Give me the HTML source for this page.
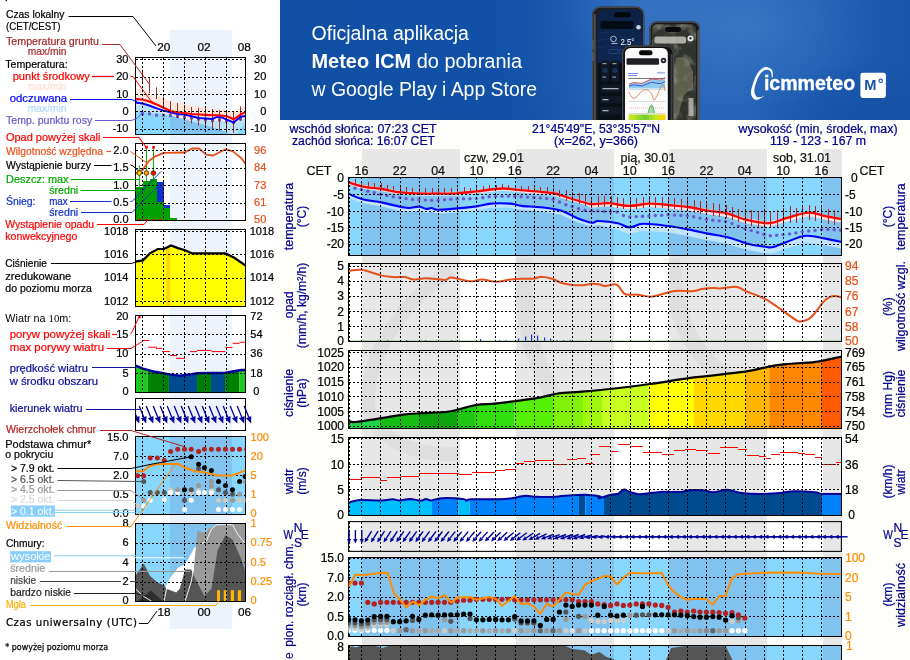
<!DOCTYPE html>
<html lang="pl"><head><meta charset="utf-8"><title>Meteogram ICM</title>
<style>
html,body{margin:0;padding:0;background:#fff;}
body{width:910px;height:660px;overflow:hidden;font-family:"Liberation Sans",sans-serif;}
svg{display:block;will-change:transform;font-family:"Liberation Sans",sans-serif;}
.g{stroke:#000;stroke-width:1;stroke-dasharray:2 2;fill:none;shape-rendering:crispEdges}
.f{stroke:#000;stroke-width:1;fill:none;shape-rendering:crispEdges}
.c{shape-rendering:crispEdges}
</style></head><body>
<svg width="910" height="660" viewBox="0 0 910 660">
<g id="left">
<rect x="0" y="0" width="280" height="660" fill="#fff" />
<rect x="170" y="30" width="61.69999999999999" height="598.5" fill="#edf3fd" class="c"/>
<line x1="6.3" y1="0" x2="6.3" y2="1.2" stroke="#000" stroke-width="1.2" />
<text x="163.7" y="51.4" font-size="11.8" fill="#000" text-anchor="middle" stroke="#000" stroke-width="0.22">20</text>
<text x="204" y="51.4" font-size="11.8" fill="#000" text-anchor="middle" stroke="#000" stroke-width="0.22">02</text>
<text x="244.3" y="51.4" font-size="11.8" fill="#000" text-anchor="middle" stroke="#000" stroke-width="0.22">08</text>
<clipPath id="lc1"><rect x="135.5" y="57.5" width="110.0" height="77.0"/></clipPath>
<g clip-path="url(#lc1)">
<polygon points="135.3,102.4 142.5,103.5 149.8,105.7 156.6,108.4 163.6,110.6 170.6,112.3 177.5,114.0 184.5,114.5 191.6,116.3 198.6,118.0 205.6,118.5 212.6,118.9 217.0,116.9 222.3,117.6 226.7,119.6 233.7,122.5 240.5,116.7 245.7,115.9 246.0,135.0 135.0,135.0" fill="#b9e3fb" />
<polygon points="135.3,87.9 149.8,93.2 169.6,101.1 189.3,105.0 209.1,108.4 232.9,111.0 244.7,106.4 246.0,106.0 245.7,117.5 240.5,120.0 233.7,124.8 226.7,121.8 219.7,120.8 212.6,120.8 205.6,120.4 198.6,120.0 191.6,119.5 184.5,118.5 177.5,117.8 170.6,116.5 163.6,113.2 156.6,109.9 149.8,107.3 142.5,105.0 135.3,104.6" fill="#ffe8dc" />
<polygon points="135.3,111.6 169.6,115.0 189.3,120.9 209.1,126.2 225.0,131.4 231.0,134.5 236.0,134.5 244.7,123.5 246.0,123.0 246.0,135.0 135.0,135.0" fill="#88d7ff" />
<clipPath id="lc1n"><rect x="170" y="57.5" width="61.69999999999999" height="77.0"/></clipPath>
<polygon points="135.3,111.6 169.6,115.0 189.3,120.9 209.1,126.2 225.0,131.4 231.0,134.5 236.0,134.5 244.7,123.5 246.0,123.0 246.0,135.0 135.0,135.0" fill="#80c3ee" clip-path="url(#lc1n)"/>
<rect x="141.0" y="112.1" width="3" height="3" fill="#6a5acd" />
<rect x="148.0" y="112.3" width="3" height="3" fill="#6a5acd" />
<rect x="155.0" y="113.7" width="3" height="3" fill="#6a5acd" />
<rect x="162.0" y="113.7" width="3" height="3" fill="#6a5acd" />
<rect x="169.0" y="114.1" width="3" height="3" fill="#6a5acd" />
<rect x="176.0" y="115.0" width="3" height="3" fill="#6a5acd" />
<rect x="183.0" y="116.0" width="3" height="3" fill="#6a5acd" />
<rect x="190.0" y="116.5" width="3" height="3" fill="#6a5acd" />
<rect x="197.0" y="117.5" width="3" height="3" fill="#6a5acd" />
<rect x="204.0" y="118.5" width="3" height="3" fill="#6a5acd" />
<rect x="211.0" y="119.0" width="3" height="3" fill="#6a5acd" />
<rect x="218.0" y="118.5" width="3" height="3" fill="#6a5acd" />
<rect x="225.0" y="119.5" width="3" height="3" fill="#6a5acd" />
<rect x="232.0" y="121.0" width="3" height="3" fill="#6a5acd" />
<rect x="239.0" y="117.5" width="3" height="3" fill="#6a5acd" />
<line x1="142.5" y1="69.6" x2="142.5" y2="82.7" stroke="#a52a2a" stroke-width="1" />
<line x1="149.5" y1="77.5" x2="149.5" y2="93.3" stroke="#a52a2a" stroke-width="1" />
<line x1="156.5" y1="87.3" x2="156.5" y2="99.1" stroke="#a52a2a" stroke-width="1" />
<line x1="163.5" y1="96.5" x2="163.5" y2="106.4" stroke="#a52a2a" stroke-width="1" />
<line x1="170.5" y1="101.1" x2="170.5" y2="115" stroke="#a52a2a" stroke-width="1" />
<line x1="177.5" y1="103" x2="177.5" y2="118.2" stroke="#a52a2a" stroke-width="1" />
<line x1="184.5" y1="105" x2="184.5" y2="120.9" stroke="#a52a2a" stroke-width="1" />
<line x1="191.5" y1="107" x2="191.5" y2="123.5" stroke="#a52a2a" stroke-width="1" />
<line x1="198.5" y1="107.7" x2="198.5" y2="125.5" stroke="#a52a2a" stroke-width="1" />
<line x1="205.5" y1="108.4" x2="205.5" y2="127.5" stroke="#a52a2a" stroke-width="1" />
<line x1="212.5" y1="109" x2="212.5" y2="129.5" stroke="#a52a2a" stroke-width="1" />
<line x1="219.5" y1="110.3" x2="219.5" y2="130.8" stroke="#a52a2a" stroke-width="1" />
<line x1="226.5" y1="111" x2="226.5" y2="132.7" stroke="#a52a2a" stroke-width="1" />
<line x1="233.5" y1="111.6" x2="233.5" y2="132.7" stroke="#a52a2a" stroke-width="1" />
<line x1="240.5" y1="106.4" x2="240.5" y2="120.9" stroke="#a52a2a" stroke-width="1" />
<polyline points="135.3,102.4 142.5,103.5 149.8,105.7 156.6,108.4 163.6,110.6 170.6,112.3 177.5,114.0 184.5,114.5 191.6,116.3 198.6,118.0 205.6,118.5 212.6,118.9 217.0,116.9 222.3,117.6 226.7,119.6 233.7,122.5 240.5,116.7 245.7,115.9" fill="none" stroke="#0000ff" stroke-width="2" stroke-linejoin="round"/>
<polyline points="135.3,99.1 142.5,99.5 149.8,101.8 156.6,104.4 163.6,107.7 170.6,111.0 177.5,112.3 184.5,113.0 191.6,114.0 198.6,114.5 205.6,114.9 212.6,115.3 219.7,115.3 226.7,116.3 233.7,119.3 240.5,114.5 245.7,112.0" fill="none" stroke="#ff0000" stroke-width="2.1" stroke-linejoin="round"/>
</g>
<line x1="142.5" y1="57.5" x2="142.5" y2="134.5" stroke="#000" stroke-width="1" class="g"/>
<line x1="163.5" y1="57.5" x2="163.5" y2="134.5" stroke="#000" stroke-width="1" class="g"/>
<line x1="184.5" y1="57.5" x2="184.5" y2="134.5" stroke="#000" stroke-width="1" class="g"/>
<line x1="205.5" y1="57.5" x2="205.5" y2="134.5" stroke="#000" stroke-width="1" class="g"/>
<line x1="226.5" y1="57.5" x2="226.5" y2="134.5" stroke="#000" stroke-width="1" class="g"/>
<line x1="135.5" y1="59.9" x2="245.5" y2="59.9" stroke="#000" stroke-width="1" class="g"/>
<line x1="135.5" y1="77.3" x2="245.5" y2="77.3" stroke="#000" stroke-width="1" class="g"/>
<line x1="135.5" y1="94.6" x2="245.5" y2="94.6" stroke="#000" stroke-width="1" class="g"/>
<line x1="135.5" y1="111.9" x2="245.5" y2="111.9" stroke="#000" stroke-width="1" class="g"/>
<line x1="135.5" y1="129.2" x2="245.5" y2="129.2" stroke="#000" stroke-width="1" class="g"/>
<rect x="135.5" y="57.5" width="110.0" height="77.0" class="f"/>
<text x="128.5" y="63.0" font-size="11" fill="#000" text-anchor="end" stroke="#000" stroke-width="0.22">30</text>
<text x="266.3" y="63.0" font-size="11" fill="#000" text-anchor="end" stroke="#000" stroke-width="0.22">30</text>
<text x="128.5" y="80.39999999999999" font-size="11" fill="#000" text-anchor="end" stroke="#000" stroke-width="0.22">20</text>
<text x="266.3" y="80.39999999999999" font-size="11" fill="#000" text-anchor="end" stroke="#000" stroke-width="0.22">20</text>
<text x="128.5" y="97.69999999999999" font-size="11" fill="#000" text-anchor="end" stroke="#000" stroke-width="0.22">10</text>
<text x="266.3" y="97.69999999999999" font-size="11" fill="#000" text-anchor="end" stroke="#000" stroke-width="0.22">10</text>
<text x="128.5" y="115.0" font-size="11" fill="#000" text-anchor="end" stroke="#000" stroke-width="0.22">0</text>
<text x="266.3" y="115.0" font-size="11" fill="#000" text-anchor="end" stroke="#000" stroke-width="0.22">0</text>
<text x="128.5" y="132.29999999999998" font-size="11" fill="#000" text-anchor="end" stroke="#000" stroke-width="0.22">-10</text>
<text x="266.3" y="132.29999999999998" font-size="11" fill="#000" text-anchor="end" stroke="#000" stroke-width="0.22">-10</text>
<clipPath id="lc2"><rect x="135.5" y="143.5" width="110.0" height="77.0"/></clipPath>
<g clip-path="url(#lc2)">
<rect x="136" y="187.1" width="6.900000000000006" height="33.900000000000006" fill="#00a000" class="c"/>
<rect x="142.9" y="181" width="7.0" height="40" fill="#00a000" class="c"/>
<rect x="149.9" y="179.2" width="7.099999999999994" height="41.80000000000001" fill="#00a000" class="c"/>
<rect x="157" y="202" width="7" height="19" fill="#00a000" class="c"/>
<rect x="164" y="208.2" width="6" height="12.800000000000011" fill="#00a000" class="c"/>
<rect x="170" y="218.4" width="7" height="2.5999999999999943" fill="#00a000" class="c"/>
<rect x="157" y="181.9" width="7" height="20.1" fill="#1030d0" class="c"/>
<rect x="164" y="205.3" width="6" height="2.9" fill="#1030d0" class="c"/>
<line x1="139.3" y1="165.2" x2="139.3" y2="187" stroke="#00a000" stroke-width="1" />
<line x1="146.4" y1="147" x2="146.4" y2="181" stroke="#00a000" stroke-width="1" />
<line x1="153.4" y1="147" x2="153.4" y2="180" stroke="#00a000" stroke-width="1" />
<rect x="145.20000000000002" y="146" width="2.6" height="2.6" fill="#ff0000" />
<rect x="152.20000000000002" y="146" width="2.6" height="2.6" fill="#ff0000" />
<polyline points="135.5,173.6 142.9,169.6 149.0,160.8 155.2,156.4 164.0,152.9 185.0,152.5 192.0,148.5 199.0,148.5 206.2,154.6 213.2,155.5 225.5,149.3 232.5,151.1 241.3,158.1 245.7,164.3" fill="none" stroke="#e8501a" stroke-width="1.8" stroke-linejoin="round"/>
<circle cx="139.3" cy="173" r="2.3" fill="#ffe000" stroke="#5a2a00" stroke-width="0.9"/>
<circle cx="146.4" cy="173" r="2.3" fill="#ffa500" stroke="#5a2a00" stroke-width="0.9"/>
<circle cx="153.4" cy="173" r="2.3" fill="#ff0000" stroke="#5a2a00" stroke-width="0.9"/>
<rect x="138" y="219" width="3" height="1" fill="#ff0000" />
<rect x="145" y="219" width="3" height="1" fill="#ff0000" />
<rect x="152" y="219" width="3" height="1" fill="#ff0000" />
<rect x="159" y="219" width="3" height="1" fill="#ff0000" />
</g>
<line x1="142.5" y1="143.5" x2="142.5" y2="220.5" stroke="#000" stroke-width="1" class="g"/>
<line x1="163.5" y1="143.5" x2="163.5" y2="220.5" stroke="#000" stroke-width="1" class="g"/>
<line x1="184.5" y1="143.5" x2="184.5" y2="220.5" stroke="#000" stroke-width="1" class="g"/>
<line x1="205.5" y1="143.5" x2="205.5" y2="220.5" stroke="#000" stroke-width="1" class="g"/>
<line x1="226.5" y1="143.5" x2="226.5" y2="220.5" stroke="#000" stroke-width="1" class="g"/>
<line x1="135.5" y1="150.7" x2="245.5" y2="150.7" stroke="#000" stroke-width="1" class="g"/>
<line x1="135.5" y1="168.2" x2="245.5" y2="168.2" stroke="#000" stroke-width="1" class="g"/>
<line x1="135.5" y1="185.6" x2="245.5" y2="185.6" stroke="#000" stroke-width="1" class="g"/>
<line x1="135.5" y1="203" x2="245.5" y2="203" stroke="#000" stroke-width="1" class="g"/>
<line x1="135.5" y1="220.2" x2="245.5" y2="220.2" stroke="#000" stroke-width="1" class="g"/>
<rect x="135.5" y="143.5" width="110.0" height="77.0" class="f"/>
<text x="128.5" y="153.79999999999998" font-size="11" fill="#000" text-anchor="end" stroke="#000" stroke-width="0.22">2.0</text>
<text x="266.3" y="153.79999999999998" font-size="11" fill="#e8501a" text-anchor="end" stroke="#e8501a" stroke-width="0.22">96</text>
<text x="128.5" y="171.29999999999998" font-size="11" fill="#000" text-anchor="end" stroke="#000" stroke-width="0.22">1.5</text>
<text x="266.3" y="171.29999999999998" font-size="11" fill="#e8501a" text-anchor="end" stroke="#e8501a" stroke-width="0.22">84</text>
<text x="128.5" y="188.7" font-size="11" fill="#000" text-anchor="end" stroke="#000" stroke-width="0.22">1.0</text>
<text x="266.3" y="188.7" font-size="11" fill="#e8501a" text-anchor="end" stroke="#e8501a" stroke-width="0.22">73</text>
<text x="128.5" y="206.1" font-size="11" fill="#000" text-anchor="end" stroke="#000" stroke-width="0.22">0.5</text>
<text x="266.3" y="206.1" font-size="11" fill="#e8501a" text-anchor="end" stroke="#e8501a" stroke-width="0.22">61</text>
<text x="128.5" y="223.29999999999998" font-size="11" fill="#000" text-anchor="end" stroke="#000" stroke-width="0.22">0.0</text>
<text x="266.3" y="223.29999999999998" font-size="11" fill="#e8501a" text-anchor="end" stroke="#e8501a" stroke-width="0.22">50</text>
<clipPath id="lc3"><rect x="135.5" y="229.5" width="110.0" height="77.0"/></clipPath>
<g clip-path="url(#lc3)">
<polygon points="135.5,261.7 142.9,260.4 149.9,253.4 157.8,249.0 164.0,249.0 171.0,245.5 178.0,248.1 185.0,250.2 192.1,253.4 225.5,253.4 234.3,257.8 245.7,265.7 246.0,307.0 135.0,307.0" fill="#ffff00" />
<clipPath id="lc3b"><rect x="166" y="229" width="4.3" height="80"/></clipPath>
<polygon points="135.5,261.7 142.9,260.4 149.9,253.4 157.8,249.0 164.0,249.0 171.0,245.5 178.0,248.1 185.0,250.2 192.1,253.4 225.5,253.4 234.3,257.8 245.7,265.7 246.0,307.0 135.0,307.0" fill="#ffd700" clip-path="url(#lc3b)"/>
<polyline points="135.5,261.7 142.9,260.4 149.9,253.4 157.8,249.0 164.0,249.0 171.0,245.5 178.0,248.1 185.0,250.2 192.1,253.4 225.5,253.4 234.3,257.8 245.7,265.7" fill="none" stroke="#000" stroke-width="2.2" />
</g>
<line x1="142.5" y1="229.5" x2="142.5" y2="306.5" stroke="#000" stroke-width="1" class="g"/>
<line x1="163.5" y1="229.5" x2="163.5" y2="306.5" stroke="#000" stroke-width="1" class="g"/>
<line x1="184.5" y1="229.5" x2="184.5" y2="306.5" stroke="#000" stroke-width="1" class="g"/>
<line x1="205.5" y1="229.5" x2="205.5" y2="306.5" stroke="#000" stroke-width="1" class="g"/>
<line x1="226.5" y1="229.5" x2="226.5" y2="306.5" stroke="#000" stroke-width="1" class="g"/>
<line x1="135.5" y1="231.4" x2="245.5" y2="231.4" stroke="#000" stroke-width="1" class="g"/>
<line x1="135.5" y1="254.7" x2="245.5" y2="254.7" stroke="#000" stroke-width="1" class="g"/>
<line x1="135.5" y1="278" x2="245.5" y2="278" stroke="#000" stroke-width="1" class="g"/>
<line x1="135.5" y1="301.6" x2="245.5" y2="301.6" stroke="#000" stroke-width="1" class="g"/>
<rect x="135.5" y="229.5" width="110.0" height="77.0" class="f"/>
<text x="128.5" y="234.5" font-size="11" fill="#000" text-anchor="end" stroke="#000" stroke-width="0.22">1018</text>
<text x="274.2" y="234.5" font-size="11" fill="#000" text-anchor="end" stroke="#000" stroke-width="0.22">1018</text>
<text x="128.5" y="257.8" font-size="11" fill="#000" text-anchor="end" stroke="#000" stroke-width="0.22">1016</text>
<text x="274.2" y="257.8" font-size="11" fill="#000" text-anchor="end" stroke="#000" stroke-width="0.22">1016</text>
<text x="128.5" y="281.1" font-size="11" fill="#000" text-anchor="end" stroke="#000" stroke-width="0.22">1014</text>
<text x="274.2" y="281.1" font-size="11" fill="#000" text-anchor="end" stroke="#000" stroke-width="0.22">1014</text>
<text x="128.5" y="304.70000000000005" font-size="11" fill="#000" text-anchor="end" stroke="#000" stroke-width="0.22">1012</text>
<text x="274.2" y="304.70000000000005" font-size="11" fill="#000" text-anchor="end" stroke="#000" stroke-width="0.22">1012</text>
<clipPath id="lc4"><rect x="135.5" y="315.5" width="110.0" height="77.0"/></clipPath>
<g clip-path="url(#lc4)">
<clipPath id="lc4_0"><rect x="135.5" y="315" width="12.300000000000011" height="80"/></clipPath>
<polygon points="135.5,365.7 142.9,368.6 155.2,371.8 169.2,374.4 179.8,375.7 190.3,374.4 197.4,373.2 225.5,372.7 232.5,371.5 241.3,370.0 245.7,370.0 246.0,393.0 135.0,393.0" fill="#1fc81f" clip-path="url(#lc4_0)"/>
<clipPath id="lc4_1"><rect x="147.8" y="315" width="21.099999999999994" height="80"/></clipPath>
<polygon points="135.5,365.7 142.9,368.6 155.2,371.8 169.2,374.4 179.8,375.7 190.3,374.4 197.4,373.2 225.5,372.7 232.5,371.5 241.3,370.0 245.7,370.0 246.0,393.0 135.0,393.0" fill="#008000" clip-path="url(#lc4_1)"/>
<clipPath id="lc4_2"><rect x="168.9" y="315" width="28.099999999999994" height="80"/></clipPath>
<polygon points="135.5,365.7 142.9,368.6 155.2,371.8 169.2,374.4 179.8,375.7 190.3,374.4 197.4,373.2 225.5,372.7 232.5,371.5 241.3,370.0 245.7,370.0 246.0,393.0 135.0,393.0" fill="#004a8f" clip-path="url(#lc4_2)"/>
<clipPath id="lc4_3"><rect x="197" y="315" width="14" height="80"/></clipPath>
<polygon points="135.5,365.7 142.9,368.6 155.2,371.8 169.2,374.4 179.8,375.7 190.3,374.4 197.4,373.2 225.5,372.7 232.5,371.5 241.3,370.0 245.7,370.0 246.0,393.0 135.0,393.0" fill="#008000" clip-path="url(#lc4_3)"/>
<clipPath id="lc4_4"><rect x="211" y="315" width="14.099999999999994" height="80"/></clipPath>
<polygon points="135.5,365.7 142.9,368.6 155.2,371.8 169.2,374.4 179.8,375.7 190.3,374.4 197.4,373.2 225.5,372.7 232.5,371.5 241.3,370.0 245.7,370.0 246.0,393.0 135.0,393.0" fill="#004a8f" clip-path="url(#lc4_4)"/>
<clipPath id="lc4_5"><rect x="225.1" y="315" width="14.099999999999994" height="80"/></clipPath>
<polygon points="135.5,365.7 142.9,368.6 155.2,371.8 169.2,374.4 179.8,375.7 190.3,374.4 197.4,373.2 225.5,372.7 232.5,371.5 241.3,370.0 245.7,370.0 246.0,393.0 135.0,393.0" fill="#008000" clip-path="url(#lc4_5)"/>
<clipPath id="lc4_6"><rect x="239.2" y="315" width="6.800000000000011" height="80"/></clipPath>
<polygon points="135.5,365.7 142.9,368.6 155.2,371.8 169.2,374.4 179.8,375.7 190.3,374.4 197.4,373.2 225.5,372.7 232.5,371.5 241.3,370.0 245.7,370.0 246.0,393.0 135.0,393.0" fill="#1fc81f" clip-path="url(#lc4_6)"/>
<polyline points="135.5,365.7 142.9,368.6 155.2,371.8 169.2,374.4 179.8,375.7 190.3,374.4 197.4,373.2 225.5,372.7 232.5,371.5 241.3,370.0 245.7,370.0" fill="none" stroke="#0000a0" stroke-width="2.4" />
<line x1="142.9" y1="340.5" x2="149" y2="340.5" stroke="#ff0000" stroke-width="1" />
<line x1="148" y1="347.2" x2="157" y2="347.2" stroke="#ff0000" stroke-width="1" />
<line x1="156" y1="348.4" x2="162" y2="348.4" stroke="#ff0000" stroke-width="1" />
<line x1="162" y1="351.6" x2="170" y2="351.6" stroke="#ff0000" stroke-width="1" />
<line x1="170" y1="355.6" x2="177" y2="355.6" stroke="#ff0000" stroke-width="1" />
<line x1="176" y1="358.3" x2="185" y2="358.3" stroke="#ff0000" stroke-width="1" />
<line x1="190" y1="351.6" x2="197" y2="351.6" stroke="#ff0000" stroke-width="1" />
<line x1="197" y1="350.4" x2="211.4" y2="350.4" stroke="#ff0000" stroke-width="1" />
<line x1="211.4" y1="351.6" x2="225.5" y2="351.6" stroke="#ff0000" stroke-width="1" />
<line x1="225.5" y1="347.5" x2="232.5" y2="347.5" stroke="#ff0000" stroke-width="1" />
<line x1="232.5" y1="343.3" x2="239.6" y2="343.3" stroke="#ff0000" stroke-width="1" />
<line x1="239.6" y1="342.3" x2="245.7" y2="342.3" stroke="#ff0000" stroke-width="1" />
<rect x="138.2" y="315.8" width="2.4" height="2.4" fill="#ff0000" />
</g>
<line x1="142.5" y1="315.5" x2="142.5" y2="392.5" stroke="#000" stroke-width="1" class="g"/>
<line x1="163.5" y1="315.5" x2="163.5" y2="392.5" stroke="#000" stroke-width="1" class="g"/>
<line x1="184.5" y1="315.5" x2="184.5" y2="392.5" stroke="#000" stroke-width="1" class="g"/>
<line x1="205.5" y1="315.5" x2="205.5" y2="392.5" stroke="#000" stroke-width="1" class="g"/>
<line x1="226.5" y1="315.5" x2="226.5" y2="392.5" stroke="#000" stroke-width="1" class="g"/>
<line x1="135.5" y1="334" x2="245.5" y2="334" stroke="#000" stroke-width="1" class="g"/>
<line x1="135.5" y1="354.2" x2="245.5" y2="354.2" stroke="#000" stroke-width="1" class="g"/>
<line x1="135.5" y1="373.6" x2="245.5" y2="373.6" stroke="#000" stroke-width="1" class="g"/>
<rect x="135.5" y="315.5" width="110.0" height="77.0" class="f"/>
<text x="128.5" y="319.6" font-size="11" fill="#000" text-anchor="end" stroke="#000" stroke-width="0.22">20</text>
<text x="256.4" y="319.6" font-size="11" fill="#000" text-anchor="middle" stroke="#000" stroke-width="0.22">72</text>
<text x="128.5" y="337.6" font-size="11" fill="#000" text-anchor="end" stroke="#000" stroke-width="0.22">15</text>
<text x="256.4" y="337.6" font-size="11" fill="#000" text-anchor="middle" stroke="#000" stroke-width="0.22">54</text>
<text x="128.5" y="357.3" font-size="11" fill="#000" text-anchor="end" stroke="#000" stroke-width="0.22">10</text>
<text x="256.4" y="357.3" font-size="11" fill="#000" text-anchor="middle" stroke="#000" stroke-width="0.22">36</text>
<text x="128.5" y="376.70000000000005" font-size="11" fill="#000" text-anchor="end" stroke="#000" stroke-width="0.22">5</text>
<text x="256.4" y="376.70000000000005" font-size="11" fill="#000" text-anchor="middle" stroke="#000" stroke-width="0.22">18</text>
<text x="128.5" y="395.1" font-size="11" fill="#000" text-anchor="end" stroke="#000" stroke-width="0.22">0</text>
<text x="256.4" y="395.1" font-size="11" fill="#000" text-anchor="middle" stroke="#000" stroke-width="0.22">0</text>
<line x1="142.5" y1="398.5" x2="142.5" y2="430.5" stroke="#000" stroke-width="1" class="g"/>
<line x1="163.5" y1="398.5" x2="163.5" y2="430.5" stroke="#000" stroke-width="1" class="g"/>
<line x1="184.5" y1="398.5" x2="184.5" y2="430.5" stroke="#000" stroke-width="1" class="g"/>
<line x1="205.5" y1="398.5" x2="205.5" y2="430.5" stroke="#000" stroke-width="1" class="g"/>
<line x1="226.5" y1="398.5" x2="226.5" y2="430.5" stroke="#000" stroke-width="1" class="g"/>
<rect x="135.5" y="398.5" width="110.0" height="32.0" class="f"/>
<clipPath id="lc5"><rect x="135.5" y="398.5" width="116.0" height="32.0"/></clipPath><g clip-path="url(#lc5)">
<line x1="132.2" y1="406.1" x2="136.7" y2="417.1" stroke="#00009c" stroke-width="1.3" />
<polygon points="139.3,423.4 133.9,418.2 139.5,416.0" fill="#00009c" />
<line x1="139.2" y1="406.1" x2="143.7" y2="417.1" stroke="#00009c" stroke-width="1.3" />
<polygon points="146.3,423.4 140.9,418.2 146.5,416.0" fill="#00009c" />
<line x1="146.2" y1="406.1" x2="150.7" y2="417.1" stroke="#00009c" stroke-width="1.3" />
<polygon points="153.3,423.4 147.9,418.2 153.5,416.0" fill="#00009c" />
<line x1="153.2" y1="406.1" x2="157.7" y2="417.1" stroke="#00009c" stroke-width="1.3" />
<polygon points="160.3,423.4 154.9,418.2 160.5,416.0" fill="#00009c" />
<line x1="160.2" y1="406.1" x2="164.7" y2="417.1" stroke="#00009c" stroke-width="1.3" />
<polygon points="167.3,423.4 161.9,418.2 167.5,416.0" fill="#00009c" />
<line x1="167.2" y1="406.1" x2="171.7" y2="417.1" stroke="#00009c" stroke-width="1.3" />
<polygon points="174.3,423.4 168.9,418.2 174.5,416.0" fill="#00009c" />
<line x1="174.2" y1="406.1" x2="178.7" y2="417.1" stroke="#00009c" stroke-width="1.3" />
<polygon points="181.3,423.4 175.9,418.2 181.5,416.0" fill="#00009c" />
<line x1="181.2" y1="406.1" x2="185.7" y2="417.1" stroke="#00009c" stroke-width="1.3" />
<polygon points="188.3,423.4 182.9,418.2 188.5,416.0" fill="#00009c" />
<line x1="188.2" y1="406.1" x2="192.7" y2="417.1" stroke="#00009c" stroke-width="1.3" />
<polygon points="195.3,423.4 189.9,418.2 195.5,416.0" fill="#00009c" />
<line x1="195.2" y1="406.1" x2="199.7" y2="417.1" stroke="#00009c" stroke-width="1.3" />
<polygon points="202.3,423.4 196.9,418.2 202.5,416.0" fill="#00009c" />
<line x1="202.2" y1="406.1" x2="206.7" y2="417.1" stroke="#00009c" stroke-width="1.3" />
<polygon points="209.3,423.4 203.9,418.2 209.5,416.0" fill="#00009c" />
<line x1="209.2" y1="406.1" x2="213.7" y2="417.1" stroke="#00009c" stroke-width="1.3" />
<polygon points="216.3,423.4 210.9,418.2 216.5,416.0" fill="#00009c" />
<line x1="216.2" y1="406.1" x2="220.7" y2="417.1" stroke="#00009c" stroke-width="1.3" />
<polygon points="223.3,423.4 217.9,418.2 223.5,416.0" fill="#00009c" />
<line x1="223.2" y1="406.1" x2="227.7" y2="417.1" stroke="#00009c" stroke-width="1.3" />
<polygon points="230.3,423.4 224.9,418.2 230.5,416.0" fill="#00009c" />
<line x1="230.2" y1="406.1" x2="234.7" y2="417.1" stroke="#00009c" stroke-width="1.3" />
<polygon points="237.3,423.4 231.9,418.2 237.5,416.0" fill="#00009c" />
<line x1="237.2" y1="406.1" x2="241.7" y2="417.1" stroke="#00009c" stroke-width="1.3" />
<polygon points="244.3,423.4 238.9,418.2 244.5,416.0" fill="#00009c" />
<line x1="244.2" y1="406.1" x2="248.7" y2="417.1" stroke="#00009c" stroke-width="1.3" />
<polygon points="251.3,423.4 245.9,418.2 251.5,416.0" fill="#00009c" />
</g>
<rect x="135.5" y="436.5" width="110.0" height="77.5" fill="#88d7ff" class="c"/>
<rect x="170" y="436.5" width="61.69999999999999" height="77.5" fill="#80c3ee" class="c"/>
<clipPath id="lc6"><rect x="135.5" y="436.5" width="110.0" height="77.5"/></clipPath>
<line x1="142.5" y1="436.5" x2="142.5" y2="514" stroke="#000" stroke-width="1" class="g"/>
<line x1="163.5" y1="436.5" x2="163.5" y2="514" stroke="#000" stroke-width="1" class="g"/>
<line x1="184.5" y1="436.5" x2="184.5" y2="514" stroke="#000" stroke-width="1" class="g"/>
<line x1="205.5" y1="436.5" x2="205.5" y2="514" stroke="#000" stroke-width="1" class="g"/>
<line x1="226.5" y1="436.5" x2="226.5" y2="514" stroke="#000" stroke-width="1" class="g"/>
<line x1="135.5" y1="456.4" x2="245.5" y2="456.4" stroke="#000" stroke-width="1" class="g"/>
<line x1="135.5" y1="475.4" x2="245.5" y2="475.4" stroke="#000" stroke-width="1" class="g"/>
<line x1="135.5" y1="495" x2="245.5" y2="495" stroke="#000" stroke-width="1" class="g"/>
<rect x="135.5" y="436.5" width="110.0" height="77.5" class="f"/>
<g clip-path="url(#lc6)">
<polyline points="135.5,471.3 142.9,471.3 149.9,466.0 157.8,464.3 178.0,463.8 185.0,467.8 195.6,471.3 204.4,472.2 216.7,475.4 232.5,475.4 245.7,470.4" fill="none" stroke="#ff8c00" stroke-width="2" stroke-linejoin="round"/>
<circle cx="137.6" cy="506" r="2.5" fill="#cfcac4"/>
<circle cx="170.6" cy="489.8" r="2.5" fill="#cfcac4"/>
<circle cx="198.6" cy="490.7" r="2.5" fill="#cfcac4"/>
<circle cx="191.2" cy="492.4" r="2.5" fill="#cfcac4"/>
<circle cx="211.4" cy="490.7" r="2.5" fill="#cfcac4"/>
<circle cx="218.5" cy="500.3" r="2.5" fill="#cfcac4"/>
<circle cx="225.5" cy="500.3" r="2.5" fill="#cfcac4"/>
<circle cx="239.6" cy="500.3" r="2.5" fill="#cfcac4"/>
<circle cx="245.5" cy="500.3" r="2.5" fill="#cfcac4"/>
<circle cx="143.7" cy="506" r="2.5" fill="#ffffff"/>
<circle cx="150.2" cy="500.3" r="2.5" fill="#ffffff"/>
<circle cx="164.3" cy="499.5" r="2.5" fill="#ffffff"/>
<circle cx="170.6" cy="492.4" r="2.5" fill="#ffffff"/>
<circle cx="177.7" cy="492.4" r="2.5" fill="#ffffff"/>
<circle cx="191.2" cy="500.3" r="2.5" fill="#ffffff"/>
<circle cx="198.6" cy="492.8" r="2.5" fill="#ffffff"/>
<circle cx="204.4" cy="492.4" r="2.5" fill="#ffffff"/>
<circle cx="211.4" cy="492.8" r="2.5" fill="#ffffff"/>
<circle cx="184.5" cy="509.5" r="2.5" fill="#ffffff"/>
<circle cx="218.5" cy="509.5" r="2.5" fill="#ffffff"/>
<circle cx="225.5" cy="509.5" r="2.5" fill="#ffffff"/>
<circle cx="232.5" cy="509.5" r="2.5" fill="#ffffff"/>
<circle cx="239.6" cy="509.5" r="2.5" fill="#ffffff"/>
<circle cx="143.7" cy="500.3" r="2.5" fill="#999999"/>
<circle cx="198.6" cy="485.4" r="2.5" fill="#999999"/>
<circle cx="211.4" cy="481.5" r="2.5" fill="#999999"/>
<circle cx="211.4" cy="486.2" r="2.5" fill="#999999"/>
<circle cx="232.5" cy="500.3" r="2.5" fill="#999999"/>
<circle cx="177.7" cy="489.8" r="2.5" fill="#999999"/>
<circle cx="239.6" cy="494.2" r="2.5" fill="#999999"/>
<circle cx="245.5" cy="481.5" r="2.5" fill="#999999"/>
<circle cx="143.7" cy="481.5" r="2.5" fill="#555555"/>
<circle cx="150.2" cy="492.4" r="2.5" fill="#555555"/>
<circle cx="157.3" cy="492.4" r="2.5" fill="#555555"/>
<circle cx="164.3" cy="492.4" r="2.5" fill="#555555"/>
<circle cx="191.2" cy="489.8" r="2.5" fill="#555555"/>
<circle cx="218.5" cy="489.8" r="2.5" fill="#555555"/>
<circle cx="225.5" cy="492.4" r="2.5" fill="#555555"/>
<circle cx="232.5" cy="494.2" r="2.5" fill="#555555"/>
<circle cx="184.5" cy="500.3" r="2.5" fill="#555555"/>
<circle cx="198.6" cy="468.5" r="2.5" fill="#555555"/>
<circle cx="191.2" cy="456.7" r="2.5" fill="#000000"/>
<circle cx="198.6" cy="464.3" r="2.5" fill="#000000"/>
<circle cx="204.4" cy="467.8" r="2.5" fill="#000000"/>
<circle cx="211.4" cy="470.4" r="2.5" fill="#000000"/>
<circle cx="218.5" cy="481.5" r="2.5" fill="#000000"/>
<circle cx="225.5" cy="485.4" r="2.5" fill="#000000"/>
<circle cx="232.5" cy="489.8" r="2.5" fill="#000000"/>
<circle cx="239.6" cy="481.5" r="2.5" fill="#000000"/>
<circle cx="245.2" cy="476.6" r="2.5" fill="#000000"/>
<circle cx="184.5" cy="489.8" r="2.5" fill="#000000"/>
<circle cx="137.6" cy="475.7" r="2.5" fill="#b22222"/>
<circle cx="143.7" cy="475.7" r="2.5" fill="#b22222"/>
<circle cx="150.2" cy="458.1" r="2.5" fill="#b22222"/>
<circle cx="157.3" cy="458.1" r="2.5" fill="#b22222"/>
<circle cx="164.3" cy="460.2" r="2.5" fill="#b22222"/>
<circle cx="170.6" cy="451.5" r="2.5" fill="#b22222"/>
<circle cx="177.7" cy="449.3" r="2.5" fill="#b22222"/>
<circle cx="184.5" cy="449.3" r="2.5" fill="#b22222"/>
<circle cx="191.2" cy="449.3" r="2.5" fill="#b22222"/>
<circle cx="198.6" cy="451.5" r="2.5" fill="#b22222"/>
<circle cx="204.4" cy="449.3" r="2.5" fill="#b22222"/>
<circle cx="211.43" cy="449.3" r="2.5" fill="#b22222"/>
<circle cx="218.46" cy="449.3" r="2.5" fill="#b22222"/>
<circle cx="225.49" cy="449.3" r="2.5" fill="#b22222"/>
<circle cx="232.52" cy="449.3" r="2.5" fill="#b22222"/>
<circle cx="239.55" cy="449.3" r="2.5" fill="#b22222"/>
<circle cx="246.58" cy="449.3" r="2.5" fill="#b22222"/>
</g>
<text x="128.5" y="440.5" font-size="11" fill="#000" text-anchor="end" stroke="#000" stroke-width="0.22">15.0</text>
<text x="250.6" y="440.5" font-size="11" fill="#ff8c00" stroke="#ff8c00" stroke-width="0.22">100</text>
<text x="128.5" y="459.5" font-size="11" fill="#000" text-anchor="end" stroke="#000" stroke-width="0.22">7.0</text>
<text x="250.6" y="459.5" font-size="11" fill="#ff8c00" stroke="#ff8c00" stroke-width="0.22">20</text>
<text x="128.5" y="478.5" font-size="11" fill="#000" text-anchor="end" stroke="#000" stroke-width="0.22">2.0</text>
<text x="250.6" y="478.5" font-size="11" fill="#ff8c00" stroke="#ff8c00" stroke-width="0.22">5</text>
<text x="128.5" y="498.1" font-size="11" fill="#000" text-anchor="end" stroke="#000" stroke-width="0.22">0.5</text>
<text x="250.6" y="498.1" font-size="11" fill="#ff8c00" stroke="#ff8c00" stroke-width="0.22">1</text>
<text x="128.5" y="516.8000000000001" font-size="11" fill="#000" text-anchor="end" stroke="#000" stroke-width="0.22">0.0</text>
<text x="250.6" y="516.8000000000001" font-size="11" fill="#ff8c00" stroke="#ff8c00" stroke-width="0.22">0</text>
<rect x="135.5" y="523.5" width="110.0" height="78.0" fill="#88d7ff" class="c"/>
<rect x="170" y="523.5" width="61.69999999999999" height="78.0" fill="#80c3ee" class="c"/>
<clipPath id="lc7"><rect x="135.5" y="523.5" width="110.0" height="78.0"/></clipPath>
<g clip-path="url(#lc7)">
<polygon points="164.8,595.9 166.1,585.3 171.0,576.5 178.0,567.7 185.1,564.2 190.3,555.4 193.8,548.4 197.4,544.9 200.9,544.0 211.4,529.1 216.7,524.7 232.5,524.7 237.8,534.3 245.7,544.0 245.7,601.2 164.0,601.2" fill="#ffffff" />
<polygon points="193.8,567.7 195.6,550.2 197.4,530.8 202.6,532.6 206.2,531.7 209.7,528.2 214.9,525.5 225.5,523.8 245.7,523.8 245.7,601.2 190.3,601.2 191.2,581.8" fill="#999999" />
<polygon points="135.5,575.7 143.7,563.4 149.9,575.7 157.8,582.7 164.0,585.3 166.1,588.8 171.0,590.6 176.3,592.4 179.8,588.8 185.1,569.5 191.2,569.5 193.8,575.7 204.4,595.9 211.4,588.8 217.6,550.2 225.5,535.2 232.5,539.6 241.3,559.0 245.7,573.0 245.7,601.2 135.5,601.2" fill="#555555" />
<polygon points="137.6,601.2 150.8,590.6 163.1,601.2" fill="#2e2e2e" />
<polyline points="135.5,588.8 142.9,595.9 151.6,601.2" fill="none" stroke="#fff" stroke-width="0.9" />
<polyline points="164.0,601.2 166.6,588.8" fill="none" stroke="#fff" stroke-width="0.9" />
<polyline points="185.1,601.2 191.2,581.8 193.8,567.7" fill="none" stroke="#fff" stroke-width="0.9" />
<polyline points="200.9,544.0 206.2,541.4 211.4,529.1 216.7,524.7 232.5,524.7 237.8,534.3 245.7,544.0" fill="none" stroke="#fff" stroke-width="0.9" />
<rect x="217" y="590.2" width="3" height="12" fill="#ffb400" />
<rect x="223.7" y="590.2" width="2.8000000000000114" height="12" fill="#ffb400" />
<rect x="230.8" y="590.2" width="3.1999999999999886" height="12" fill="#ffb400" />
<rect x="237.8" y="590.2" width="3.1999999999999886" height="12" fill="#ffb400" />
</g>
<line x1="142.5" y1="523.5" x2="142.5" y2="601.5" stroke="#000" stroke-width="1" class="g"/>
<line x1="163.5" y1="523.5" x2="163.5" y2="601.5" stroke="#000" stroke-width="1" class="g"/>
<line x1="184.5" y1="523.5" x2="184.5" y2="601.5" stroke="#000" stroke-width="1" class="g"/>
<line x1="205.5" y1="523.5" x2="205.5" y2="601.5" stroke="#000" stroke-width="1" class="g"/>
<line x1="226.5" y1="523.5" x2="226.5" y2="601.5" stroke="#000" stroke-width="1" class="g"/>
<line x1="135.5" y1="543" x2="245.5" y2="543" stroke="#000" stroke-width="1" class="g"/>
<line x1="135.5" y1="562.5" x2="245.5" y2="562.5" stroke="#000" stroke-width="1" class="g"/>
<line x1="135.5" y1="582" x2="245.5" y2="582" stroke="#000" stroke-width="1" class="g"/>
<rect x="135.5" y="523.5" width="110.0" height="78.0" class="f"/>
<text x="128.5" y="527.1" font-size="11" fill="#000" text-anchor="end" stroke="#000" stroke-width="0.22">8</text>
<text x="250.6" y="527.1" font-size="11" fill="#ff8c00" stroke="#ff8c00" stroke-width="0.22">1</text>
<text x="128.5" y="546.1" font-size="11" fill="#000" text-anchor="end" stroke="#000" stroke-width="0.22">6</text>
<text x="250.6" y="546.1" font-size="11" fill="#ff8c00" stroke="#ff8c00" stroke-width="0.22">0.75</text>
<text x="128.5" y="565.6" font-size="11" fill="#000" text-anchor="end" stroke="#000" stroke-width="0.22">4</text>
<text x="250.6" y="565.6" font-size="11" fill="#ff8c00" stroke="#ff8c00" stroke-width="0.22">0.5</text>
<text x="128.5" y="585.1" font-size="11" fill="#000" text-anchor="end" stroke="#000" stroke-width="0.22">2</text>
<text x="250.6" y="585.1" font-size="11" fill="#ff8c00" stroke="#ff8c00" stroke-width="0.22">0.25</text>
<text x="128.5" y="604.1" font-size="11" fill="#000" text-anchor="end" stroke="#000" stroke-width="0.22">0</text>
<text x="250.6" y="604.1" font-size="11" fill="#ff8c00" stroke="#ff8c00" stroke-width="0.22">0</text>
<text x="164" y="615.5" font-size="11.8" fill="#000" text-anchor="middle" stroke="#000" stroke-width="0.22">18</text>
<text x="204" y="615.5" font-size="11.8" fill="#000" text-anchor="middle" stroke="#000" stroke-width="0.22">00</text>
<text x="244.5" y="615.5" font-size="11.8" fill="#000" text-anchor="middle" stroke="#000" stroke-width="0.22">06</text>
<text x="6" y="17.9" font-size="11" fill="#000" textLength="58.5" lengthAdjust="spacingAndGlyphs" stroke="#000" stroke-width="0.22">Czas lokalny</text>
<text x="6" y="29.5" font-size="11" fill="#000" textLength="54.5" lengthAdjust="spacingAndGlyphs" stroke="#000" stroke-width="0.22">(CET/CEST)</text>
<text x="6" y="45.4" font-size="11" fill="#a52a2a" textLength="93" lengthAdjust="spacingAndGlyphs" stroke="#a52a2a" stroke-width="0.22">Temperatura gruntu</text>
<text x="27.8" y="55.4" font-size="11" fill="#a52a2a" textLength="38.7" lengthAdjust="spacingAndGlyphs" stroke="#a52a2a" stroke-width="0.22">max/min</text>
<text x="5.3" y="67.7" font-size="11" fill="#000" textLength="62.4" lengthAdjust="spacingAndGlyphs" stroke="#000" stroke-width="0.22">Temperatura:</text>
<text x="12.7" y="79.5" font-size="11" fill="#ff0000" textLength="77" lengthAdjust="spacingAndGlyphs" stroke="#ff0000" stroke-width="0.22">punkt środkowy</text>
<text x="27.8" y="89.7" font-size="11" fill="#ffdcd2" textLength="38.7" lengthAdjust="spacingAndGlyphs" stroke="#ffdcd2" stroke-width="0.22">max/min</text>
<text x="9.7" y="101.6" font-size="11" fill="#0000ff" textLength="57.5" lengthAdjust="spacingAndGlyphs" stroke="#0000ff" stroke-width="0.22">odczuwana</text>
<text x="27.8" y="111.6" font-size="11" fill="#b0dcfa" textLength="38.7" lengthAdjust="spacingAndGlyphs" stroke="#b0dcfa" stroke-width="0.22">max/min</text>
<text x="6" y="124.4" font-size="11" fill="#6a5acd" textLength="86.3" lengthAdjust="spacingAndGlyphs" stroke="#6a5acd" stroke-width="0.22">Temp. punktu rosy</text>
<text x="6" y="141.1" font-size="11" fill="#ff0000" textLength="94.4" lengthAdjust="spacingAndGlyphs" stroke="#ff0000" stroke-width="0.22">Opad powyżej skali</text>
<text x="6" y="154.9" font-size="11" fill="#e8501a" textLength="96.9" lengthAdjust="spacingAndGlyphs" stroke="#e8501a" stroke-width="0.22">Wilgotność względna</text>
<text x="6" y="168.9" font-size="11" fill="#000" textLength="85" lengthAdjust="spacingAndGlyphs" stroke="#000" stroke-width="0.22">Wystąpienie burzy</text>
<text x="6" y="183.0" font-size="11" fill="#00aa00" textLength="62.6" lengthAdjust="spacingAndGlyphs" stroke="#00aa00" stroke-width="0.22">Deszcz: max</text>
<text x="49.2" y="193.9" font-size="11" fill="#00aa00" textLength="29" lengthAdjust="spacingAndGlyphs" stroke="#00aa00" stroke-width="0.22">średni</text>
<text x="6" y="205.3" font-size="11" fill="#1030d0" textLength="29.5" lengthAdjust="spacingAndGlyphs" stroke="#1030d0" stroke-width="0.22">Śnieg:</text>
<text x="49.2" y="205.3" font-size="11" fill="#1030d0" textLength="18.5" lengthAdjust="spacingAndGlyphs" stroke="#1030d0" stroke-width="0.22">max</text>
<text x="49.2" y="215.9" font-size="11" fill="#1030d0" textLength="29" lengthAdjust="spacingAndGlyphs" stroke="#1030d0" stroke-width="0.22">średni</text>
<text x="5.3" y="227.5" font-size="11" fill="#ff0000" textLength="88.7" lengthAdjust="spacingAndGlyphs" stroke="#ff0000" stroke-width="0.22">Wystąpienie opadu</text>
<text x="5.3" y="239.8" font-size="11" fill="#ff0000" textLength="72" lengthAdjust="spacingAndGlyphs" stroke="#ff0000" stroke-width="0.22">konwekcyjnego</text>
<text x="5.3" y="266.5" font-size="11" fill="#000" textLength="41.7" lengthAdjust="spacingAndGlyphs" stroke="#000" stroke-width="0.22">Ciśnienie</text>
<text x="5.3" y="279.7" font-size="11" fill="#000" textLength="66" lengthAdjust="spacingAndGlyphs" stroke="#000" stroke-width="0.22">zredukowane</text>
<text x="5.3" y="292.4" font-size="11" fill="#000" textLength="86.5" lengthAdjust="spacingAndGlyphs" stroke="#000" stroke-width="0.22">do poziomu morza</text>
<text x="5.3" y="321.7" font-size="11" textLength="66" lengthAdjust="spacingAndGlyphs">Wiatr na <tspan font-family='"Liberation Serif",serif'>10</tspan>m:</text>
<text x="9.7" y="337.9" font-size="11" fill="#ff0000" textLength="100.7" lengthAdjust="spacingAndGlyphs" stroke="#ff0000" stroke-width="0.22">poryw powyżej skali</text>
<text x="9.7" y="351.0" font-size="11" fill="#ff0000" textLength="94.3" lengthAdjust="spacingAndGlyphs" stroke="#ff0000" stroke-width="0.22">max porywy wiatru</text>
<text x="9.7" y="371.5" font-size="11" fill="#10109c" textLength="78.2" lengthAdjust="spacingAndGlyphs" stroke="#10109c" stroke-width="0.22">prędkość wiatru</text>
<text x="9.7" y="384.5" font-size="11" fill="#10109c" textLength="88.3" lengthAdjust="spacingAndGlyphs" stroke="#10109c" stroke-width="0.22">w środku obszaru</text>
<text x="9.7" y="412.2" font-size="11" fill="#10109c" textLength="72.9" lengthAdjust="spacingAndGlyphs" stroke="#10109c" stroke-width="0.22">kierunek wiatru</text>
<text x="6" y="432.6" font-size="11" fill="#b22222" textLength="90.1" lengthAdjust="spacingAndGlyphs" stroke="#b22222" stroke-width="0.22">Wierzchołek chmur</text>
<text x="5.3" y="447.5" font-size="11" fill="#000" textLength="86" lengthAdjust="spacingAndGlyphs" stroke="#000" stroke-width="0.22">Podstawa chmur*</text>
<text x="5.3" y="458.0" font-size="11" fill="#000" textLength="48" lengthAdjust="spacingAndGlyphs" stroke="#000" stroke-width="0.22">o pokryciu</text>
<text x="10.9" y="471.6" font-size="11" fill="#000" textLength="43.6" lengthAdjust="spacingAndGlyphs" stroke="#000" stroke-width="0.22">&gt; 7.9 okt.</text>
<text x="10.9" y="482.7" font-size="11" fill="#555" textLength="43.6" lengthAdjust="spacingAndGlyphs" stroke="#555" stroke-width="0.22">&gt; 6.5 okt.</text>
<text x="10.9" y="493.2" font-size="11" fill="#999" textLength="43.6" lengthAdjust="spacingAndGlyphs" stroke="#999" stroke-width="0.22">&gt; 4.5 okt.</text>
<text x="10.9" y="503.3" font-size="11" fill="#dcdad6" textLength="43.6" lengthAdjust="spacingAndGlyphs" stroke="#dcdad6" stroke-width="0.22">&gt; 2.5 okt.</text>
<rect x="10.9" y="505.5" width="44" height="11.2" fill="#87cefa" />
<text x="10.9" y="514.7" font-size="11" fill="#fff" textLength="43.6" lengthAdjust="spacingAndGlyphs">&gt; 0.1 okt.</text>
<text x="6" y="529.0" font-size="11" fill="#ff8c00" textLength="56.2" lengthAdjust="spacingAndGlyphs" stroke="#ff8c00" stroke-width="0.22">Widzialność</text>
<text x="5.9" y="546.5" font-size="11" fill="#000" textLength="38.7" lengthAdjust="spacingAndGlyphs" stroke="#000" stroke-width="0.22">Chmury:</text>
<rect x="10.2" y="551.2" width="40.8" height="11.2" fill="#87cefa" />
<text x="11" y="559.9" font-size="11" fill="#fff" textLength="39.5" lengthAdjust="spacingAndGlyphs">wysokie</text>
<text x="10.2" y="572.4" font-size="11" fill="#999" textLength="35" lengthAdjust="spacingAndGlyphs" stroke="#999" stroke-width="0.22">średnie</text>
<text x="10.2" y="584.3" font-size="11" fill="#444" textLength="26" lengthAdjust="spacingAndGlyphs" stroke="#444" stroke-width="0.22">niskie</text>
<text x="10.2" y="596.0" font-size="11" fill="#222" textLength="60.8" lengthAdjust="spacingAndGlyphs" stroke="#222" stroke-width="0.22">bardzo niskie</text>
<text x="5.9" y="608.0" font-size="11" fill="#ffb000" textLength="20.1" lengthAdjust="spacingAndGlyphs" stroke="#ffb000" stroke-width="0.22">Mgła</text>
<text x="5.9" y="625.5" font-size="10.2" fill="#000" textLength="131" lengthAdjust="spacing" font-family='"DejaVu Sans","Liberation Sans",sans-serif' stroke="#000" stroke-width="0.22">Czas uniwersalny (UTC)</text>
<text x="5.3" y="650.0" font-size="9" fill="#000" textLength="102.7" lengthAdjust="spacingAndGlyphs" font-family='"DejaVu Sans","Liberation Sans",sans-serif' stroke="#000" stroke-width="0.25">* powyżej poziomu morza</text>
<polyline points="68.5,16.5 133.0,16.5 156.0,46.0" fill="none" stroke="#000" stroke-width="1" />
<polyline points="102.0,44.5 120.0,44.5 150.0,85.0" fill="none" stroke="#a52a2a" stroke-width="1" />
<polyline points="92.0,76.5 114.0,76.5" fill="none" stroke="#ff0000" stroke-width="1.3" />
<polyline points="130.5,76.5 133.0,76.5 151.0,101.0 158.0,105.0" fill="none" stroke="#ff0000" stroke-width="1" />
<polyline points="70.0,99.5 131.0,99.5 137.0,101.5" fill="none" stroke="#0000ff" stroke-width="1" />
<polyline points="95.0,120.5 131.0,120.5 136.0,119.0 142.0,113.5" fill="none" stroke="#6a5acd" stroke-width="1" />
<polyline points="103.0,137.5 139.0,137.5 146.0,147.0" fill="none" stroke="#ff0000" stroke-width="1.2" />
<polyline points="106.5,151.5 111.0,151.5" fill="none" stroke="#e8501a" stroke-width="1.2" />
<polyline points="130.5,151.5 147.0,163.0" fill="none" stroke="#e8501a" stroke-width="1" />
<polyline points="94.0,165.5 111.5,165.5" fill="none" stroke="#000" stroke-width="1" />
<polyline points="130.5,165.0 133.0,166.0 138.5,171.0" fill="none" stroke="#000" stroke-width="1" />
<polyline points="71.0,179.5 139.0,179.5" fill="none" stroke="#00aa00" stroke-width="1" />
<polyline points="80.5,190.5 136.0,190.5" fill="none" stroke="#00aa00" stroke-width="1" />
<polyline points="70.0,201.5 111.5,201.5" fill="none" stroke="#1030d0" stroke-width="1" />
<polyline points="130.5,201.5 132.0,201.5 161.0,171.5" fill="none" stroke="#1030d0" stroke-width="1" />
<polyline points="81.0,212.5 132.0,212.5 157.0,187.0" fill="none" stroke="#1030d0" stroke-width="1" />
<polyline points="97.0,224.5 144.0,224.5 148.0,219.5" fill="none" stroke="#ff0000" stroke-width="1" />
<polyline points="51.0,263.5 131.0,263.5 136.0,262.0" fill="none" stroke="#000" stroke-width="1" />
<polyline points="112.0,334.5 117.0,334.5" fill="none" stroke="#ff0000" stroke-width="1.2" />
<polyline points="130.5,334.0 132.0,332.0 139.0,317.0" fill="none" stroke="#ff0000" stroke-width="1" />
<polyline points="107.0,348.5 131.0,348.5 143.0,341.0" fill="none" stroke="#ff0000" stroke-width="1" />
<polyline points="92.0,367.5 135.5,367.5" fill="none" stroke="#10109c" stroke-width="1" />
<polyline points="86.0,409.5 140.0,409.5" fill="none" stroke="#10109c" stroke-width="1" />
<polyline points="100.0,430.5 131.0,430.5 184.0,446.5" fill="none" stroke="#b22222" stroke-width="1" />
<polyline points="57.5,468.5 131.0,468.5 150.0,464.5 190.0,457.0" fill="none" stroke="#000" stroke-width="1" />
<polyline points="57.5,480.5 143.0,481.5" fill="none" stroke="#555" stroke-width="1" />
<polyline points="57.5,490.5 131.0,490.5 143.0,499.0" fill="none" stroke="#999" stroke-width="1" />
<polyline points="57.5,500.5 132.0,500.5 137.0,505.0" fill="none" stroke="#d8d4ce" stroke-width="1" />
<polyline points="55.0,510.3 135.5,510.3" fill="none" stroke="#87cefa" stroke-width="1" />
<polyline points="55.0,512.5 135.5,512.5" fill="none" stroke="#87cefa" stroke-width="1" />
<polyline points="67.0,526.5 131.0,526.5 175.0,464.5" fill="none" stroke="#ff8c00" stroke-width="1" />
<polyline points="54.0,555.8 185.0,555.8" fill="none" stroke="#87cefa" stroke-width="1" />
<polyline points="54.0,557.8 185.0,557.8" fill="none" stroke="#fff" stroke-width="1" />
<polyline points="49.0,571.5 190.0,571.5" fill="none" stroke="#999" stroke-width="1" />
<polyline points="40.0,581.5 121.0,581.5" fill="none" stroke="#444" stroke-width="1" />
<polyline points="130.0,581.5 136.0,581.5" fill="none" stroke="#444" stroke-width="1" />
<polyline points="74.0,593.5 136.0,593.5 150.0,597.0" fill="none" stroke="#222" stroke-width="1" />
<polyline points="30.0,605.5 216.0,605.5 219.0,600.0" fill="none" stroke="#ffb000" stroke-width="1" />
<polyline points="139.0,623.5 148.0,623.5 157.0,611.0" fill="none" stroke="#000" stroke-width="1" />
</g>
<g id="right">
<rect x="280" y="120" width="630" height="540" fill="#fefefb" />
<rect x="348.5" y="263.5" width="493.0" height="78.0" fill="#fff" />
<rect x="348.5" y="350.5" width="493.0" height="78.0" fill="#fff" />
<rect x="348.5" y="437.5" width="493.0" height="78.0" fill="#fff" />
<rect x="348.5" y="521.5" width="493.0" height="30.0" fill="#fff" />
<rect x="362.2" y="149.3" width="97.7" height="511" fill="#e7e7e7" class="c"/>
<rect x="515.8" y="149.3" width="97.7" height="511" fill="#e7e7e7" class="c"/>
<rect x="669.4" y="149.3" width="97.7" height="511" fill="#e7e7e7" class="c"/>
<rect x="823.0" y="149.3" width="18.5" height="511" fill="#e7e7e7" class="c"/>
<clipPath id="wmc"><rect x="348" y="258" width="494" height="280"/></clipPath><g fill="none" stroke="#000" stroke-opacity="0.035" stroke-linecap="butt" clip-path="url(#wmc)">
<path d="M452 270 C 405 300, 372 345, 368 395 C 366 430, 400 456, 458 454" stroke-width="14"/>
<path d="M527 150 C 522 250, 520 300, 532 346 C 540 372, 548 385, 556 400" stroke-width="17"/>
<path d="M672 150 C 668 250, 672 300, 686 330 C 700 358, 716 372, 735 380" stroke-width="17"/>
</g>
<text x="289.5" y="132.7" font-size="12" fill="#00008b" textLength="147" lengthAdjust="spacingAndGlyphs" stroke="#00008b" stroke-width="0.22">wschód słońca: 07:23 CET</text>
<text x="292" y="145" font-size="12" fill="#00008b" textLength="143" lengthAdjust="spacingAndGlyphs" stroke="#00008b" stroke-width="0.22">zachód słońca: 16:07 CET</text>
<text x="596" y="132.7" font-size="12" fill="#00008b" text-anchor="middle" textLength="128" lengthAdjust="spacingAndGlyphs" stroke="#00008b" stroke-width="0.22">21°45'49"E, 53°35'57"N</text>
<text x="596" y="145" font-size="12" fill="#00008b" text-anchor="middle" textLength="84" lengthAdjust="spacingAndGlyphs" stroke="#00008b" stroke-width="0.22">(x=262,  y=366)</text>
<text x="818" y="132.7" font-size="12" fill="#00008b" text-anchor="middle" textLength="159" lengthAdjust="spacingAndGlyphs" stroke="#00008b" stroke-width="0.22">wysokość (min, środek, max)</text>
<text x="818" y="145" font-size="12" fill="#00008b" text-anchor="middle" textLength="96" lengthAdjust="spacingAndGlyphs" stroke="#00008b" stroke-width="0.22">119 - 123 - 167 m</text>
<text x="494" y="162" font-size="12.5" fill="#111" text-anchor="middle" textLength="60" lengthAdjust="spacingAndGlyphs" stroke="#111" stroke-width="0.22">czw, 29.01</text>
<text x="648" y="162" font-size="12.5" fill="#111" text-anchor="middle" textLength="55" lengthAdjust="spacingAndGlyphs" stroke="#111" stroke-width="0.22">pią, 30.01</text>
<text x="802" y="162" font-size="12.5" fill="#111" text-anchor="middle" textLength="58" lengthAdjust="spacingAndGlyphs" stroke="#111" stroke-width="0.22">sob, 31.01</text>
<text x="361.4" y="175.3" font-size="12.5" fill="#111" text-anchor="middle" stroke="#111" stroke-width="0.22">16</text>
<text x="399.7" y="175.3" font-size="12.5" fill="#111" text-anchor="middle" stroke="#111" stroke-width="0.22">22</text>
<text x="438.1" y="175.3" font-size="12.5" fill="#111" text-anchor="middle" stroke="#111" stroke-width="0.22">04</text>
<text x="476.4" y="175.3" font-size="12.5" fill="#111" text-anchor="middle" stroke="#111" stroke-width="0.22">10</text>
<text x="514.8" y="175.3" font-size="12.5" fill="#111" text-anchor="middle" stroke="#111" stroke-width="0.22">16</text>
<text x="553.1" y="175.3" font-size="12.5" fill="#111" text-anchor="middle" stroke="#111" stroke-width="0.22">22</text>
<text x="591.4" y="175.3" font-size="12.5" fill="#111" text-anchor="middle" stroke="#111" stroke-width="0.22">04</text>
<text x="629.8" y="175.3" font-size="12.5" fill="#111" text-anchor="middle" stroke="#111" stroke-width="0.22">10</text>
<text x="668.1" y="175.3" font-size="12.5" fill="#111" text-anchor="middle" stroke="#111" stroke-width="0.22">16</text>
<text x="706.5" y="175.3" font-size="12.5" fill="#111" text-anchor="middle" stroke="#111" stroke-width="0.22">22</text>
<text x="744.8" y="175.3" font-size="12.5" fill="#111" text-anchor="middle" stroke="#111" stroke-width="0.22">04</text>
<text x="783.1" y="175.3" font-size="12.5" fill="#111" text-anchor="middle" stroke="#111" stroke-width="0.22">10</text>
<text x="821.5" y="175.3" font-size="12.5" fill="#111" text-anchor="middle" stroke="#111" stroke-width="0.22">16</text>
<text x="306.5" y="175.3" font-size="12.5" fill="#111" stroke="#111" stroke-width="0.22">CET</text>
<text x="859.5" y="175.3" font-size="12.5" fill="#111" stroke="#111" stroke-width="0.22">CET</text>
<rect x="348.5" y="177" width="493.0" height="78" fill="#88d7ff" class="c"/>
<rect x="362.2" y="177" width="97.7" height="78" fill="#80c3ee" class="c"/>
<rect x="515.8" y="177" width="97.7" height="78" fill="#80c3ee" class="c"/>
<rect x="669.4" y="177" width="97.7" height="78" fill="#80c3ee" class="c"/>
<rect x="823.0" y="177" width="18.5" height="78" fill="#80c3ee" class="c"/>
<clipPath id="rc1"><rect x="348.5" y="177" width="493.0" height="78"/></clipPath>
<g clip-path="url(#rc1)">
<polygon points="349.2,181.1 361.8,184.8 381.4,187.5 401.0,190.9 417.9,192.0 437.5,192.0 457.0,191.8 476.7,189.8 502.0,187.0 521.5,188.7 552.3,191.5 569.0,196.5 586.0,201.5 591.6,202.7 600.0,202.1 609.6,201.6 629.2,204.4 648.8,202.1 668.5,203.5 688.0,205.5 707.7,209.1 727.3,211.9 746.9,218.4 769.3,221.7 786.0,216.7 808.6,211.1 825.4,214.7 841.5,217.5 841.5,222.5 825.4,219.7 808.6,216.1 786.0,221.7 769.3,226.7 746.9,223.4 727.3,216.9 707.7,214.1 688.0,210.5 668.5,208.5 648.8,207.1 629.2,209.4 609.6,206.6 600.0,207.1 591.6,207.7 586.0,205.2 569.0,200.2 552.3,195.2 521.5,192.4 502.0,190.7 476.7,193.5 457.0,195.5 437.5,195.7 417.9,195.7 401.0,194.6 381.4,191.2 361.8,188.5 349.2,184.8" fill="#ffdfe0" />
<polygon points="349.2,194.0 361.8,199.0 381.4,202.4 401.0,206.9 409.4,208.0 419.2,206.6 426.2,208.9 431.8,208.0 437.5,209.7 457.0,208.4 476.7,206.4 490.7,203.6 510.3,203.6 521.5,205.9 541.1,207.3 560.7,210.6 577.5,218.2 591.6,222.7 598.4,221.0 618.0,223.2 629.2,227.4 643.2,223.8 668.5,226.0 688.0,229.4 707.7,233.6 727.3,237.2 746.9,243.4 760.0,246.0 772.0,247.2 786.0,242.2 805.7,235.8 825.4,238.6 841.5,242.0 841.5,248.6 825.4,245.2 805.7,242.4 786.0,248.8 772.0,253.8 760.0,252.6 746.9,250.0 727.3,243.8 707.7,240.2 688.0,236.0 668.5,232.6 643.2,230.4 629.2,234.0 618.0,229.8 598.4,225.1 591.6,226.8 577.5,222.3 560.7,214.7 541.1,211.4 521.5,210.0 510.3,207.7 490.7,207.7 476.7,210.5 457.0,212.5 437.5,213.8 431.8,212.1 426.2,213.0 419.2,210.7 409.4,212.1 401.0,211.0 381.4,206.5 361.8,203.1 349.2,198.1" fill="#bfe4fb" />
<circle cx="355.0" cy="188.2" r="1.7" fill="#6a5acd"/>
<circle cx="361.4" cy="189.5" r="1.7" fill="#6a5acd"/>
<circle cx="367.8" cy="191.2" r="1.7" fill="#6a5acd"/>
<circle cx="374.2" cy="192.8" r="1.7" fill="#6a5acd"/>
<circle cx="380.6" cy="194.5" r="1.7" fill="#6a5acd"/>
<circle cx="386.9" cy="195.6" r="1.7" fill="#6a5acd"/>
<circle cx="393.3" cy="196.7" r="1.7" fill="#6a5acd"/>
<circle cx="399.7" cy="197.8" r="1.7" fill="#6a5acd"/>
<circle cx="406.1" cy="198.6" r="1.7" fill="#6a5acd"/>
<circle cx="412.5" cy="199.4" r="1.7" fill="#6a5acd"/>
<circle cx="418.9" cy="200.0" r="1.7" fill="#6a5acd"/>
<circle cx="425.3" cy="200.1" r="1.7" fill="#6a5acd"/>
<circle cx="431.7" cy="200.2" r="1.7" fill="#6a5acd"/>
<circle cx="438.1" cy="200.3" r="1.7" fill="#6a5acd"/>
<circle cx="444.5" cy="199.8" r="1.7" fill="#6a5acd"/>
<circle cx="450.8" cy="199.3" r="1.7" fill="#6a5acd"/>
<circle cx="457.2" cy="198.9" r="1.7" fill="#6a5acd"/>
<circle cx="463.6" cy="198.8" r="1.7" fill="#6a5acd"/>
<circle cx="470.0" cy="198.7" r="1.7" fill="#6a5acd"/>
<circle cx="476.4" cy="198.6" r="1.7" fill="#6a5acd"/>
<circle cx="482.8" cy="197.7" r="1.7" fill="#6a5acd"/>
<circle cx="489.2" cy="196.8" r="1.7" fill="#6a5acd"/>
<circle cx="495.6" cy="196.5" r="1.7" fill="#6a5acd"/>
<circle cx="502.0" cy="196.3" r="1.7" fill="#6a5acd"/>
<circle cx="508.4" cy="196.1" r="1.7" fill="#6a5acd"/>
<circle cx="514.7" cy="196.3" r="1.7" fill="#6a5acd"/>
<circle cx="521.1" cy="196.7" r="1.7" fill="#6a5acd"/>
<circle cx="527.5" cy="197.1" r="1.7" fill="#6a5acd"/>
<circle cx="533.9" cy="197.5" r="1.7" fill="#6a5acd"/>
<circle cx="540.3" cy="197.9" r="1.7" fill="#6a5acd"/>
<circle cx="546.7" cy="198.4" r="1.7" fill="#6a5acd"/>
<circle cx="553.1" cy="199.2" r="1.7" fill="#6a5acd"/>
<circle cx="559.5" cy="202.0" r="1.7" fill="#6a5acd"/>
<circle cx="565.9" cy="204.8" r="1.7" fill="#6a5acd"/>
<circle cx="572.2" cy="206.8" r="1.7" fill="#6a5acd"/>
<circle cx="578.6" cy="208.7" r="1.7" fill="#6a5acd"/>
<circle cx="585.0" cy="210.3" r="1.7" fill="#6a5acd"/>
<circle cx="591.4" cy="210.8" r="1.7" fill="#6a5acd"/>
<circle cx="597.8" cy="211.1" r="1.7" fill="#6a5acd"/>
<circle cx="604.2" cy="211.4" r="1.7" fill="#6a5acd"/>
<circle cx="610.6" cy="211.7" r="1.7" fill="#6a5acd"/>
<circle cx="617.0" cy="212.0" r="1.7" fill="#6a5acd"/>
<circle cx="623.4" cy="215.5" r="1.7" fill="#6a5acd"/>
<circle cx="629.8" cy="217.0" r="1.7" fill="#6a5acd"/>
<circle cx="636.2" cy="216.6" r="1.7" fill="#6a5acd"/>
<circle cx="642.5" cy="216.3" r="1.7" fill="#6a5acd"/>
<circle cx="648.9" cy="215.9" r="1.7" fill="#6a5acd"/>
<circle cx="655.3" cy="215.5" r="1.7" fill="#6a5acd"/>
<circle cx="661.7" cy="215.2" r="1.7" fill="#6a5acd"/>
<circle cx="668.1" cy="214.8" r="1.7" fill="#6a5acd"/>
<circle cx="674.5" cy="215.1" r="1.7" fill="#6a5acd"/>
<circle cx="680.9" cy="215.4" r="1.7" fill="#6a5acd"/>
<circle cx="687.3" cy="215.7" r="1.7" fill="#6a5acd"/>
<circle cx="693.7" cy="216.8" r="1.7" fill="#6a5acd"/>
<circle cx="700.0" cy="218.1" r="1.7" fill="#6a5acd"/>
<circle cx="706.4" cy="219.4" r="1.7" fill="#6a5acd"/>
<circle cx="712.8" cy="220.2" r="1.7" fill="#6a5acd"/>
<circle cx="719.2" cy="220.9" r="1.7" fill="#6a5acd"/>
<circle cx="725.6" cy="221.6" r="1.7" fill="#6a5acd"/>
<circle cx="732.0" cy="223.6" r="1.7" fill="#6a5acd"/>
<circle cx="738.4" cy="226.1" r="1.7" fill="#6a5acd"/>
<circle cx="744.8" cy="228.6" r="1.7" fill="#6a5acd"/>
<circle cx="751.2" cy="230.6" r="1.7" fill="#6a5acd"/>
<circle cx="757.6" cy="232.4" r="1.7" fill="#6a5acd"/>
<circle cx="764.0" cy="234.3" r="1.7" fill="#6a5acd"/>
<circle cx="770.3" cy="235.7" r="1.7" fill="#6a5acd"/>
<circle cx="776.7" cy="235.2" r="1.7" fill="#6a5acd"/>
<circle cx="783.1" cy="234.6" r="1.7" fill="#6a5acd"/>
<circle cx="789.5" cy="233.9" r="1.7" fill="#6a5acd"/>
<circle cx="795.9" cy="232.9" r="1.7" fill="#6a5acd"/>
<circle cx="802.3" cy="231.9" r="1.7" fill="#6a5acd"/>
<circle cx="808.7" cy="231.0" r="1.7" fill="#6a5acd"/>
<circle cx="815.1" cy="230.4" r="1.7" fill="#6a5acd"/>
<circle cx="821.5" cy="229.8" r="1.7" fill="#6a5acd"/>
<circle cx="827.9" cy="229.5" r="1.7" fill="#6a5acd"/>
<circle cx="834.2" cy="229.8" r="1.7" fill="#6a5acd"/>
<circle cx="840.6" cy="230.2" r="1.7" fill="#6a5acd"/>
<path d="M349.2 194.0C351.3 194.8 356.4 197.6 361.8 199.0C367.2 200.4 374.9 201.1 381.4 202.4C387.9 203.7 396.3 206.0 401.0 206.9C405.7 207.8 406.4 208.1 409.4 208.0C412.4 207.9 416.4 206.4 419.2 206.6C422.0 206.8 424.1 208.7 426.2 208.9C428.3 209.1 429.9 207.9 431.8 208.0C433.7 208.1 433.3 209.6 437.5 209.7C441.7 209.8 450.5 208.9 457.0 208.4C463.5 207.9 471.1 207.2 476.7 206.4C482.3 205.6 485.1 204.1 490.7 203.6C496.3 203.1 505.2 203.2 510.3 203.6C515.4 204.0 516.4 205.3 521.5 205.9C526.6 206.5 534.6 206.5 541.1 207.3C547.6 208.1 554.6 208.8 560.7 210.6C566.8 212.4 572.4 216.2 577.5 218.2C582.6 220.2 588.1 222.2 591.6 222.7C595.1 223.2 594.0 220.9 598.4 221.0C602.8 221.1 612.9 222.1 618.0 223.2C623.1 224.3 625.0 227.3 629.2 227.4C633.4 227.5 636.7 224.0 643.2 223.8C649.8 223.6 661.0 225.1 668.5 226.0C676.0 226.9 681.5 228.1 688.0 229.4C694.5 230.7 701.2 232.3 707.7 233.6C714.2 234.9 720.8 235.6 727.3 237.2C733.8 238.8 741.4 241.9 746.9 243.4C752.4 244.9 755.8 245.4 760.0 246.0C764.2 246.6 767.7 247.8 772.0 247.2C776.3 246.6 780.4 244.1 786.0 242.2C791.6 240.3 799.1 236.4 805.7 235.8C812.3 235.2 819.4 237.6 825.4 238.6C831.4 239.6 838.8 241.4 841.5 242.0" fill="none" stroke="#0000ff" stroke-width="2.1" stroke-linejoin="round" />
<path d="M349.2 182.6C351.3 183.2 356.4 185.2 361.8 186.3C367.2 187.4 374.9 188.0 381.4 189.0C387.9 190.0 394.9 191.7 401.0 192.4C407.1 193.2 411.8 193.3 417.9 193.5C424.0 193.7 431.0 193.5 437.5 193.5C444.0 193.5 450.5 193.7 457.0 193.3C463.5 192.9 469.2 192.1 476.7 191.3C484.2 190.5 494.5 188.7 502.0 188.5C509.5 188.3 513.1 189.4 521.5 190.2C529.9 190.9 544.4 191.7 552.3 193.0C560.2 194.3 563.4 196.3 569.0 198.0C574.6 199.7 582.2 202.0 586.0 203.0C589.8 204.0 589.3 204.1 591.6 204.2C593.9 204.3 597.0 203.8 600.0 203.6C603.0 203.4 604.7 202.7 609.6 203.1C614.5 203.5 622.7 205.8 629.2 205.9C635.7 206.0 642.2 203.8 648.8 203.6C655.3 203.4 662.0 204.4 668.5 205.0C675.0 205.6 681.5 206.1 688.0 207.0C694.5 207.9 701.2 209.5 707.7 210.6C714.2 211.7 720.8 211.8 727.3 213.4C733.8 215.0 739.9 218.3 746.9 219.9C753.9 221.5 762.8 223.5 769.3 223.2C775.8 222.9 779.5 220.0 786.0 218.2C792.5 216.4 802.0 212.9 808.6 212.6C815.2 212.3 819.9 215.1 825.4 216.2C830.9 217.3 838.8 218.5 841.5 219.0" fill="none" stroke="#ff0000" stroke-width="2.3" stroke-linejoin="round" />
<line x1="355.5" y1="178.8" x2="355.5" y2="184.8" stroke="#b22222" stroke-width="1" class="c"/>
<line x1="361.5" y1="180.7" x2="361.5" y2="186.7" stroke="#b22222" stroke-width="1" class="c"/>
<line x1="368.5" y1="181.6" x2="368.5" y2="187.6" stroke="#b22222" stroke-width="1" class="c"/>
<line x1="374.5" y1="182.5" x2="374.5" y2="188.5" stroke="#b22222" stroke-width="1" class="c"/>
<line x1="381.5" y1="183.4" x2="381.5" y2="189.4" stroke="#b22222" stroke-width="1" class="c"/>
<line x1="387.5" y1="184.5" x2="387.5" y2="190.5" stroke="#b22222" stroke-width="1" class="c"/>
<line x1="393.5" y1="185.6" x2="393.5" y2="191.6" stroke="#b22222" stroke-width="1" class="c"/>
<line x1="400.5" y1="186.7" x2="400.5" y2="192.7" stroke="#b22222" stroke-width="1" class="c"/>
<line x1="406.5" y1="187.2" x2="406.5" y2="193.2" stroke="#b22222" stroke-width="1" class="c"/>
<line x1="412.5" y1="187.6" x2="412.5" y2="193.6" stroke="#b22222" stroke-width="1" class="c"/>
<line x1="419.5" y1="188.0" x2="419.5" y2="194.0" stroke="#b22222" stroke-width="1" class="c"/>
<line x1="425.5" y1="188.0" x2="425.5" y2="194.0" stroke="#b22222" stroke-width="1" class="c"/>
<line x1="432.5" y1="188.0" x2="432.5" y2="194.0" stroke="#b22222" stroke-width="1" class="c"/>
<line x1="438.5" y1="188.0" x2="438.5" y2="194.0" stroke="#b22222" stroke-width="1" class="c"/>
<line x1="444.5" y1="187.9" x2="444.5" y2="193.9" stroke="#b22222" stroke-width="1" class="c"/>
<line x1="451.5" y1="187.9" x2="451.5" y2="193.9" stroke="#b22222" stroke-width="1" class="c"/>
<line x1="457.5" y1="187.8" x2="457.5" y2="193.8" stroke="#b22222" stroke-width="1" class="c"/>
<line x1="464.5" y1="187.1" x2="464.5" y2="193.1" stroke="#b22222" stroke-width="1" class="c"/>
<line x1="470.5" y1="187.5" x2="470.5" y2="192.5" stroke="#b22222" stroke-width="1" class="c"/>
<line x1="476.5" y1="186.8" x2="476.5" y2="191.8" stroke="#b22222" stroke-width="1" class="c"/>
<line x1="483.5" y1="186.1" x2="483.5" y2="191.1" stroke="#b22222" stroke-width="1" class="c"/>
<line x1="489.5" y1="185.4" x2="489.5" y2="190.4" stroke="#b22222" stroke-width="1" class="c"/>
<line x1="496.5" y1="184.7" x2="496.5" y2="189.7" stroke="#b22222" stroke-width="1" class="c"/>
<line x1="502.5" y1="184.0" x2="502.5" y2="189.0" stroke="#b22222" stroke-width="1" class="c"/>
<line x1="508.5" y1="184.6" x2="508.5" y2="189.6" stroke="#b22222" stroke-width="1" class="c"/>
<line x1="515.5" y1="185.1" x2="515.5" y2="190.1" stroke="#b22222" stroke-width="1" class="c"/>
<line x1="521.5" y1="185.7" x2="521.5" y2="190.7" stroke="#b22222" stroke-width="1" class="c"/>
<line x1="528.5" y1="186.2" x2="528.5" y2="191.2" stroke="#b22222" stroke-width="1" class="c"/>
<line x1="534.5" y1="186.8" x2="534.5" y2="191.8" stroke="#b22222" stroke-width="1" class="c"/>
<line x1="540.5" y1="187.4" x2="540.5" y2="192.4" stroke="#b22222" stroke-width="1" class="c"/>
<line x1="547.5" y1="187.0" x2="547.5" y2="194.0" stroke="#b22222" stroke-width="1" class="c"/>
<line x1="553.5" y1="187.7" x2="553.5" y2="194.7" stroke="#b22222" stroke-width="1" class="c"/>
<line x1="559.5" y1="189.6" x2="559.5" y2="196.6" stroke="#b22222" stroke-width="1" class="c"/>
<line x1="566.5" y1="189.6" x2="566.5" y2="200.6" stroke="#b22222" stroke-width="1" class="c"/>
<line x1="572.5" y1="191.5" x2="572.5" y2="202.5" stroke="#b22222" stroke-width="1" class="c"/>
<line x1="579.5" y1="193.3" x2="579.5" y2="204.3" stroke="#b22222" stroke-width="1" class="c"/>
<line x1="585.5" y1="195.2" x2="585.5" y2="206.2" stroke="#b22222" stroke-width="1" class="c"/>
<line x1="591.5" y1="196.7" x2="591.5" y2="207.7" stroke="#b22222" stroke-width="1" class="c"/>
<line x1="598.5" y1="196.3" x2="598.5" y2="207.3" stroke="#b22222" stroke-width="1" class="c"/>
<line x1="604.5" y1="195.9" x2="604.5" y2="206.9" stroke="#b22222" stroke-width="1" class="c"/>
<line x1="611.5" y1="195.7" x2="611.5" y2="206.7" stroke="#b22222" stroke-width="1" class="c"/>
<line x1="617.5" y1="196.7" x2="617.5" y2="207.7" stroke="#b22222" stroke-width="1" class="c"/>
<line x1="623.5" y1="197.6" x2="623.5" y2="208.6" stroke="#b22222" stroke-width="1" class="c"/>
<line x1="630.5" y1="198.3" x2="630.5" y2="209.3" stroke="#b22222" stroke-width="1" class="c"/>
<line x1="636.5" y1="197.6" x2="636.5" y2="208.6" stroke="#b22222" stroke-width="1" class="c"/>
<line x1="643.5" y1="196.8" x2="643.5" y2="207.8" stroke="#b22222" stroke-width="1" class="c"/>
<line x1="649.5" y1="196.1" x2="649.5" y2="207.1" stroke="#b22222" stroke-width="1" class="c"/>
<line x1="655.5" y1="196.6" x2="655.5" y2="207.6" stroke="#b22222" stroke-width="1" class="c"/>
<line x1="662.5" y1="197.0" x2="662.5" y2="208.0" stroke="#b22222" stroke-width="1" class="c"/>
<line x1="668.5" y1="197.5" x2="668.5" y2="208.5" stroke="#b22222" stroke-width="1" class="c"/>
<line x1="674.5" y1="198.1" x2="674.5" y2="209.1" stroke="#b22222" stroke-width="1" class="c"/>
<line x1="681.5" y1="198.8" x2="681.5" y2="209.8" stroke="#b22222" stroke-width="1" class="c"/>
<line x1="687.5" y1="199.4" x2="687.5" y2="210.4" stroke="#b22222" stroke-width="1" class="c"/>
<line x1="694.5" y1="199.5" x2="694.5" y2="213.0" stroke="#b22222" stroke-width="1" class="c"/>
<line x1="700.5" y1="200.7" x2="700.5" y2="214.2" stroke="#b22222" stroke-width="1" class="c"/>
<line x1="706.5" y1="201.9" x2="706.5" y2="215.4" stroke="#b22222" stroke-width="1" class="c"/>
<line x1="713.5" y1="202.8" x2="713.5" y2="216.3" stroke="#b22222" stroke-width="1" class="c"/>
<line x1="719.5" y1="203.7" x2="719.5" y2="217.2" stroke="#b22222" stroke-width="1" class="c"/>
<line x1="726.5" y1="204.7" x2="726.5" y2="218.2" stroke="#b22222" stroke-width="1" class="c"/>
<line x1="732.5" y1="206.5" x2="732.5" y2="220.0" stroke="#b22222" stroke-width="1" class="c"/>
<line x1="738.5" y1="208.6" x2="738.5" y2="222.1" stroke="#b22222" stroke-width="1" class="c"/>
<line x1="745.5" y1="210.7" x2="745.5" y2="224.2" stroke="#b22222" stroke-width="1" class="c"/>
<line x1="751.5" y1="209.5" x2="751.5" y2="226.0" stroke="#b22222" stroke-width="1" class="c"/>
<line x1="758.5" y1="210.5" x2="758.5" y2="227.0" stroke="#b22222" stroke-width="1" class="c"/>
<line x1="764.5" y1="211.4" x2="764.5" y2="227.9" stroke="#b22222" stroke-width="1" class="c"/>
<line x1="770.5" y1="211.9" x2="770.5" y2="228.4" stroke="#b22222" stroke-width="1" class="c"/>
<line x1="777.5" y1="210.0" x2="777.5" y2="226.5" stroke="#b22222" stroke-width="1" class="c"/>
<line x1="783.5" y1="208.1" x2="783.5" y2="224.6" stroke="#b22222" stroke-width="1" class="c"/>
<line x1="790.5" y1="206.3" x2="790.5" y2="222.8" stroke="#b22222" stroke-width="1" class="c"/>
<line x1="796.5" y1="207.7" x2="796.5" y2="222.7" stroke="#b22222" stroke-width="1" class="c"/>
<line x1="802.5" y1="206.2" x2="802.5" y2="221.2" stroke="#b22222" stroke-width="1" class="c"/>
<line x1="809.5" y1="204.6" x2="809.5" y2="219.6" stroke="#b22222" stroke-width="1" class="c"/>
<line x1="815.5" y1="206.0" x2="815.5" y2="221.0" stroke="#b22222" stroke-width="1" class="c"/>
<line x1="821.5" y1="207.4" x2="821.5" y2="222.4" stroke="#b22222" stroke-width="1" class="c"/>
<line x1="828.5" y1="208.6" x2="828.5" y2="223.6" stroke="#b22222" stroke-width="1" class="c"/>
<line x1="834.5" y1="209.7" x2="834.5" y2="224.7" stroke="#b22222" stroke-width="1" class="c"/>
<line x1="841.5" y1="210.8" x2="841.5" y2="225.8" stroke="#b22222" stroke-width="1" class="c"/>
</g>
<line x1="349.5" y1="177" x2="349.5" y2="255" stroke="#000" stroke-width="1" class="g"/>
<line x1="361.5" y1="177" x2="361.5" y2="255" stroke="#000" stroke-width="1" class="g"/>
<line x1="380.5" y1="177" x2="380.5" y2="255" stroke="#000" stroke-width="1" class="g"/>
<line x1="400.5" y1="177" x2="400.5" y2="255" stroke="#000" stroke-width="1" class="g"/>
<line x1="419.5" y1="177" x2="419.5" y2="255" stroke="#000" stroke-width="1" class="g"/>
<line x1="438.5" y1="177" x2="438.5" y2="255" stroke="#000" stroke-width="1" class="g"/>
<line x1="457.5" y1="177" x2="457.5" y2="255" stroke="#000" stroke-width="1" class="g"/>
<line x1="476.5" y1="177" x2="476.5" y2="255" stroke="#000" stroke-width="1" class="g"/>
<line x1="495.5" y1="177" x2="495.5" y2="255" stroke="#000" stroke-width="1" class="g"/>
<line x1="515.5" y1="177" x2="515.5" y2="255" stroke="#000" stroke-width="1" class="g"/>
<line x1="534.5" y1="177" x2="534.5" y2="255" stroke="#000" stroke-width="1" class="g"/>
<line x1="553.5" y1="177" x2="553.5" y2="255" stroke="#000" stroke-width="1" class="g"/>
<line x1="572.5" y1="177" x2="572.5" y2="255" stroke="#000" stroke-width="1" class="g"/>
<line x1="591.5" y1="177" x2="591.5" y2="255" stroke="#000" stroke-width="1" class="g"/>
<line x1="610.5" y1="177" x2="610.5" y2="255" stroke="#000" stroke-width="1" class="g"/>
<line x1="630.5" y1="177" x2="630.5" y2="255" stroke="#000" stroke-width="1" class="g"/>
<line x1="649.5" y1="177" x2="649.5" y2="255" stroke="#000" stroke-width="1" class="g"/>
<line x1="668.5" y1="177" x2="668.5" y2="255" stroke="#000" stroke-width="1" class="g"/>
<line x1="687.5" y1="177" x2="687.5" y2="255" stroke="#000" stroke-width="1" class="g"/>
<line x1="706.5" y1="177" x2="706.5" y2="255" stroke="#000" stroke-width="1" class="g"/>
<line x1="725.5" y1="177" x2="725.5" y2="255" stroke="#000" stroke-width="1" class="g"/>
<line x1="745.5" y1="177" x2="745.5" y2="255" stroke="#000" stroke-width="1" class="g"/>
<line x1="764.5" y1="177" x2="764.5" y2="255" stroke="#000" stroke-width="1" class="g"/>
<line x1="783.5" y1="177" x2="783.5" y2="255" stroke="#000" stroke-width="1" class="g"/>
<line x1="802.5" y1="177" x2="802.5" y2="255" stroke="#000" stroke-width="1" class="g"/>
<line x1="821.5" y1="177" x2="821.5" y2="255" stroke="#000" stroke-width="1" class="g"/>
<line x1="348.5" y1="177.8" x2="841.5" y2="177.8" stroke="#000" stroke-width="1" class="g"/>
<line x1="348.5" y1="194.8" x2="841.5" y2="194.8" stroke="#000" stroke-width="1" class="g"/>
<line x1="348.5" y1="211.4" x2="841.5" y2="211.4" stroke="#000" stroke-width="1" class="g"/>
<line x1="348.5" y1="227.8" x2="841.5" y2="227.8" stroke="#000" stroke-width="1" class="g"/>
<line x1="348.5" y1="244.3" x2="841.5" y2="244.3" stroke="#000" stroke-width="1" class="g"/>
<rect x="348.5" y="177" width="493.0" height="78" class="f"/>
<text x="344" y="181.9" font-size="12" fill="#000" text-anchor="end" stroke="#000" stroke-width="0.22">0</text>
<text x="851" y="181.9" font-size="12" fill="#000" stroke="#000" stroke-width="0.22">0</text>
<text x="344" y="198.9" font-size="12" fill="#000" text-anchor="end" stroke="#000" stroke-width="0.22">-5</text>
<text x="845" y="198.9" font-size="12" fill="#000" stroke="#000" stroke-width="0.22">-5</text>
<text x="344" y="215.5" font-size="12" fill="#000" text-anchor="end" stroke="#000" stroke-width="0.22">-10</text>
<text x="845" y="215.5" font-size="12" fill="#000" stroke="#000" stroke-width="0.22">-10</text>
<text x="344" y="231.9" font-size="12" fill="#000" text-anchor="end" stroke="#000" stroke-width="0.22">-15</text>
<text x="845" y="231.9" font-size="12" fill="#000" stroke="#000" stroke-width="0.22">-15</text>
<text x="344" y="248.4" font-size="12" fill="#000" text-anchor="end" stroke="#000" stroke-width="0.22">-20</text>
<text x="845" y="248.4" font-size="12" fill="#000" stroke="#000" stroke-width="0.22">-20</text>
<clipPath id="rc2"><rect x="348.5" y="263.5" width="493.0" height="78.0"/></clipPath>
<g clip-path="url(#rc2)">
<rect x="480" y="339" width="1.2" height="2" fill="#1a2ee0" />
<rect x="499" y="340" width="1.2" height="1" fill="#1a2ee0" />
<rect x="505.5" y="340" width="1.2" height="1" fill="#1a2ee0" />
<rect x="518" y="338.5" width="1.2" height="2.5" fill="#1a2ee0" />
<rect x="525" y="336.5" width="1.2" height="4.5" fill="#1a2ee0" />
<rect x="531" y="334.5" width="1.2" height="6.5" fill="#1a2ee0" />
<rect x="537" y="335.5" width="1.2" height="5.5" fill="#1a2ee0" />
<rect x="544" y="337.5" width="1.2" height="3.5" fill="#1a2ee0" />
<rect x="550" y="338.5" width="1.2" height="2.5" fill="#1a2ee0" />
<rect x="556.5" y="340" width="1.2" height="1" fill="#1a2ee0" />
<rect x="563" y="340" width="1.2" height="1" fill="#1a2ee0" />
<rect x="569.5" y="340" width="1.2" height="1" fill="#1a2ee0" />
<rect x="406" y="340" width="1.2" height="1" fill="#1a2ee0" />
<rect x="425" y="340.2" width="1.2" height="0.8" fill="#1a2ee0" />
<rect x="451" y="340" width="1.2" height="1" fill="#1a2ee0" />
<rect x="387" y="340.2" width="1.2" height="0.8" fill="#1a2ee0" />
<line x1="348.5" y1="340.7" x2="841.5" y2="340.7" stroke="#35b535" stroke-width="0.6" stroke-opacity="0.6"/>
<path d="M348.6 270.9C350.8 270.7 356.4 269.1 361.8 269.8C367.2 270.6 375.8 274.2 380.9 275.4C386.0 276.6 388.6 276.8 392.6 277.1C396.7 277.4 401.7 276.7 405.2 277.1C408.7 277.5 410.1 279.4 413.6 279.6C417.1 279.8 421.2 278.1 426.3 278.2C431.4 278.2 440.3 280.0 444.5 279.9C448.7 279.8 447.3 277.4 451.5 277.6C455.7 277.8 464.6 281.0 469.7 281.3C474.8 281.6 477.9 279.5 482.3 279.6C486.7 279.7 491.6 281.8 496.3 281.8C501.0 281.8 506.1 280.1 510.3 279.6C514.5 279.1 517.7 278.9 521.5 278.7C525.3 278.5 530.0 279.0 533.3 278.7C536.6 278.4 537.8 276.8 541.1 276.8C544.4 276.9 549.6 278.0 552.9 279.0C556.2 280.0 557.5 281.7 560.7 282.7C563.9 283.7 568.2 284.5 572.0 284.9C575.8 285.3 579.9 285.4 583.2 285.2C586.5 285.0 588.8 283.9 591.6 283.8C594.4 283.7 597.9 284.2 600.0 284.6C602.1 285.0 602.2 285.9 604.0 286.0C605.8 286.1 608.8 285.1 611.0 284.9C613.2 284.7 615.0 283.4 617.2 284.9C619.4 286.3 622.0 292.0 624.2 293.6C626.4 295.2 628.4 294.5 630.6 294.7C632.8 294.9 634.3 294.4 637.6 294.7C640.9 295.0 646.9 296.6 650.2 296.7C653.5 296.8 653.9 296.3 657.2 295.5C660.5 294.7 666.1 292.7 669.9 291.9C673.6 291.1 675.7 290.9 679.7 290.8C683.7 290.7 690.0 291.4 693.7 291.1C697.4 290.8 698.8 289.6 702.1 289.1C705.4 288.6 710.3 288.1 713.3 288.0C716.3 287.9 718.0 288.6 720.3 288.5C722.6 288.4 724.5 287.6 727.3 287.4C730.1 287.2 733.8 286.4 737.1 287.1C740.4 287.8 743.4 290.2 746.9 291.6C750.4 293.1 754.4 294.2 758.1 295.8C761.8 297.4 765.1 298.8 769.3 301.4C773.5 304.0 778.6 308.0 783.3 311.2C788.0 314.4 794.0 319.2 797.3 320.8C800.6 322.4 801.0 321.3 802.9 321.0C804.8 320.7 806.7 320.3 808.6 319.1C810.5 317.9 811.9 316.7 814.2 314.0C816.5 311.3 820.3 305.5 822.6 302.8C824.9 300.1 826.2 298.9 828.2 297.8C830.2 296.7 832.1 296.2 834.3 296.1C836.5 296.0 840.3 297.0 841.5 297.2" fill="none" stroke="#e8501a" stroke-width="2" stroke-linejoin="round" />
</g>
<line x1="349.5" y1="263.5" x2="349.5" y2="341.5" stroke="#000" stroke-width="1" class="g"/>
<line x1="361.5" y1="263.5" x2="361.5" y2="341.5" stroke="#000" stroke-width="1" class="g"/>
<line x1="380.5" y1="263.5" x2="380.5" y2="341.5" stroke="#000" stroke-width="1" class="g"/>
<line x1="400.5" y1="263.5" x2="400.5" y2="341.5" stroke="#000" stroke-width="1" class="g"/>
<line x1="419.5" y1="263.5" x2="419.5" y2="341.5" stroke="#000" stroke-width="1" class="g"/>
<line x1="438.5" y1="263.5" x2="438.5" y2="341.5" stroke="#000" stroke-width="1" class="g"/>
<line x1="457.5" y1="263.5" x2="457.5" y2="341.5" stroke="#000" stroke-width="1" class="g"/>
<line x1="476.5" y1="263.5" x2="476.5" y2="341.5" stroke="#000" stroke-width="1" class="g"/>
<line x1="495.5" y1="263.5" x2="495.5" y2="341.5" stroke="#000" stroke-width="1" class="g"/>
<line x1="515.5" y1="263.5" x2="515.5" y2="341.5" stroke="#000" stroke-width="1" class="g"/>
<line x1="534.5" y1="263.5" x2="534.5" y2="341.5" stroke="#000" stroke-width="1" class="g"/>
<line x1="553.5" y1="263.5" x2="553.5" y2="341.5" stroke="#000" stroke-width="1" class="g"/>
<line x1="572.5" y1="263.5" x2="572.5" y2="341.5" stroke="#000" stroke-width="1" class="g"/>
<line x1="591.5" y1="263.5" x2="591.5" y2="341.5" stroke="#000" stroke-width="1" class="g"/>
<line x1="610.5" y1="263.5" x2="610.5" y2="341.5" stroke="#000" stroke-width="1" class="g"/>
<line x1="630.5" y1="263.5" x2="630.5" y2="341.5" stroke="#000" stroke-width="1" class="g"/>
<line x1="649.5" y1="263.5" x2="649.5" y2="341.5" stroke="#000" stroke-width="1" class="g"/>
<line x1="668.5" y1="263.5" x2="668.5" y2="341.5" stroke="#000" stroke-width="1" class="g"/>
<line x1="687.5" y1="263.5" x2="687.5" y2="341.5" stroke="#000" stroke-width="1" class="g"/>
<line x1="706.5" y1="263.5" x2="706.5" y2="341.5" stroke="#000" stroke-width="1" class="g"/>
<line x1="725.5" y1="263.5" x2="725.5" y2="341.5" stroke="#000" stroke-width="1" class="g"/>
<line x1="745.5" y1="263.5" x2="745.5" y2="341.5" stroke="#000" stroke-width="1" class="g"/>
<line x1="764.5" y1="263.5" x2="764.5" y2="341.5" stroke="#000" stroke-width="1" class="g"/>
<line x1="783.5" y1="263.5" x2="783.5" y2="341.5" stroke="#000" stroke-width="1" class="g"/>
<line x1="802.5" y1="263.5" x2="802.5" y2="341.5" stroke="#000" stroke-width="1" class="g"/>
<line x1="821.5" y1="263.5" x2="821.5" y2="341.5" stroke="#000" stroke-width="1" class="g"/>
<line x1="348.5" y1="266" x2="841.5" y2="266" stroke="#000" stroke-width="1" class="g"/>
<line x1="348.5" y1="281.2" x2="841.5" y2="281.2" stroke="#000" stroke-width="1" class="g"/>
<line x1="348.5" y1="296.3" x2="841.5" y2="296.3" stroke="#000" stroke-width="1" class="g"/>
<line x1="348.5" y1="311.4" x2="841.5" y2="311.4" stroke="#000" stroke-width="1" class="g"/>
<line x1="348.5" y1="326.5" x2="841.5" y2="326.5" stroke="#000" stroke-width="1" class="g"/>
<rect x="348.5" y="263.5" width="493.0" height="78.0" class="f"/>
<text x="344" y="270.1" font-size="12" fill="#000" text-anchor="end" stroke="#000" stroke-width="0.22">5</text>
<text x="845" y="270.1" font-size="12" fill="#e8501a" stroke="#e8501a" stroke-width="0.22">94</text>
<text x="344" y="285.3" font-size="12" fill="#000" text-anchor="end" stroke="#000" stroke-width="0.22">4</text>
<text x="845" y="285.3" font-size="12" fill="#e8501a" stroke="#e8501a" stroke-width="0.22">85</text>
<text x="344" y="300.40000000000003" font-size="12" fill="#000" text-anchor="end" stroke="#000" stroke-width="0.22">3</text>
<text x="845" y="300.40000000000003" font-size="12" fill="#e8501a" stroke="#e8501a" stroke-width="0.22">76</text>
<text x="344" y="315.5" font-size="12" fill="#000" text-anchor="end" stroke="#000" stroke-width="0.22">2</text>
<text x="845" y="315.5" font-size="12" fill="#e8501a" stroke="#e8501a" stroke-width="0.22">67</text>
<text x="344" y="330.6" font-size="12" fill="#000" text-anchor="end" stroke="#000" stroke-width="0.22">1</text>
<text x="845" y="330.6" font-size="12" fill="#e8501a" stroke="#e8501a" stroke-width="0.22">58</text>
<text x="344" y="345.3" font-size="12" fill="#000" text-anchor="end" stroke="#000" stroke-width="0.22">0</text>
<text x="845" y="345.3" font-size="12" fill="#e8501a" stroke="#e8501a" stroke-width="0.22">50</text>
<clipPath id="rc3"><rect x="348.5" y="350.5" width="493.0" height="78.0"/></clipPath>
<g clip-path="url(#rc3)">
<clipPath id="rc3_0"><rect x="348.5" y="350" width="31.5" height="80"/></clipPath>
<polygon points="348.6,421.0 355.7,422.0 382.0,418.2 403.2,414.6 420.8,413.2 449.0,411.5 470.0,406.2 480.7,404.4 494.8,403.7 519.4,400.6 540.6,397.4 558.0,393.5 579.3,391.8 600.4,390.0 649.9,384.0 692.0,377.7 745.0,371.7 769.6,366.4 787.2,364.0 815.4,361.8 841.7,356.5 842.0,429.0 348.0,429.0" fill="#1cd648" clip-path="url(#rc3_0)"/>
<clipPath id="rc3_1"><rect x="380" y="350" width="39" height="80"/></clipPath>
<polygon points="348.6,421.0 355.7,422.0 382.0,418.2 403.2,414.6 420.8,413.2 449.0,411.5 470.0,406.2 480.7,404.4 494.8,403.7 519.4,400.6 540.6,397.4 558.0,393.5 579.3,391.8 600.4,390.0 649.9,384.0 692.0,377.7 745.0,371.7 769.6,366.4 787.2,364.0 815.4,361.8 841.7,356.5 842.0,429.0 348.0,429.0" fill="#14be12" clip-path="url(#rc3_1)"/>
<clipPath id="rc3_2"><rect x="419" y="350" width="38" height="80"/></clipPath>
<polygon points="348.6,421.0 355.7,422.0 382.0,418.2 403.2,414.6 420.8,413.2 449.0,411.5 470.0,406.2 480.7,404.4 494.8,403.7 519.4,400.6 540.6,397.4 558.0,393.5 579.3,391.8 600.4,390.0 649.9,384.0 692.0,377.7 745.0,371.7 769.6,366.4 787.2,364.0 815.4,361.8 841.7,356.5 842.0,429.0 348.0,429.0" fill="#0ca60c" clip-path="url(#rc3_2)"/>
<clipPath id="rc3_3"><rect x="457" y="350" width="18" height="80"/></clipPath>
<polygon points="348.6,421.0 355.7,422.0 382.0,418.2 403.2,414.6 420.8,413.2 449.0,411.5 470.0,406.2 480.7,404.4 494.8,403.7 519.4,400.6 540.6,397.4 558.0,393.5 579.3,391.8 600.4,390.0 649.9,384.0 692.0,377.7 745.0,371.7 769.6,366.4 787.2,364.0 815.4,361.8 841.7,356.5 842.0,429.0 348.0,429.0" fill="#1cc812" clip-path="url(#rc3_3)"/>
<clipPath id="rc3_4"><rect x="475" y="350" width="39.5" height="80"/></clipPath>
<polygon points="348.6,421.0 355.7,422.0 382.0,418.2 403.2,414.6 420.8,413.2 449.0,411.5 470.0,406.2 480.7,404.4 494.8,403.7 519.4,400.6 540.6,397.4 558.0,393.5 579.3,391.8 600.4,390.0 649.9,384.0 692.0,377.7 745.0,371.7 769.6,366.4 787.2,364.0 815.4,361.8 841.7,356.5 842.0,429.0 348.0,429.0" fill="#30e00c" clip-path="url(#rc3_4)"/>
<clipPath id="rc3_5"><rect x="514.5" y="350" width="39.200000000000045" height="80"/></clipPath>
<polygon points="348.6,421.0 355.7,422.0 382.0,418.2 403.2,414.6 420.8,413.2 449.0,411.5 470.0,406.2 480.7,404.4 494.8,403.7 519.4,400.6 540.6,397.4 558.0,393.5 579.3,391.8 600.4,390.0 649.9,384.0 692.0,377.7 745.0,371.7 769.6,366.4 787.2,364.0 815.4,361.8 841.7,356.5 842.0,429.0 348.0,429.0" fill="#55f005" clip-path="url(#rc3_5)"/>
<clipPath id="rc3_6"><rect x="553.7" y="350" width="29.299999999999955" height="80"/></clipPath>
<polygon points="348.6,421.0 355.7,422.0 382.0,418.2 403.2,414.6 420.8,413.2 449.0,411.5 470.0,406.2 480.7,404.4 494.8,403.7 519.4,400.6 540.6,397.4 558.0,393.5 579.3,391.8 600.4,390.0 649.9,384.0 692.0,377.7 745.0,371.7 769.6,366.4 787.2,364.0 815.4,361.8 841.7,356.5 842.0,429.0 348.0,429.0" fill="#80f208" clip-path="url(#rc3_6)"/>
<clipPath id="rc3_7"><rect x="583" y="350" width="19.600000000000023" height="80"/></clipPath>
<polygon points="348.6,421.0 355.7,422.0 382.0,418.2 403.2,414.6 420.8,413.2 449.0,411.5 470.0,406.2 480.7,404.4 494.8,403.7 519.4,400.6 540.6,397.4 558.0,393.5 579.3,391.8 600.4,390.0 649.9,384.0 692.0,377.7 745.0,371.7 769.6,366.4 787.2,364.0 815.4,361.8 841.7,356.5 842.0,429.0 348.0,429.0" fill="#a0f60c" clip-path="url(#rc3_7)"/>
<clipPath id="rc3_8"><rect x="602.6" y="350" width="46.19999999999993" height="80"/></clipPath>
<polygon points="348.6,421.0 355.7,422.0 382.0,418.2 403.2,414.6 420.8,413.2 449.0,411.5 470.0,406.2 480.7,404.4 494.8,403.7 519.4,400.6 540.6,397.4 558.0,393.5 579.3,391.8 600.4,390.0 649.9,384.0 692.0,377.7 745.0,371.7 769.6,366.4 787.2,364.0 815.4,361.8 841.7,356.5 842.0,429.0 348.0,429.0" fill="#c8ff1e" clip-path="url(#rc3_8)"/>
<clipPath id="rc3_9"><rect x="648.8" y="350" width="44.90000000000009" height="80"/></clipPath>
<polygon points="348.6,421.0 355.7,422.0 382.0,418.2 403.2,414.6 420.8,413.2 449.0,411.5 470.0,406.2 480.7,404.4 494.8,403.7 519.4,400.6 540.6,397.4 558.0,393.5 579.3,391.8 600.4,390.0 649.9,384.0 692.0,377.7 745.0,371.7 769.6,366.4 787.2,364.0 815.4,361.8 841.7,356.5 842.0,429.0 348.0,429.0" fill="#ffff00" clip-path="url(#rc3_9)"/>
<clipPath id="rc3_10"><rect x="693.7" y="350" width="51.799999999999955" height="80"/></clipPath>
<polygon points="348.6,421.0 355.7,422.0 382.0,418.2 403.2,414.6 420.8,413.2 449.0,411.5 470.0,406.2 480.7,404.4 494.8,403.7 519.4,400.6 540.6,397.4 558.0,393.5 579.3,391.8 600.4,390.0 649.9,384.0 692.0,377.7 745.0,371.7 769.6,366.4 787.2,364.0 815.4,361.8 841.7,356.5 842.0,429.0 348.0,429.0" fill="#ffd800" clip-path="url(#rc3_10)"/>
<clipPath id="rc3_11"><rect x="745.5" y="350" width="23.799999999999955" height="80"/></clipPath>
<polygon points="348.6,421.0 355.7,422.0 382.0,418.2 403.2,414.6 420.8,413.2 449.0,411.5 470.0,406.2 480.7,404.4 494.8,403.7 519.4,400.6 540.6,397.4 558.0,393.5 579.3,391.8 600.4,390.0 649.9,384.0 692.0,377.7 745.0,371.7 769.6,366.4 787.2,364.0 815.4,361.8 841.7,356.5 842.0,429.0 348.0,429.0" fill="#ffb400" clip-path="url(#rc3_11)"/>
<clipPath id="rc3_12"><rect x="769.3" y="350" width="52.700000000000045" height="80"/></clipPath>
<polygon points="348.6,421.0 355.7,422.0 382.0,418.2 403.2,414.6 420.8,413.2 449.0,411.5 470.0,406.2 480.7,404.4 494.8,403.7 519.4,400.6 540.6,397.4 558.0,393.5 579.3,391.8 600.4,390.0 649.9,384.0 692.0,377.7 745.0,371.7 769.6,366.4 787.2,364.0 815.4,361.8 841.7,356.5 842.0,429.0 348.0,429.0" fill="#ff8800" clip-path="url(#rc3_12)"/>
<clipPath id="rc3_13"><rect x="822" y="350" width="20" height="80"/></clipPath>
<polygon points="348.6,421.0 355.7,422.0 382.0,418.2 403.2,414.6 420.8,413.2 449.0,411.5 470.0,406.2 480.7,404.4 494.8,403.7 519.4,400.6 540.6,397.4 558.0,393.5 579.3,391.8 600.4,390.0 649.9,384.0 692.0,377.7 745.0,371.7 769.6,366.4 787.2,364.0 815.4,361.8 841.7,356.5 842.0,429.0 348.0,429.0" fill="#ff5a00" clip-path="url(#rc3_13)"/>
<path d="M348.6 421.0C349.8 421.2 350.1 422.5 355.7 422.0C361.3 421.5 374.1 419.4 382.0 418.2C389.9 417.0 396.7 415.4 403.2 414.6C409.7 413.8 413.2 413.7 420.8 413.2C428.4 412.7 440.8 412.7 449.0 411.5C457.2 410.3 464.7 407.4 470.0 406.2C475.3 405.0 476.6 404.8 480.7 404.4C484.8 404.0 488.4 404.3 494.8 403.7C501.2 403.1 511.8 401.7 519.4 400.6C527.0 399.6 534.2 398.6 540.6 397.4C547.0 396.2 551.5 394.4 558.0 393.5C564.5 392.6 572.2 392.4 579.3 391.8C586.4 391.2 588.6 391.3 600.4 390.0C612.2 388.7 634.6 386.1 649.9 384.0C665.2 381.9 676.1 379.8 692.0 377.7C707.9 375.6 732.1 373.6 745.0 371.7C757.9 369.8 762.6 367.7 769.6 366.4C776.6 365.1 779.6 364.8 787.2 364.0C794.8 363.2 806.3 363.1 815.4 361.8C824.5 360.6 837.3 357.4 841.7 356.5" fill="none" stroke="#000" stroke-width="2.2" stroke-linejoin="round" />
</g>
<line x1="349.5" y1="350.5" x2="349.5" y2="428.5" stroke="#000" stroke-width="1" class="g"/>
<line x1="361.5" y1="350.5" x2="361.5" y2="428.5" stroke="#000" stroke-width="1" class="g"/>
<line x1="380.5" y1="350.5" x2="380.5" y2="428.5" stroke="#000" stroke-width="1" class="g"/>
<line x1="400.5" y1="350.5" x2="400.5" y2="428.5" stroke="#000" stroke-width="1" class="g"/>
<line x1="419.5" y1="350.5" x2="419.5" y2="428.5" stroke="#000" stroke-width="1" class="g"/>
<line x1="438.5" y1="350.5" x2="438.5" y2="428.5" stroke="#000" stroke-width="1" class="g"/>
<line x1="457.5" y1="350.5" x2="457.5" y2="428.5" stroke="#000" stroke-width="1" class="g"/>
<line x1="476.5" y1="350.5" x2="476.5" y2="428.5" stroke="#000" stroke-width="1" class="g"/>
<line x1="495.5" y1="350.5" x2="495.5" y2="428.5" stroke="#000" stroke-width="1" class="g"/>
<line x1="515.5" y1="350.5" x2="515.5" y2="428.5" stroke="#000" stroke-width="1" class="g"/>
<line x1="534.5" y1="350.5" x2="534.5" y2="428.5" stroke="#000" stroke-width="1" class="g"/>
<line x1="553.5" y1="350.5" x2="553.5" y2="428.5" stroke="#000" stroke-width="1" class="g"/>
<line x1="572.5" y1="350.5" x2="572.5" y2="428.5" stroke="#000" stroke-width="1" class="g"/>
<line x1="591.5" y1="350.5" x2="591.5" y2="428.5" stroke="#000" stroke-width="1" class="g"/>
<line x1="610.5" y1="350.5" x2="610.5" y2="428.5" stroke="#000" stroke-width="1" class="g"/>
<line x1="630.5" y1="350.5" x2="630.5" y2="428.5" stroke="#000" stroke-width="1" class="g"/>
<line x1="649.5" y1="350.5" x2="649.5" y2="428.5" stroke="#000" stroke-width="1" class="g"/>
<line x1="668.5" y1="350.5" x2="668.5" y2="428.5" stroke="#000" stroke-width="1" class="g"/>
<line x1="687.5" y1="350.5" x2="687.5" y2="428.5" stroke="#000" stroke-width="1" class="g"/>
<line x1="706.5" y1="350.5" x2="706.5" y2="428.5" stroke="#000" stroke-width="1" class="g"/>
<line x1="725.5" y1="350.5" x2="725.5" y2="428.5" stroke="#000" stroke-width="1" class="g"/>
<line x1="745.5" y1="350.5" x2="745.5" y2="428.5" stroke="#000" stroke-width="1" class="g"/>
<line x1="764.5" y1="350.5" x2="764.5" y2="428.5" stroke="#000" stroke-width="1" class="g"/>
<line x1="783.5" y1="350.5" x2="783.5" y2="428.5" stroke="#000" stroke-width="1" class="g"/>
<line x1="802.5" y1="350.5" x2="802.5" y2="428.5" stroke="#000" stroke-width="1" class="g"/>
<line x1="821.5" y1="350.5" x2="821.5" y2="428.5" stroke="#000" stroke-width="1" class="g"/>
<line x1="348.5" y1="352.5" x2="841.5" y2="352.5" stroke="#000" stroke-width="1" class="g"/>
<line x1="348.5" y1="367.3" x2="841.5" y2="367.3" stroke="#000" stroke-width="1" class="g"/>
<line x1="348.5" y1="382.1" x2="841.5" y2="382.1" stroke="#000" stroke-width="1" class="g"/>
<line x1="348.5" y1="396.8" x2="841.5" y2="396.8" stroke="#000" stroke-width="1" class="g"/>
<line x1="348.5" y1="411.4" x2="841.5" y2="411.4" stroke="#000" stroke-width="1" class="g"/>
<line x1="348.5" y1="426" x2="841.5" y2="426" stroke="#000" stroke-width="1" class="g"/>
<rect x="348.5" y="350.5" width="493.0" height="78.0" class="f"/>
<text x="344" y="356.6" font-size="12" fill="#000" text-anchor="end" stroke="#000" stroke-width="0.22">1025</text>
<text x="845" y="356.6" font-size="12" fill="#000" stroke="#000" stroke-width="0.22">769</text>
<text x="344" y="371.40000000000003" font-size="12" fill="#000" text-anchor="end" stroke="#000" stroke-width="0.22">1020</text>
<text x="845" y="371.40000000000003" font-size="12" fill="#000" stroke="#000" stroke-width="0.22">765</text>
<text x="344" y="386.20000000000005" font-size="12" fill="#000" text-anchor="end" stroke="#000" stroke-width="0.22">1015</text>
<text x="845" y="386.20000000000005" font-size="12" fill="#000" stroke="#000" stroke-width="0.22">761</text>
<text x="344" y="400.90000000000003" font-size="12" fill="#000" text-anchor="end" stroke="#000" stroke-width="0.22">1010</text>
<text x="845" y="400.90000000000003" font-size="12" fill="#000" stroke="#000" stroke-width="0.22">758</text>
<text x="344" y="415.5" font-size="12" fill="#000" text-anchor="end" stroke="#000" stroke-width="0.22">1005</text>
<text x="845" y="415.5" font-size="12" fill="#000" stroke="#000" stroke-width="0.22">754</text>
<text x="344" y="430.1" font-size="12" fill="#000" text-anchor="end" stroke="#000" stroke-width="0.22">1000</text>
<text x="845" y="430.1" font-size="12" fill="#000" stroke="#000" stroke-width="0.22">750</text>
<clipPath id="rc4"><rect x="348.5" y="437.5" width="493.0" height="78.0"/></clipPath>
<g clip-path="url(#rc4)">
<clipPath id="rc4_0"><rect x="348.5" y="437" width="83.5" height="80"/></clipPath>
<polygon points="348.6,502.5 355.6,500.7 360.9,500.0 382.0,500.4 392.5,499.3 399.6,500.4 410.1,498.9 420.7,500.7 425.9,498.9 431.2,500.4 441.8,498.2 462.9,498.9 466.4,500.7 471.6,499.3 505.1,498.9 519.1,496.8 526.2,495.8 536.7,496.8 554.3,496.8 561.3,496.1 575.4,495.1 585.9,494.7 600.0,496.5 598.8,498.2 611.1,494.7 618.1,493.7 624.1,489.5 630.4,492.3 637.5,494.0 642.7,494.0 660.3,491.9 681.4,491.9 688.5,490.2 702.5,490.2 713.1,492.3 727.1,489.8 741.2,493.0 758.8,494.0 779.9,493.0 794.0,491.2 815.1,492.3 822.1,494.0 841.4,494.0 842.0,516.0 348.0,516.0" fill="#00bfff" clip-path="url(#rc4_0)"/>
<clipPath id="rc4_1"><rect x="432" y="437" width="26.5" height="80"/></clipPath>
<polygon points="348.6,502.5 355.6,500.7 360.9,500.0 382.0,500.4 392.5,499.3 399.6,500.4 410.1,498.9 420.7,500.7 425.9,498.9 431.2,500.4 441.8,498.2 462.9,498.9 466.4,500.7 471.6,499.3 505.1,498.9 519.1,496.8 526.2,495.8 536.7,496.8 554.3,496.8 561.3,496.1 575.4,495.1 585.9,494.7 600.0,496.5 598.8,498.2 611.1,494.7 618.1,493.7 624.1,489.5 630.4,492.3 637.5,494.0 642.7,494.0 660.3,491.9 681.4,491.9 688.5,490.2 702.5,490.2 713.1,492.3 727.1,489.8 741.2,493.0 758.8,494.0 779.9,493.0 794.0,491.2 815.1,492.3 822.1,494.0 841.4,494.0 842.0,516.0 348.0,516.0" fill="#0082fb" clip-path="url(#rc4_1)"/>
<clipPath id="rc4_2"><rect x="458.5" y="437" width="11.199999999999989" height="80"/></clipPath>
<polygon points="348.6,502.5 355.6,500.7 360.9,500.0 382.0,500.4 392.5,499.3 399.6,500.4 410.1,498.9 420.7,500.7 425.9,498.9 431.2,500.4 441.8,498.2 462.9,498.9 466.4,500.7 471.6,499.3 505.1,498.9 519.1,496.8 526.2,495.8 536.7,496.8 554.3,496.8 561.3,496.1 575.4,495.1 585.9,494.7 600.0,496.5 598.8,498.2 611.1,494.7 618.1,493.7 624.1,489.5 630.4,492.3 637.5,494.0 642.7,494.0 660.3,491.9 681.4,491.9 688.5,490.2 702.5,490.2 713.1,492.3 727.1,489.8 741.2,493.0 758.8,494.0 779.9,493.0 794.0,491.2 815.1,492.3 822.1,494.0 841.4,494.0 842.0,516.0 348.0,516.0" fill="#00bfff" clip-path="url(#rc4_2)"/>
<clipPath id="rc4_3"><rect x="469.7" y="437" width="109.30000000000001" height="80"/></clipPath>
<polygon points="348.6,502.5 355.6,500.7 360.9,500.0 382.0,500.4 392.5,499.3 399.6,500.4 410.1,498.9 420.7,500.7 425.9,498.9 431.2,500.4 441.8,498.2 462.9,498.9 466.4,500.7 471.6,499.3 505.1,498.9 519.1,496.8 526.2,495.8 536.7,496.8 554.3,496.8 561.3,496.1 575.4,495.1 585.9,494.7 600.0,496.5 598.8,498.2 611.1,494.7 618.1,493.7 624.1,489.5 630.4,492.3 637.5,494.0 642.7,494.0 660.3,491.9 681.4,491.9 688.5,490.2 702.5,490.2 713.1,492.3 727.1,489.8 741.2,493.0 758.8,494.0 779.9,493.0 794.0,491.2 815.1,492.3 822.1,494.0 841.4,494.0 842.0,516.0 348.0,516.0" fill="#0082fb" clip-path="url(#rc4_3)"/>
<clipPath id="rc4_4"><rect x="579" y="437" width="6.399999999999977" height="80"/></clipPath>
<polygon points="348.6,502.5 355.6,500.7 360.9,500.0 382.0,500.4 392.5,499.3 399.6,500.4 410.1,498.9 420.7,500.7 425.9,498.9 431.2,500.4 441.8,498.2 462.9,498.9 466.4,500.7 471.6,499.3 505.1,498.9 519.1,496.8 526.2,495.8 536.7,496.8 554.3,496.8 561.3,496.1 575.4,495.1 585.9,494.7 600.0,496.5 598.8,498.2 611.1,494.7 618.1,493.7 624.1,489.5 630.4,492.3 637.5,494.0 642.7,494.0 660.3,491.9 681.4,491.9 688.5,490.2 702.5,490.2 713.1,492.3 727.1,489.8 741.2,493.0 758.8,494.0 779.9,493.0 794.0,491.2 815.1,492.3 822.1,494.0 841.4,494.0 842.0,516.0 348.0,516.0" fill="#004a8f" clip-path="url(#rc4_4)"/>
<clipPath id="rc4_5"><rect x="585.4" y="437" width="18.600000000000023" height="80"/></clipPath>
<polygon points="348.6,502.5 355.6,500.7 360.9,500.0 382.0,500.4 392.5,499.3 399.6,500.4 410.1,498.9 420.7,500.7 425.9,498.9 431.2,500.4 441.8,498.2 462.9,498.9 466.4,500.7 471.6,499.3 505.1,498.9 519.1,496.8 526.2,495.8 536.7,496.8 554.3,496.8 561.3,496.1 575.4,495.1 585.9,494.7 600.0,496.5 598.8,498.2 611.1,494.7 618.1,493.7 624.1,489.5 630.4,492.3 637.5,494.0 642.7,494.0 660.3,491.9 681.4,491.9 688.5,490.2 702.5,490.2 713.1,492.3 727.1,489.8 741.2,493.0 758.8,494.0 779.9,493.0 794.0,491.2 815.1,492.3 822.1,494.0 841.4,494.0 842.0,516.0 348.0,516.0" fill="#0082fb" clip-path="url(#rc4_5)"/>
<clipPath id="rc4_6"><rect x="604" y="437" width="218" height="80"/></clipPath>
<polygon points="348.6,502.5 355.6,500.7 360.9,500.0 382.0,500.4 392.5,499.3 399.6,500.4 410.1,498.9 420.7,500.7 425.9,498.9 431.2,500.4 441.8,498.2 462.9,498.9 466.4,500.7 471.6,499.3 505.1,498.9 519.1,496.8 526.2,495.8 536.7,496.8 554.3,496.8 561.3,496.1 575.4,495.1 585.9,494.7 600.0,496.5 598.8,498.2 611.1,494.7 618.1,493.7 624.1,489.5 630.4,492.3 637.5,494.0 642.7,494.0 660.3,491.9 681.4,491.9 688.5,490.2 702.5,490.2 713.1,492.3 727.1,489.8 741.2,493.0 758.8,494.0 779.9,493.0 794.0,491.2 815.1,492.3 822.1,494.0 841.4,494.0 842.0,516.0 348.0,516.0" fill="#004a8f" clip-path="url(#rc4_6)"/>
<clipPath id="rc4_7"><rect x="822" y="437" width="20" height="80"/></clipPath>
<polygon points="348.6,502.5 355.6,500.7 360.9,500.0 382.0,500.4 392.5,499.3 399.6,500.4 410.1,498.9 420.7,500.7 425.9,498.9 431.2,500.4 441.8,498.2 462.9,498.9 466.4,500.7 471.6,499.3 505.1,498.9 519.1,496.8 526.2,495.8 536.7,496.8 554.3,496.8 561.3,496.1 575.4,495.1 585.9,494.7 600.0,496.5 598.8,498.2 611.1,494.7 618.1,493.7 624.1,489.5 630.4,492.3 637.5,494.0 642.7,494.0 660.3,491.9 681.4,491.9 688.5,490.2 702.5,490.2 713.1,492.3 727.1,489.8 741.2,493.0 758.8,494.0 779.9,493.0 794.0,491.2 815.1,492.3 822.1,494.0 841.4,494.0 842.0,516.0 348.0,516.0" fill="#0082fb" clip-path="url(#rc4_7)"/>
<path d="M348.6 502.5C349.7 502.2 353.6 501.1 355.6 500.7C357.7 500.3 356.5 500.1 360.9 500.0C365.3 499.9 376.7 500.5 382.0 500.4C387.3 500.2 389.6 499.3 392.5 499.3C395.5 499.3 396.6 500.4 399.6 500.4C402.5 500.3 406.6 498.9 410.1 498.9C413.6 499.0 418.0 500.7 420.7 500.7C423.3 500.7 424.2 499.0 425.9 498.9C427.7 498.9 428.6 500.5 431.2 500.4C433.8 500.2 436.5 498.5 441.8 498.2C447.0 498.0 458.8 498.5 462.9 498.9C467.0 499.4 464.9 500.6 466.4 500.7C467.8 500.8 465.2 499.6 471.6 499.3C478.1 499.0 497.1 499.4 505.1 498.9C513.0 498.5 515.6 497.4 519.1 496.8C522.6 496.3 523.2 495.8 526.2 495.8C529.1 495.8 532.0 496.7 536.7 496.8C541.4 497.0 550.2 497.0 554.3 496.8C558.4 496.7 557.8 496.4 561.3 496.1C564.8 495.8 571.3 495.3 575.4 495.1C579.5 494.8 581.8 494.5 585.9 494.7C590.0 495.0 597.9 495.9 600.0 496.5C602.1 497.1 596.9 498.5 598.8 498.2C600.6 497.9 607.9 495.5 611.1 494.7C614.3 494.0 616.0 494.5 618.1 493.7C620.3 492.8 622.1 489.7 624.1 489.5C626.2 489.2 628.2 491.5 630.4 492.3C632.7 493.0 635.4 493.7 637.5 494.0C639.5 494.3 638.9 494.4 642.7 494.0C646.6 493.7 653.9 492.3 660.3 491.9C666.8 491.6 676.7 492.2 681.4 491.9C686.1 491.6 684.9 490.4 688.5 490.2C692.0 489.9 698.4 489.8 702.5 490.2C706.6 490.5 709.0 492.3 713.1 492.3C717.2 492.2 722.5 489.7 727.1 489.8C731.8 489.9 735.9 492.3 741.2 493.0C746.5 493.7 752.3 494.0 758.8 494.0C765.2 494.0 774.0 493.4 779.9 493.0C785.8 492.5 788.1 491.3 794.0 491.2C799.8 491.1 810.4 491.8 815.1 492.3C819.7 492.7 817.7 493.7 822.1 494.0C826.5 494.3 838.2 494.0 841.4 494.0" fill="none" stroke="#00009c" stroke-width="2" stroke-linejoin="round" />
<line x1="348.6" y1="479.5" x2="360.9" y2="479.5" stroke="#ff0000" stroke-width="1" class="c"/>
<line x1="360.9" y1="477.5" x2="380.2" y2="477.5" stroke="#ff0000" stroke-width="1" class="c"/>
<line x1="380.2" y1="480.5" x2="387.3" y2="480.5" stroke="#ff0000" stroke-width="1" class="c"/>
<line x1="387.3" y1="477.5" x2="401.3" y2="477.5" stroke="#ff0000" stroke-width="1" class="c"/>
<line x1="401.3" y1="476.5" x2="418.9" y2="476.5" stroke="#ff0000" stroke-width="1" class="c"/>
<line x1="418.9" y1="473.5" x2="431.2" y2="473.5" stroke="#ff0000" stroke-width="1" class="c"/>
<line x1="431.2" y1="473.5" x2="459.3" y2="473.5" stroke="#ff0000" stroke-width="1" class="c"/>
<line x1="459.3" y1="474.5" x2="471.6" y2="474.5" stroke="#ff0000" stroke-width="1" class="c"/>
<line x1="471.6" y1="472.5" x2="494.5" y2="472.5" stroke="#ff0000" stroke-width="1" class="c"/>
<line x1="494.5" y1="470.5" x2="505.1" y2="470.5" stroke="#ff0000" stroke-width="1" class="c"/>
<line x1="505.1" y1="469.5" x2="515.6" y2="469.5" stroke="#ff0000" stroke-width="1" class="c"/>
<line x1="515.6" y1="463.5" x2="524.4" y2="463.5" stroke="#ff0000" stroke-width="1" class="c"/>
<line x1="524.4" y1="461.5" x2="534.9" y2="461.5" stroke="#ff0000" stroke-width="1" class="c"/>
<line x1="534.9" y1="460.5" x2="554.3" y2="460.5" stroke="#ff0000" stroke-width="1" class="c"/>
<line x1="554.3" y1="464.5" x2="566.6" y2="464.5" stroke="#ff0000" stroke-width="1" class="c"/>
<line x1="566.6" y1="459.5" x2="577.1" y2="459.5" stroke="#ff0000" stroke-width="1" class="c"/>
<line x1="577.1" y1="458.5" x2="585.9" y2="458.5" stroke="#ff0000" stroke-width="1" class="c"/>
<line x1="585.9" y1="463.5" x2="593.0" y2="463.5" stroke="#ff0000" stroke-width="1" class="c"/>
<line x1="593.0" y1="454.5" x2="600.0" y2="454.5" stroke="#ff0000" stroke-width="1" class="c"/>
<line x1="590.0" y1="454.5" x2="598.8" y2="454.5" stroke="#ff0000" stroke-width="1" class="c"/>
<line x1="598.8" y1="446.5" x2="611.1" y2="446.5" stroke="#ff0000" stroke-width="1" class="c"/>
<line x1="611.1" y1="451.5" x2="618.1" y2="451.5" stroke="#ff0000" stroke-width="1" class="c"/>
<line x1="618.1" y1="444.5" x2="630.4" y2="444.5" stroke="#ff0000" stroke-width="1" class="c"/>
<line x1="630.4" y1="446.5" x2="642.7" y2="446.5" stroke="#ff0000" stroke-width="1" class="c"/>
<line x1="642.7" y1="452.5" x2="662.1" y2="452.5" stroke="#ff0000" stroke-width="1" class="c"/>
<line x1="662.1" y1="454.5" x2="674.4" y2="454.5" stroke="#ff0000" stroke-width="1" class="c"/>
<line x1="674.4" y1="450.5" x2="684.9" y2="450.5" stroke="#ff0000" stroke-width="1" class="c"/>
<line x1="684.9" y1="449.5" x2="695.5" y2="449.5" stroke="#ff0000" stroke-width="1" class="c"/>
<line x1="695.5" y1="450.5" x2="707.8" y2="450.5" stroke="#ff0000" stroke-width="1" class="c"/>
<line x1="707.8" y1="453.5" x2="720.1" y2="453.5" stroke="#ff0000" stroke-width="1" class="c"/>
<line x1="720.1" y1="447.5" x2="728.9" y2="447.5" stroke="#ff0000" stroke-width="1" class="c"/>
<line x1="728.9" y1="447.5" x2="737.7" y2="447.5" stroke="#ff0000" stroke-width="1" class="c"/>
<line x1="737.7" y1="449.5" x2="746.5" y2="449.5" stroke="#ff0000" stroke-width="1" class="c"/>
<line x1="746.5" y1="455.5" x2="758.8" y2="455.5" stroke="#ff0000" stroke-width="1" class="c"/>
<line x1="758.8" y1="456.5" x2="765.8" y2="456.5" stroke="#ff0000" stroke-width="1" class="c"/>
<line x1="765.8" y1="458.5" x2="771.1" y2="458.5" stroke="#ff0000" stroke-width="1" class="c"/>
<line x1="771.1" y1="454.5" x2="779.9" y2="454.5" stroke="#ff0000" stroke-width="1" class="c"/>
<line x1="779.9" y1="452.5" x2="797.5" y2="452.5" stroke="#ff0000" stroke-width="1" class="c"/>
<line x1="797.5" y1="453.5" x2="804.5" y2="453.5" stroke="#ff0000" stroke-width="1" class="c"/>
<line x1="804.5" y1="454.5" x2="815.1" y2="454.5" stroke="#ff0000" stroke-width="1" class="c"/>
<line x1="815.1" y1="457.5" x2="822.1" y2="457.5" stroke="#ff0000" stroke-width="1" class="c"/>
<line x1="822.1" y1="464.5" x2="836.2" y2="464.5" stroke="#ff0000" stroke-width="1" class="c"/>
<line x1="836.2" y1="462.5" x2="841.4" y2="462.5" stroke="#ff0000" stroke-width="1" class="c"/>
</g>
<line x1="349.5" y1="437.5" x2="349.5" y2="515.5" stroke="#000" stroke-width="1" class="g"/>
<line x1="361.5" y1="437.5" x2="361.5" y2="515.5" stroke="#000" stroke-width="1" class="g"/>
<line x1="380.5" y1="437.5" x2="380.5" y2="515.5" stroke="#000" stroke-width="1" class="g"/>
<line x1="400.5" y1="437.5" x2="400.5" y2="515.5" stroke="#000" stroke-width="1" class="g"/>
<line x1="419.5" y1="437.5" x2="419.5" y2="515.5" stroke="#000" stroke-width="1" class="g"/>
<line x1="438.5" y1="437.5" x2="438.5" y2="515.5" stroke="#000" stroke-width="1" class="g"/>
<line x1="457.5" y1="437.5" x2="457.5" y2="515.5" stroke="#000" stroke-width="1" class="g"/>
<line x1="476.5" y1="437.5" x2="476.5" y2="515.5" stroke="#000" stroke-width="1" class="g"/>
<line x1="495.5" y1="437.5" x2="495.5" y2="515.5" stroke="#000" stroke-width="1" class="g"/>
<line x1="515.5" y1="437.5" x2="515.5" y2="515.5" stroke="#000" stroke-width="1" class="g"/>
<line x1="534.5" y1="437.5" x2="534.5" y2="515.5" stroke="#000" stroke-width="1" class="g"/>
<line x1="553.5" y1="437.5" x2="553.5" y2="515.5" stroke="#000" stroke-width="1" class="g"/>
<line x1="572.5" y1="437.5" x2="572.5" y2="515.5" stroke="#000" stroke-width="1" class="g"/>
<line x1="591.5" y1="437.5" x2="591.5" y2="515.5" stroke="#000" stroke-width="1" class="g"/>
<line x1="610.5" y1="437.5" x2="610.5" y2="515.5" stroke="#000" stroke-width="1" class="g"/>
<line x1="630.5" y1="437.5" x2="630.5" y2="515.5" stroke="#000" stroke-width="1" class="g"/>
<line x1="649.5" y1="437.5" x2="649.5" y2="515.5" stroke="#000" stroke-width="1" class="g"/>
<line x1="668.5" y1="437.5" x2="668.5" y2="515.5" stroke="#000" stroke-width="1" class="g"/>
<line x1="687.5" y1="437.5" x2="687.5" y2="515.5" stroke="#000" stroke-width="1" class="g"/>
<line x1="706.5" y1="437.5" x2="706.5" y2="515.5" stroke="#000" stroke-width="1" class="g"/>
<line x1="725.5" y1="437.5" x2="725.5" y2="515.5" stroke="#000" stroke-width="1" class="g"/>
<line x1="745.5" y1="437.5" x2="745.5" y2="515.5" stroke="#000" stroke-width="1" class="g"/>
<line x1="764.5" y1="437.5" x2="764.5" y2="515.5" stroke="#000" stroke-width="1" class="g"/>
<line x1="783.5" y1="437.5" x2="783.5" y2="515.5" stroke="#000" stroke-width="1" class="g"/>
<line x1="802.5" y1="437.5" x2="802.5" y2="515.5" stroke="#000" stroke-width="1" class="g"/>
<line x1="821.5" y1="437.5" x2="821.5" y2="515.5" stroke="#000" stroke-width="1" class="g"/>
<line x1="348.5" y1="438.8" x2="841.5" y2="438.8" stroke="#000" stroke-width="1" class="g"/>
<line x1="348.5" y1="464.4" x2="841.5" y2="464.4" stroke="#000" stroke-width="1" class="g"/>
<line x1="348.5" y1="489.9" x2="841.5" y2="489.9" stroke="#000" stroke-width="1" class="g"/>
<rect x="348.5" y="437.5" width="493.0" height="78.0" class="f"/>
<text x="344" y="442.90000000000003" font-size="12" fill="#000" text-anchor="end" stroke="#000" stroke-width="0.22">15</text>
<text x="845" y="442.90000000000003" font-size="12" fill="#000" stroke="#000" stroke-width="0.22">54</text>
<text x="344" y="468.5" font-size="12" fill="#000" text-anchor="end" stroke="#000" stroke-width="0.22">10</text>
<text x="845" y="468.5" font-size="12" fill="#000" stroke="#000" stroke-width="0.22">36</text>
<text x="344" y="494.0" font-size="12" fill="#000" text-anchor="end" stroke="#000" stroke-width="0.22">5</text>
<text x="845" y="494.0" font-size="12" fill="#000" stroke="#000" stroke-width="0.22">18</text>
<text x="344" y="519.4" font-size="12" fill="#000" text-anchor="end" stroke="#000" stroke-width="0.22">0</text>
<text x="848.2" y="519.4" font-size="12" fill="#000" stroke="#000" stroke-width="0.22">0</text>
<clipPath id="rc5"><rect x="347" y="520" width="503" height="33"/></clipPath>
<line x1="349.5" y1="521.5" x2="349.5" y2="551.5" stroke="#000" stroke-width="1" class="g"/>
<line x1="361.5" y1="521.5" x2="361.5" y2="551.5" stroke="#000" stroke-width="1" class="g"/>
<line x1="380.5" y1="521.5" x2="380.5" y2="551.5" stroke="#000" stroke-width="1" class="g"/>
<line x1="400.5" y1="521.5" x2="400.5" y2="551.5" stroke="#000" stroke-width="1" class="g"/>
<line x1="419.5" y1="521.5" x2="419.5" y2="551.5" stroke="#000" stroke-width="1" class="g"/>
<line x1="438.5" y1="521.5" x2="438.5" y2="551.5" stroke="#000" stroke-width="1" class="g"/>
<line x1="457.5" y1="521.5" x2="457.5" y2="551.5" stroke="#000" stroke-width="1" class="g"/>
<line x1="476.5" y1="521.5" x2="476.5" y2="551.5" stroke="#000" stroke-width="1" class="g"/>
<line x1="495.5" y1="521.5" x2="495.5" y2="551.5" stroke="#000" stroke-width="1" class="g"/>
<line x1="515.5" y1="521.5" x2="515.5" y2="551.5" stroke="#000" stroke-width="1" class="g"/>
<line x1="534.5" y1="521.5" x2="534.5" y2="551.5" stroke="#000" stroke-width="1" class="g"/>
<line x1="553.5" y1="521.5" x2="553.5" y2="551.5" stroke="#000" stroke-width="1" class="g"/>
<line x1="572.5" y1="521.5" x2="572.5" y2="551.5" stroke="#000" stroke-width="1" class="g"/>
<line x1="591.5" y1="521.5" x2="591.5" y2="551.5" stroke="#000" stroke-width="1" class="g"/>
<line x1="610.5" y1="521.5" x2="610.5" y2="551.5" stroke="#000" stroke-width="1" class="g"/>
<line x1="630.5" y1="521.5" x2="630.5" y2="551.5" stroke="#000" stroke-width="1" class="g"/>
<line x1="649.5" y1="521.5" x2="649.5" y2="551.5" stroke="#000" stroke-width="1" class="g"/>
<line x1="668.5" y1="521.5" x2="668.5" y2="551.5" stroke="#000" stroke-width="1" class="g"/>
<line x1="687.5" y1="521.5" x2="687.5" y2="551.5" stroke="#000" stroke-width="1" class="g"/>
<line x1="706.5" y1="521.5" x2="706.5" y2="551.5" stroke="#000" stroke-width="1" class="g"/>
<line x1="725.5" y1="521.5" x2="725.5" y2="551.5" stroke="#000" stroke-width="1" class="g"/>
<line x1="745.5" y1="521.5" x2="745.5" y2="551.5" stroke="#000" stroke-width="1" class="g"/>
<line x1="764.5" y1="521.5" x2="764.5" y2="551.5" stroke="#000" stroke-width="1" class="g"/>
<line x1="783.5" y1="521.5" x2="783.5" y2="551.5" stroke="#000" stroke-width="1" class="g"/>
<line x1="802.5" y1="521.5" x2="802.5" y2="551.5" stroke="#000" stroke-width="1" class="g"/>
<line x1="821.5" y1="521.5" x2="821.5" y2="551.5" stroke="#000" stroke-width="1" class="g"/>
<rect x="348.5" y="521.5" width="493.0" height="30.0" class="f"/>
<rect x="349" y="522" width="492" height="29" fill="none" stroke="#555" stroke-width="0.8" stroke-opacity="0.6"/>
<g clip-path="url(#rc5)">
<line x1="349.0" y1="530.1" x2="349.0" y2="538.9" stroke="#00009c" stroke-width="1.4" />
<polygon points="349.0,543.5 346.9,538.9 351.1,538.9" fill="#00009c" />
<line x1="355.4" y1="530.1" x2="355.4" y2="538.9" stroke="#00009c" stroke-width="1.4" />
<polygon points="355.4,543.5 353.3,538.9 357.5,538.9" fill="#00009c" />
<line x1="361.8" y1="530.1" x2="361.8" y2="538.9" stroke="#00009c" stroke-width="1.4" />
<polygon points="361.8,543.5 359.7,538.9 363.9,538.9" fill="#00009c" />
<line x1="371.6" y1="531.1" x2="367.0" y2="538.6" stroke="#00009c" stroke-width="1.4" />
<polygon points="364.5,542.5 365.2,537.5 368.7,539.7" fill="#00009c" />
<line x1="378.1" y1="531.1" x2="373.3" y2="538.6" stroke="#00009c" stroke-width="1.4" />
<polygon points="370.9,542.5 371.6,537.4 375.1,539.7" fill="#00009c" />
<line x1="384.5" y1="531.2" x2="379.7" y2="538.6" stroke="#00009c" stroke-width="1.4" />
<polygon points="377.2,542.4 377.9,537.4 381.5,539.7" fill="#00009c" />
<line x1="390.9" y1="531.2" x2="386.1" y2="538.6" stroke="#00009c" stroke-width="1.4" />
<polygon points="383.5,542.4 384.3,537.4 387.8,539.7" fill="#00009c" />
<line x1="397.4" y1="531.2" x2="392.5" y2="538.5" stroke="#00009c" stroke-width="1.4" />
<polygon points="389.9,542.4 390.7,537.4 394.2,539.7" fill="#00009c" />
<line x1="403.8" y1="531.3" x2="398.8" y2="538.5" stroke="#00009c" stroke-width="1.4" />
<polygon points="396.2,542.3 397.1,537.3 400.6,539.7" fill="#00009c" />
<line x1="410.3" y1="531.3" x2="405.2" y2="538.5" stroke="#00009c" stroke-width="1.4" />
<polygon points="402.6,542.3 403.5,537.3 406.9,539.7" fill="#00009c" />
<line x1="416.7" y1="531.3" x2="411.6" y2="538.5" stroke="#00009c" stroke-width="1.4" />
<polygon points="408.9,542.3 409.9,537.3 413.3,539.7" fill="#00009c" />
<line x1="423.1" y1="531.4" x2="418.0" y2="538.5" stroke="#00009c" stroke-width="1.4" />
<polygon points="415.3,542.2 416.3,537.3 419.7,539.7" fill="#00009c" />
<line x1="429.6" y1="531.4" x2="424.3" y2="538.5" stroke="#00009c" stroke-width="1.4" />
<polygon points="421.6,542.2 422.6,537.2 426.0,539.7" fill="#00009c" />
<line x1="436.0" y1="531.4" x2="430.7" y2="538.5" stroke="#00009c" stroke-width="1.4" />
<polygon points="427.9,542.2 429.0,537.2 432.4,539.7" fill="#00009c" />
<line x1="442.4" y1="531.5" x2="437.1" y2="538.5" stroke="#00009c" stroke-width="1.4" />
<polygon points="434.3,542.1 435.4,537.2 438.7,539.7" fill="#00009c" />
<line x1="448.9" y1="531.5" x2="443.5" y2="538.5" stroke="#00009c" stroke-width="1.4" />
<polygon points="440.6,542.1 441.8,537.2 445.1,539.7" fill="#00009c" />
<line x1="455.3" y1="531.6" x2="449.8" y2="538.4" stroke="#00009c" stroke-width="1.4" />
<polygon points="447.0,542.0 448.2,537.1 451.5,539.8" fill="#00009c" />
<line x1="461.7" y1="531.6" x2="456.2" y2="538.4" stroke="#00009c" stroke-width="1.4" />
<polygon points="453.3,542.0 454.6,537.1 457.8,539.8" fill="#00009c" />
<line x1="468.2" y1="531.6" x2="462.6" y2="538.4" stroke="#00009c" stroke-width="1.4" />
<polygon points="459.7,542.0 461.0,537.1 464.2,539.8" fill="#00009c" />
<line x1="474.6" y1="531.7" x2="469.0" y2="538.4" stroke="#00009c" stroke-width="1.4" />
<polygon points="466.0,541.9 467.4,537.1 470.6,539.8" fill="#00009c" />
<line x1="481.1" y1="531.7" x2="475.3" y2="538.4" stroke="#00009c" stroke-width="1.4" />
<polygon points="472.3,541.9 473.7,537.0 476.9,539.8" fill="#00009c" />
<line x1="487.6" y1="531.9" x2="481.7" y2="538.4" stroke="#00009c" stroke-width="1.4" />
<polygon points="478.6,541.7 480.1,536.9 483.2,539.8" fill="#00009c" />
<line x1="494.2" y1="532.0" x2="488.0" y2="538.3" stroke="#00009c" stroke-width="1.4" />
<polygon points="484.8,541.6 486.5,536.8 489.5,539.8" fill="#00009c" />
<line x1="500.7" y1="532.2" x2="494.4" y2="538.3" stroke="#00009c" stroke-width="1.4" />
<polygon points="491.0,541.4 492.9,536.7 495.8,539.8" fill="#00009c" />
<line x1="507.2" y1="532.3" x2="500.7" y2="538.2" stroke="#00009c" stroke-width="1.4" />
<polygon points="497.3,541.3 499.3,536.6 502.1,539.8" fill="#00009c" />
<line x1="513.8" y1="532.5" x2="507.0" y2="538.1" stroke="#00009c" stroke-width="1.4" />
<polygon points="503.5,541.1 505.7,536.5 508.4,539.8" fill="#00009c" />
<line x1="520.3" y1="532.7" x2="513.4" y2="538.1" stroke="#00009c" stroke-width="1.4" />
<polygon points="509.8,540.9 512.1,536.4 514.7,539.7" fill="#00009c" />
<line x1="526.8" y1="532.8" x2="519.7" y2="538.0" stroke="#00009c" stroke-width="1.4" />
<polygon points="516.0,540.8 518.5,536.3 521.0,539.7" fill="#00009c" />
<line x1="533.4" y1="533.1" x2="526.1" y2="538.0" stroke="#00009c" stroke-width="1.4" />
<polygon points="522.3,540.5 524.9,536.2 527.3,539.7" fill="#00009c" />
<line x1="540.0" y1="533.4" x2="532.4" y2="537.8" stroke="#00009c" stroke-width="1.4" />
<polygon points="528.4,540.1 531.3,536.0 533.4,539.7" fill="#00009c" />
<line x1="546.6" y1="533.9" x2="538.7" y2="537.7" stroke="#00009c" stroke-width="1.4" />
<polygon points="534.6,539.7 537.8,535.8 539.6,539.6" fill="#00009c" />
<line x1="553.2" y1="534.3" x2="545.0" y2="537.6" stroke="#00009c" stroke-width="1.4" />
<polygon points="540.8,539.3 544.3,535.6 545.8,539.5" fill="#00009c" />
<line x1="559.8" y1="534.7" x2="551.4" y2="537.4" stroke="#00009c" stroke-width="1.4" />
<polygon points="547.0,538.9 550.7,535.5 552.0,539.4" fill="#00009c" />
<line x1="566.1" y1="534.5" x2="557.8" y2="537.5" stroke="#00009c" stroke-width="1.4" />
<polygon points="553.5,539.1 557.1,535.5 558.5,539.5" fill="#00009c" />
<line x1="572.5" y1="534.5" x2="564.2" y2="537.5" stroke="#00009c" stroke-width="1.4" />
<polygon points="559.9,539.1 563.5,535.5 564.9,539.5" fill="#00009c" />
<line x1="578.8" y1="534.5" x2="570.6" y2="537.5" stroke="#00009c" stroke-width="1.4" />
<polygon points="566.3,539.1 569.9,535.5 571.3,539.5" fill="#00009c" />
<line x1="585.2" y1="534.5" x2="577.0" y2="537.5" stroke="#00009c" stroke-width="1.4" />
<polygon points="572.6,539.1 576.2,535.5 577.7,539.5" fill="#00009c" />
<line x1="591.8" y1="535.2" x2="583.3" y2="537.3" stroke="#00009c" stroke-width="1.4" />
<polygon points="578.8,538.4 582.8,535.3 583.8,539.3" fill="#00009c" />
<line x1="598.3" y1="535.6" x2="589.7" y2="537.2" stroke="#00009c" stroke-width="1.4" />
<polygon points="585.1,538.0 589.3,535.1 590.0,539.2" fill="#00009c" />
<line x1="604.8" y1="536.0" x2="596.0" y2="537.1" stroke="#00009c" stroke-width="1.4" />
<polygon points="591.5,537.6 595.8,535.0 596.3,539.1" fill="#00009c" />
<line x1="611.2" y1="536.4" x2="602.4" y2="536.9" stroke="#00009c" stroke-width="1.4" />
<polygon points="597.8,537.2 602.3,534.8 602.5,539.0" fill="#00009c" />
<line x1="617.6" y1="536.8" x2="608.8" y2="536.8" stroke="#00009c" stroke-width="1.4" />
<polygon points="604.2,536.8 608.8,534.7 608.8,538.9" fill="#00009c" />
<line x1="624.0" y1="536.8" x2="615.2" y2="536.8" stroke="#00009c" stroke-width="1.4" />
<polygon points="610.6,536.8 615.2,534.7 615.2,538.9" fill="#00009c" />
<line x1="630.4" y1="536.8" x2="621.6" y2="536.8" stroke="#00009c" stroke-width="1.4" />
<polygon points="617.0,536.8 621.6,534.7 621.6,538.9" fill="#00009c" />
<line x1="636.8" y1="536.8" x2="628.0" y2="536.8" stroke="#00009c" stroke-width="1.4" />
<polygon points="623.4,536.8 628.0,534.7 628.0,538.9" fill="#00009c" />
<line x1="643.2" y1="536.8" x2="634.4" y2="536.8" stroke="#00009c" stroke-width="1.4" />
<polygon points="629.8,536.8 634.4,534.7 634.4,538.9" fill="#00009c" />
<line x1="649.5" y1="536.8" x2="640.7" y2="536.8" stroke="#00009c" stroke-width="1.4" />
<polygon points="636.1,536.8 640.7,534.7 640.7,538.9" fill="#00009c" />
<line x1="655.9" y1="536.8" x2="647.1" y2="536.8" stroke="#00009c" stroke-width="1.4" />
<polygon points="642.5,536.8 647.1,534.7 647.1,538.9" fill="#00009c" />
<line x1="662.3" y1="536.8" x2="653.5" y2="536.8" stroke="#00009c" stroke-width="1.4" />
<polygon points="648.9,536.8 653.5,534.7 653.5,538.9" fill="#00009c" />
<line x1="668.7" y1="536.8" x2="659.9" y2="536.8" stroke="#00009c" stroke-width="1.4" />
<polygon points="655.3,536.8 659.9,534.7 659.9,538.9" fill="#00009c" />
<line x1="675.1" y1="536.8" x2="666.3" y2="536.8" stroke="#00009c" stroke-width="1.4" />
<polygon points="661.7,536.8 666.3,534.7 666.3,538.9" fill="#00009c" />
<line x1="681.5" y1="536.8" x2="672.7" y2="536.8" stroke="#00009c" stroke-width="1.4" />
<polygon points="668.1,536.8 672.7,534.7 672.7,538.9" fill="#00009c" />
<line x1="687.9" y1="536.8" x2="679.1" y2="536.8" stroke="#00009c" stroke-width="1.4" />
<polygon points="674.5,536.8 679.1,534.7 679.1,538.9" fill="#00009c" />
<line x1="694.3" y1="536.8" x2="685.5" y2="536.8" stroke="#00009c" stroke-width="1.4" />
<polygon points="680.9,536.8 685.5,534.7 685.5,538.9" fill="#00009c" />
<line x1="700.7" y1="536.8" x2="691.9" y2="536.8" stroke="#00009c" stroke-width="1.4" />
<polygon points="687.3,536.8 691.9,534.7 691.9,538.9" fill="#00009c" />
<line x1="707.0" y1="536.8" x2="698.2" y2="536.8" stroke="#00009c" stroke-width="1.4" />
<polygon points="693.6,536.8 698.2,534.7 698.2,538.9" fill="#00009c" />
<line x1="713.4" y1="536.8" x2="704.6" y2="536.8" stroke="#00009c" stroke-width="1.4" />
<polygon points="700.0,536.8 704.6,534.7 704.6,538.9" fill="#00009c" />
<line x1="719.8" y1="536.8" x2="711.0" y2="536.8" stroke="#00009c" stroke-width="1.4" />
<polygon points="706.4,536.8 711.0,534.7 711.0,538.9" fill="#00009c" />
<line x1="726.2" y1="536.8" x2="717.4" y2="536.8" stroke="#00009c" stroke-width="1.4" />
<polygon points="712.8,536.8 717.4,534.7 717.4,538.9" fill="#00009c" />
<line x1="732.6" y1="536.8" x2="723.8" y2="536.8" stroke="#00009c" stroke-width="1.4" />
<polygon points="719.2,536.8 723.8,534.7 723.8,538.9" fill="#00009c" />
<line x1="739.0" y1="536.8" x2="730.2" y2="536.8" stroke="#00009c" stroke-width="1.4" />
<polygon points="725.6,536.8 730.2,534.7 730.2,538.9" fill="#00009c" />
<line x1="745.4" y1="536.8" x2="736.6" y2="536.8" stroke="#00009c" stroke-width="1.4" />
<polygon points="732.0,536.8 736.6,534.7 736.6,538.9" fill="#00009c" />
<line x1="751.8" y1="536.8" x2="743.0" y2="536.8" stroke="#00009c" stroke-width="1.4" />
<polygon points="738.4,536.8 743.0,534.7 743.0,538.9" fill="#00009c" />
<line x1="758.2" y1="536.8" x2="749.4" y2="536.8" stroke="#00009c" stroke-width="1.4" />
<polygon points="744.8,536.8 749.4,534.7 749.4,538.9" fill="#00009c" />
<line x1="764.6" y1="536.8" x2="755.8" y2="536.8" stroke="#00009c" stroke-width="1.4" />
<polygon points="751.2,536.8 755.8,534.7 755.8,538.9" fill="#00009c" />
<line x1="771.0" y1="536.8" x2="762.1" y2="536.8" stroke="#00009c" stroke-width="1.4" />
<polygon points="757.5,536.8 762.1,534.7 762.1,538.9" fill="#00009c" />
<line x1="777.3" y1="536.8" x2="768.5" y2="536.8" stroke="#00009c" stroke-width="1.4" />
<polygon points="763.9,536.8 768.5,534.7 768.5,538.9" fill="#00009c" />
<line x1="783.7" y1="536.8" x2="774.9" y2="536.8" stroke="#00009c" stroke-width="1.4" />
<polygon points="770.3,536.8 774.9,534.7 774.9,538.9" fill="#00009c" />
<line x1="790.1" y1="536.8" x2="781.3" y2="536.8" stroke="#00009c" stroke-width="1.4" />
<polygon points="776.7,536.8 781.3,534.7 781.3,538.9" fill="#00009c" />
<line x1="796.5" y1="536.8" x2="787.7" y2="536.8" stroke="#00009c" stroke-width="1.4" />
<polygon points="783.1,536.8 787.7,534.7 787.7,538.9" fill="#00009c" />
<line x1="802.9" y1="536.8" x2="794.1" y2="536.8" stroke="#00009c" stroke-width="1.4" />
<polygon points="789.5,536.8 794.1,534.7 794.1,538.9" fill="#00009c" />
<line x1="809.3" y1="536.8" x2="800.5" y2="536.8" stroke="#00009c" stroke-width="1.4" />
<polygon points="795.9,536.8 800.5,534.7 800.5,538.9" fill="#00009c" />
<line x1="815.7" y1="536.8" x2="806.9" y2="536.8" stroke="#00009c" stroke-width="1.4" />
<polygon points="802.3,536.8 806.9,534.7 806.9,538.9" fill="#00009c" />
<line x1="822.1" y1="536.8" x2="813.3" y2="536.8" stroke="#00009c" stroke-width="1.4" />
<polygon points="808.7,536.8 813.3,534.7 813.3,538.9" fill="#00009c" />
<line x1="828.5" y1="536.8" x2="819.7" y2="536.8" stroke="#00009c" stroke-width="1.4" />
<polygon points="815.1,536.8 819.7,534.7 819.7,538.9" fill="#00009c" />
<line x1="834.9" y1="536.8" x2="826.0" y2="536.8" stroke="#00009c" stroke-width="1.4" />
<polygon points="821.4,536.8 826.0,534.7 826.0,538.9" fill="#00009c" />
<line x1="841.2" y1="536.8" x2="832.4" y2="536.8" stroke="#00009c" stroke-width="1.4" />
<polygon points="827.8,536.8 832.4,534.7 832.4,538.9" fill="#00009c" />
<line x1="847.6" y1="536.8" x2="838.8" y2="536.8" stroke="#00009c" stroke-width="1.4" />
<polygon points="834.2,536.8 838.8,534.7 838.8,538.9" fill="#00009c" />
</g>
<text x="288.3" y="538.8" font-size="12" fill="#00008b" text-anchor="middle" textLength="9.6" lengthAdjust="spacingAndGlyphs" stroke="#00008b" stroke-width="0.22">W</text>
<text x="298.1" y="531.5" font-size="12" fill="#00008b" text-anchor="middle" stroke="#00008b" stroke-width="0.22">N</text>
<text x="297.90000000000003" y="547.3" font-size="12" fill="#00008b" text-anchor="middle" stroke="#00008b" stroke-width="0.22">S</text>
<text x="304.8" y="539.0" font-size="12" fill="#00008b" text-anchor="middle" stroke="#00008b" stroke-width="0.22">E</text>
<text x="888" y="538.8" font-size="12" fill="#00008b" text-anchor="middle" textLength="9.6" lengthAdjust="spacingAndGlyphs" stroke="#00008b" stroke-width="0.22">W</text>
<text x="897.8" y="531.5" font-size="12" fill="#00008b" text-anchor="middle" stroke="#00008b" stroke-width="0.22">N</text>
<text x="897.6" y="547.3" font-size="12" fill="#00008b" text-anchor="middle" stroke="#00008b" stroke-width="0.22">S</text>
<text x="904.5" y="539.0" font-size="12" fill="#00008b" text-anchor="middle" stroke="#00008b" stroke-width="0.22">E</text>
<rect x="348.5" y="557.5" width="493.0" height="78.70000000000005" fill="#88d7ff" class="c"/>
<rect x="362.2" y="557.5" width="97.7" height="78.70000000000005" fill="#80c3ee" class="c"/>
<rect x="515.8" y="557.5" width="97.7" height="78.70000000000005" fill="#80c3ee" class="c"/>
<rect x="669.4" y="557.5" width="97.7" height="78.70000000000005" fill="#80c3ee" class="c"/>
<rect x="823.0" y="557.5" width="18.5" height="78.70000000000005" fill="#80c3ee" class="c"/>
<clipPath id="rc6"><rect x="348.5" y="557.5" width="493.0" height="78.70000000000005"/></clipPath>
<line x1="349.5" y1="557.5" x2="349.5" y2="636.2" stroke="#000" stroke-width="1" class="g"/>
<line x1="361.5" y1="557.5" x2="361.5" y2="636.2" stroke="#000" stroke-width="1" class="g"/>
<line x1="380.5" y1="557.5" x2="380.5" y2="636.2" stroke="#000" stroke-width="1" class="g"/>
<line x1="400.5" y1="557.5" x2="400.5" y2="636.2" stroke="#000" stroke-width="1" class="g"/>
<line x1="419.5" y1="557.5" x2="419.5" y2="636.2" stroke="#000" stroke-width="1" class="g"/>
<line x1="438.5" y1="557.5" x2="438.5" y2="636.2" stroke="#000" stroke-width="1" class="g"/>
<line x1="457.5" y1="557.5" x2="457.5" y2="636.2" stroke="#000" stroke-width="1" class="g"/>
<line x1="476.5" y1="557.5" x2="476.5" y2="636.2" stroke="#000" stroke-width="1" class="g"/>
<line x1="495.5" y1="557.5" x2="495.5" y2="636.2" stroke="#000" stroke-width="1" class="g"/>
<line x1="515.5" y1="557.5" x2="515.5" y2="636.2" stroke="#000" stroke-width="1" class="g"/>
<line x1="534.5" y1="557.5" x2="534.5" y2="636.2" stroke="#000" stroke-width="1" class="g"/>
<line x1="553.5" y1="557.5" x2="553.5" y2="636.2" stroke="#000" stroke-width="1" class="g"/>
<line x1="572.5" y1="557.5" x2="572.5" y2="636.2" stroke="#000" stroke-width="1" class="g"/>
<line x1="591.5" y1="557.5" x2="591.5" y2="636.2" stroke="#000" stroke-width="1" class="g"/>
<line x1="610.5" y1="557.5" x2="610.5" y2="636.2" stroke="#000" stroke-width="1" class="g"/>
<line x1="630.5" y1="557.5" x2="630.5" y2="636.2" stroke="#000" stroke-width="1" class="g"/>
<line x1="649.5" y1="557.5" x2="649.5" y2="636.2" stroke="#000" stroke-width="1" class="g"/>
<line x1="668.5" y1="557.5" x2="668.5" y2="636.2" stroke="#000" stroke-width="1" class="g"/>
<line x1="687.5" y1="557.5" x2="687.5" y2="636.2" stroke="#000" stroke-width="1" class="g"/>
<line x1="706.5" y1="557.5" x2="706.5" y2="636.2" stroke="#000" stroke-width="1" class="g"/>
<line x1="725.5" y1="557.5" x2="725.5" y2="636.2" stroke="#000" stroke-width="1" class="g"/>
<line x1="745.5" y1="557.5" x2="745.5" y2="636.2" stroke="#000" stroke-width="1" class="g"/>
<line x1="764.5" y1="557.5" x2="764.5" y2="636.2" stroke="#000" stroke-width="1" class="g"/>
<line x1="783.5" y1="557.5" x2="783.5" y2="636.2" stroke="#000" stroke-width="1" class="g"/>
<line x1="802.5" y1="557.5" x2="802.5" y2="636.2" stroke="#000" stroke-width="1" class="g"/>
<line x1="821.5" y1="557.5" x2="821.5" y2="636.2" stroke="#000" stroke-width="1" class="g"/>
<line x1="348.5" y1="558.3" x2="841.5" y2="558.3" stroke="#000" stroke-width="1" class="g"/>
<line x1="348.5" y1="577.7" x2="841.5" y2="577.7" stroke="#000" stroke-width="1" class="g"/>
<line x1="348.5" y1="597" x2="841.5" y2="597" stroke="#000" stroke-width="1" class="g"/>
<line x1="348.5" y1="616.6" x2="841.5" y2="616.6" stroke="#000" stroke-width="1" class="g"/>
<rect x="348.5" y="557.5" width="493.0" height="78.70000000000005" class="f"/>
<g clip-path="url(#rc6)">
<circle cx="393.3" cy="630.7" r="2.6" fill="#ccc"/>
<circle cx="399.7" cy="630.7" r="2.6" fill="#999"/>
<circle cx="406.1" cy="629.7" r="2.6" fill="#666"/>
<circle cx="412.5" cy="630.7" r="2.6" fill="#999"/>
<circle cx="418.9" cy="630.7" r="2.6" fill="#aaa"/>
<circle cx="425.3" cy="630.7" r="2.6" fill="#999"/>
<circle cx="431.7" cy="630.7" r="2.6" fill="#aaa"/>
<circle cx="438.1" cy="630.7" r="2.6" fill="#aaa"/>
<circle cx="444.5" cy="630.7" r="2.6" fill="#ccc"/>
<circle cx="450.8" cy="630.7" r="2.6" fill="#999"/>
<circle cx="457.2" cy="630.7" r="2.6" fill="#aaa"/>
<circle cx="463.6" cy="630.7" r="2.6" fill="#999"/>
<circle cx="470.0" cy="630.7" r="2.6" fill="#aaa"/>
<circle cx="476.4" cy="630.7" r="2.6" fill="#aaa"/>
<circle cx="482.8" cy="630.7" r="2.6" fill="#999"/>
<circle cx="489.2" cy="630.7" r="2.6" fill="#aaa"/>
<circle cx="495.6" cy="630.7" r="2.6" fill="#999"/>
<circle cx="502.0" cy="630.7" r="2.6" fill="#aaa"/>
<circle cx="508.4" cy="630.7" r="2.6" fill="#999"/>
<circle cx="514.7" cy="630.7" r="2.6" fill="#ccc"/>
<circle cx="521.1" cy="630.7" r="2.6" fill="#999"/>
<circle cx="527.5" cy="630.7" r="2.6" fill="#aaa"/>
<circle cx="533.9" cy="630.7" r="2.6" fill="#999"/>
<circle cx="540.3" cy="630.7" r="2.6" fill="#666"/>
<circle cx="546.7" cy="630.7" r="2.6" fill="#999"/>
<circle cx="553.1" cy="630.7" r="2.6" fill="#666"/>
<circle cx="559.5" cy="630.7" r="2.6" fill="#999"/>
<circle cx="565.9" cy="630.7" r="2.6" fill="#ccc"/>
<circle cx="572.2" cy="630.7" r="2.6" fill="#ddd"/>
<circle cx="578.6" cy="630.7" r="2.6" fill="#999"/>
<circle cx="585.0" cy="630.7" r="2.6" fill="#ccc"/>
<circle cx="668.1" cy="630.7" r="2.6" fill="#ccc"/>
<circle cx="674.5" cy="630.7" r="2.6" fill="#999"/>
<circle cx="680.9" cy="630.7" r="2.6" fill="#aaa"/>
<circle cx="687.3" cy="630.7" r="2.6" fill="#999"/>
<circle cx="693.7" cy="630.7" r="2.6" fill="#aaa"/>
<circle cx="700.0" cy="630.7" r="2.6" fill="#999"/>
<circle cx="706.4" cy="630.7" r="2.6" fill="#888"/>
<circle cx="712.8" cy="630.7" r="2.6" fill="#666"/>
<circle cx="719.2" cy="630.7" r="2.6" fill="#999"/>
<circle cx="725.6" cy="630.7" r="2.6" fill="#999"/>
<circle cx="348.6" cy="630.3" r="2.6" fill="#ffffff"/>
<circle cx="355.0" cy="630.3" r="2.6" fill="#ffffff"/>
<circle cx="361.4" cy="630.3" r="2.6" fill="#ffffff"/>
<circle cx="367.8" cy="630.3" r="2.6" fill="#ffffff"/>
<circle cx="374.2" cy="630.3" r="2.6" fill="#ffffff"/>
<circle cx="380.6" cy="630.3" r="2.6" fill="#ffffff"/>
<circle cx="386.9" cy="630.3" r="2.6" fill="#ffffff"/>
<circle cx="591.4" cy="630.7" r="2.6" fill="#ffffff"/>
<circle cx="597.8" cy="630.7" r="2.6" fill="#ffffff"/>
<circle cx="604.2" cy="630.7" r="2.6" fill="#ffffff"/>
<circle cx="610.6" cy="630.7" r="2.6" fill="#ffffff"/>
<circle cx="617.0" cy="630.7" r="2.6" fill="#ffffff"/>
<circle cx="623.4" cy="630.7" r="2.6" fill="#ffffff"/>
<circle cx="629.8" cy="630.7" r="2.6" fill="#ffffff"/>
<circle cx="636.2" cy="630.7" r="2.6" fill="#ffffff"/>
<circle cx="642.5" cy="630.7" r="2.6" fill="#ffffff"/>
<circle cx="648.9" cy="630.7" r="2.6" fill="#ffffff"/>
<circle cx="655.3" cy="630.7" r="2.6" fill="#ffffff"/>
<circle cx="661.7" cy="630.7" r="2.6" fill="#ffffff"/>
<circle cx="732.0" cy="630.7" r="2.6" fill="#ffffff"/>
<circle cx="738.4" cy="630.7" r="2.6" fill="#ffffff"/>
<circle cx="744.8" cy="630.7" r="2.6" fill="#ffffff"/>
<circle cx="348.6" cy="628.0" r="2.6" fill="#cfcdc8"/>
<circle cx="355.0" cy="628.4" r="2.6" fill="#cfcdc8"/>
<circle cx="361.4" cy="629.4" r="2.6" fill="#cfcdc8"/>
<circle cx="367.8" cy="628.6" r="2.6" fill="#cfcdc8"/>
<circle cx="374.2" cy="625.2" r="2.6" fill="#cfcdc8"/>
<circle cx="380.6" cy="624.9" r="2.6" fill="#cfcdc8"/>
<circle cx="386.9" cy="624.9" r="2.6" fill="#cfcdc8"/>
<circle cx="591.4" cy="620.4" r="2.6" fill="#cfcdc8"/>
<circle cx="597.8" cy="621.3" r="2.6" fill="#cfcdc8"/>
<circle cx="604.2" cy="621.3" r="2.6" fill="#cfcdc8"/>
<circle cx="610.6" cy="620.4" r="2.6" fill="#cfcdc8"/>
<circle cx="617.0" cy="620.4" r="2.6" fill="#cfcdc8"/>
<circle cx="623.4" cy="620.4" r="2.6" fill="#cfcdc8"/>
<circle cx="732.0" cy="621.3" r="2.6" fill="#cfcdc8"/>
<circle cx="348.6" cy="625.4" r="2.6" fill="#999999"/>
<circle cx="355.0" cy="625.8" r="2.6" fill="#999999"/>
<circle cx="361.4" cy="626.7" r="2.6" fill="#999999"/>
<circle cx="367.8" cy="626.0" r="2.6" fill="#999999"/>
<circle cx="374.2" cy="622.6" r="2.6" fill="#999999"/>
<circle cx="380.6" cy="622.3" r="2.6" fill="#999999"/>
<circle cx="386.9" cy="622.3" r="2.6" fill="#999999"/>
<circle cx="444.5" cy="619.4" r="2.6" fill="#999999"/>
<circle cx="565.9" cy="619.4" r="2.6" fill="#999999"/>
<circle cx="585.0" cy="616.6" r="2.6" fill="#999999"/>
<circle cx="629.8" cy="615.2" r="2.6" fill="#999999"/>
<circle cx="738.4" cy="620.4" r="2.6" fill="#999999"/>
<circle cx="348.6" cy="622.6" r="2.6" fill="#555555"/>
<circle cx="355.0" cy="623.0" r="2.6" fill="#555555"/>
<circle cx="361.4" cy="623.9" r="2.6" fill="#555555"/>
<circle cx="367.8" cy="623.2" r="2.6" fill="#555555"/>
<circle cx="374.2" cy="619.8" r="2.6" fill="#555555"/>
<circle cx="380.6" cy="619.4" r="2.6" fill="#555555"/>
<circle cx="386.9" cy="619.4" r="2.6" fill="#555555"/>
<circle cx="412.5" cy="620.4" r="2.6" fill="#555555"/>
<circle cx="450.8" cy="621.3" r="2.6" fill="#555555"/>
<circle cx="470.0" cy="618.5" r="2.6" fill="#555555"/>
<circle cx="514.7" cy="618.9" r="2.6" fill="#555555"/>
<circle cx="521.1" cy="623.0" r="2.6" fill="#555555"/>
<circle cx="527.5" cy="623.0" r="2.6" fill="#555555"/>
<circle cx="533.9" cy="623.0" r="2.6" fill="#555555"/>
<circle cx="565.9" cy="612.0" r="2.6" fill="#555555"/>
<circle cx="578.6" cy="616.3" r="2.6" fill="#555555"/>
<circle cx="636.2" cy="615.2" r="2.6" fill="#555555"/>
<circle cx="642.5" cy="614.8" r="2.6" fill="#555555"/>
<circle cx="648.9" cy="614.8" r="2.6" fill="#555555"/>
<circle cx="738.4" cy="617.6" r="2.6" fill="#555555"/>
<circle cx="348.6" cy="583.0" r="2.6" fill="#b22222"/>
<circle cx="355.0" cy="583.0" r="2.6" fill="#b22222"/>
<circle cx="361.4" cy="583.0" r="2.6" fill="#b22222"/>
<circle cx="367.8" cy="602.3" r="2.6" fill="#b22222"/>
<circle cx="374.2" cy="603.9" r="2.6" fill="#b22222"/>
<circle cx="380.6" cy="602.3" r="2.6" fill="#b22222"/>
<circle cx="386.9" cy="602.3" r="2.6" fill="#b22222"/>
<circle cx="393.3" cy="602.3" r="2.6" fill="#b22222"/>
<circle cx="399.7" cy="602.3" r="2.6" fill="#b22222"/>
<circle cx="406.1" cy="602.3" r="2.6" fill="#b22222"/>
<circle cx="412.5" cy="602.3" r="2.6" fill="#b22222"/>
<circle cx="418.9" cy="602.3" r="2.6" fill="#b22222"/>
<circle cx="425.3" cy="602.3" r="2.6" fill="#b22222"/>
<circle cx="431.7" cy="602.3" r="2.6" fill="#b22222"/>
<circle cx="438.1" cy="602.3" r="2.6" fill="#b22222"/>
<circle cx="444.5" cy="602.3" r="2.6" fill="#b22222"/>
<circle cx="450.8" cy="602.3" r="2.6" fill="#b22222"/>
<circle cx="457.2" cy="601.1" r="2.6" fill="#b22222"/>
<circle cx="463.6" cy="600.2" r="2.6" fill="#b22222"/>
<circle cx="470.0" cy="600.2" r="2.6" fill="#b22222"/>
<circle cx="476.4" cy="599.3" r="2.6" fill="#b22222"/>
<circle cx="482.8" cy="599.3" r="2.6" fill="#b22222"/>
<circle cx="489.2" cy="599.3" r="2.6" fill="#b22222"/>
<circle cx="495.6" cy="599.3" r="2.6" fill="#b22222"/>
<circle cx="502.0" cy="599.3" r="2.6" fill="#b22222"/>
<circle cx="508.4" cy="599.3" r="2.6" fill="#b22222"/>
<circle cx="514.7" cy="599.8" r="2.6" fill="#b22222"/>
<circle cx="521.1" cy="599.8" r="2.6" fill="#b22222"/>
<circle cx="527.5" cy="599.8" r="2.6" fill="#b22222"/>
<circle cx="533.9" cy="599.8" r="2.6" fill="#b22222"/>
<circle cx="540.3" cy="599.8" r="2.6" fill="#b22222"/>
<circle cx="546.7" cy="599.8" r="2.6" fill="#b22222"/>
<circle cx="553.1" cy="599.8" r="2.6" fill="#b22222"/>
<circle cx="559.5" cy="599.8" r="2.6" fill="#b22222"/>
<circle cx="565.9" cy="599.8" r="2.6" fill="#b22222"/>
<circle cx="572.2" cy="599.8" r="2.6" fill="#b22222"/>
<circle cx="578.6" cy="601.7" r="2.6" fill="#b22222"/>
<circle cx="585.0" cy="601.7" r="2.6" fill="#b22222"/>
<circle cx="591.4" cy="601.7" r="2.6" fill="#b22222"/>
<circle cx="597.8" cy="603.9" r="2.6" fill="#b22222"/>
<circle cx="604.2" cy="604.5" r="2.6" fill="#b22222"/>
<circle cx="610.6" cy="605.4" r="2.6" fill="#b22222"/>
<circle cx="617.0" cy="603.9" r="2.6" fill="#b22222"/>
<circle cx="623.4" cy="605.4" r="2.6" fill="#b22222"/>
<circle cx="629.8" cy="605.1" r="2.6" fill="#b22222"/>
<circle cx="636.2" cy="603.9" r="2.6" fill="#b22222"/>
<circle cx="642.5" cy="603.9" r="2.6" fill="#b22222"/>
<circle cx="648.9" cy="603.9" r="2.6" fill="#b22222"/>
<circle cx="655.3" cy="605.1" r="2.6" fill="#b22222"/>
<circle cx="661.7" cy="605.4" r="2.6" fill="#b22222"/>
<circle cx="668.1" cy="607.3" r="2.6" fill="#b22222"/>
<circle cx="674.5" cy="612.0" r="2.6" fill="#b22222"/>
<circle cx="680.9" cy="611.0" r="2.6" fill="#b22222"/>
<circle cx="687.3" cy="612.0" r="2.6" fill="#b22222"/>
<circle cx="693.7" cy="611.0" r="2.6" fill="#b22222"/>
<circle cx="700.0" cy="612.0" r="2.6" fill="#b22222"/>
<circle cx="706.4" cy="612.0" r="2.6" fill="#b22222"/>
<circle cx="712.8" cy="612.0" r="2.6" fill="#b22222"/>
<circle cx="719.2" cy="612.5" r="2.6" fill="#b22222"/>
<circle cx="725.6" cy="613.3" r="2.6" fill="#b22222"/>
<circle cx="732.0" cy="612.5" r="2.6" fill="#b22222"/>
<circle cx="738.4" cy="614.8" r="2.6" fill="#b22222"/>
<circle cx="744.8" cy="618.0" r="2.6" fill="#b22222"/>
<circle cx="348.6" cy="619.4" r="2.6" fill="#000000"/>
<circle cx="355.0" cy="619.8" r="2.6" fill="#000000"/>
<circle cx="361.4" cy="620.8" r="2.6" fill="#000000"/>
<circle cx="367.8" cy="620.0" r="2.6" fill="#000000"/>
<circle cx="374.2" cy="616.6" r="2.6" fill="#000000"/>
<circle cx="380.6" cy="616.3" r="2.6" fill="#000000"/>
<circle cx="386.9" cy="616.3" r="2.6" fill="#000000"/>
<circle cx="393.3" cy="621.7" r="2.6" fill="#000000"/>
<circle cx="399.7" cy="621.7" r="2.6" fill="#000000"/>
<circle cx="406.1" cy="620.8" r="2.6" fill="#000000"/>
<circle cx="412.5" cy="616.3" r="2.6" fill="#000000"/>
<circle cx="418.9" cy="619.4" r="2.6" fill="#000000"/>
<circle cx="425.3" cy="615.2" r="2.6" fill="#000000"/>
<circle cx="431.7" cy="614.8" r="2.6" fill="#000000"/>
<circle cx="438.1" cy="615.2" r="2.6" fill="#000000"/>
<circle cx="444.5" cy="614.8" r="2.6" fill="#000000"/>
<circle cx="450.8" cy="614.8" r="2.6" fill="#000000"/>
<circle cx="457.2" cy="614.8" r="2.6" fill="#000000"/>
<circle cx="463.6" cy="614.0" r="2.6" fill="#000000"/>
<circle cx="470.0" cy="614.0" r="2.6" fill="#000000"/>
<circle cx="476.4" cy="619.8" r="2.6" fill="#000000"/>
<circle cx="482.8" cy="619.8" r="2.6" fill="#000000"/>
<circle cx="489.2" cy="619.4" r="2.6" fill="#000000"/>
<circle cx="495.6" cy="619.4" r="2.6" fill="#000000"/>
<circle cx="502.0" cy="619.8" r="2.6" fill="#000000"/>
<circle cx="508.4" cy="619.8" r="2.6" fill="#000000"/>
<circle cx="514.7" cy="616.6" r="2.6" fill="#000000"/>
<circle cx="521.1" cy="620.8" r="2.6" fill="#000000"/>
<circle cx="527.5" cy="620.8" r="2.6" fill="#000000"/>
<circle cx="533.9" cy="620.8" r="2.6" fill="#000000"/>
<circle cx="540.3" cy="625.4" r="2.6" fill="#000000"/>
<circle cx="546.7" cy="619.4" r="2.6" fill="#000000"/>
<circle cx="553.1" cy="619.4" r="2.6" fill="#000000"/>
<circle cx="559.5" cy="612.0" r="2.6" fill="#000000"/>
<circle cx="565.9" cy="605.1" r="2.6" fill="#000000"/>
<circle cx="572.2" cy="606.4" r="2.6" fill="#000000"/>
<circle cx="578.6" cy="605.1" r="2.6" fill="#000000"/>
<circle cx="585.0" cy="605.1" r="2.6" fill="#000000"/>
<circle cx="591.4" cy="605.1" r="2.6" fill="#000000"/>
<circle cx="597.8" cy="615.2" r="2.6" fill="#000000"/>
<circle cx="604.2" cy="606.4" r="2.6" fill="#000000"/>
<circle cx="610.6" cy="615.2" r="2.6" fill="#000000"/>
<circle cx="617.0" cy="615.9" r="2.6" fill="#000000"/>
<circle cx="623.4" cy="615.2" r="2.6" fill="#000000"/>
<circle cx="642.5" cy="606.4" r="2.6" fill="#000000"/>
<circle cx="655.3" cy="614.8" r="2.6" fill="#000000"/>
<circle cx="661.7" cy="614.8" r="2.6" fill="#000000"/>
<circle cx="668.1" cy="614.8" r="2.6" fill="#000000"/>
<circle cx="674.5" cy="614.8" r="2.6" fill="#000000"/>
<circle cx="680.9" cy="615.2" r="2.6" fill="#000000"/>
<circle cx="687.3" cy="615.7" r="2.6" fill="#000000"/>
<circle cx="693.7" cy="616.6" r="2.6" fill="#000000"/>
<circle cx="700.0" cy="617.2" r="2.6" fill="#000000"/>
<circle cx="706.4" cy="617.2" r="2.6" fill="#000000"/>
<circle cx="712.8" cy="616.6" r="2.6" fill="#000000"/>
<circle cx="719.2" cy="617.2" r="2.6" fill="#000000"/>
<circle cx="725.6" cy="620.0" r="2.6" fill="#000000"/>
<circle cx="732.0" cy="615.7" r="2.6" fill="#000000"/>
<polyline points="348.7,586.8 355.3,574.6 361.6,575.2 380.5,573.1 387.6,572.7 394.0,593.3 400.1,599.8 406.3,607.3 412.6,601.7 419.2,605.1 425.5,599.8 431.9,596.5 438.2,598.3 444.8,595.2 451.1,602.6 457.5,597.6 470.2,597.0 476.7,599.8 483.0,598.3 489.4,597.0 495.8,598.9 502.1,605.8 508.7,600.8 514.7,596.1 521.0,604.0 527.6,603.2 533.9,606.4 540.3,613.8 546.6,604.0 553.0,606.4 559.5,599.8 565.9,592.4 572.2,593.9 578.6,594.6 585.1,584.9 591.4,581.2 597.8,578.9 604.2,575.9 610.5,576.5 617.0,584.5 623.4,577.8 629.7,572.7 636.1,573.3 649.0,573.3 661.7,573.1 668.0,584.9 674.4,592.4 680.8,597.0 687.3,599.8 693.7,598.9 706.4,598.9 712.9,604.5 719.3,596.1 725.6,595.7 732.0,578.4 738.5,574.2 744.9,573.7 764.7,572.8 783.4,572.4 802.0,572.8 820.7,573.7 841.3,574.1" fill="none" stroke="#ff8c00" stroke-width="2" stroke-linejoin="round"/>
</g>
<text x="344" y="562.4" font-size="12" fill="#000" text-anchor="end" stroke="#000" stroke-width="0.22">15.0</text>
<text x="845" y="562.4" font-size="12" fill="#ff8c00" stroke="#ff8c00" stroke-width="0.22">100</text>
<text x="344" y="581.8000000000001" font-size="12" fill="#000" text-anchor="end" stroke="#000" stroke-width="0.22">7.0</text>
<text x="845" y="581.8000000000001" font-size="12" fill="#ff8c00" stroke="#ff8c00" stroke-width="0.22">20</text>
<text x="344" y="601.1" font-size="12" fill="#000" text-anchor="end" stroke="#000" stroke-width="0.22">2.0</text>
<text x="845" y="601.1" font-size="12" fill="#ff8c00" stroke="#ff8c00" stroke-width="0.22">5</text>
<text x="344" y="620.7" font-size="12" fill="#000" text-anchor="end" stroke="#000" stroke-width="0.22">0.5</text>
<text x="845" y="620.7" font-size="12" fill="#ff8c00" stroke="#ff8c00" stroke-width="0.22">1</text>
<text x="344" y="640.1" font-size="12" fill="#000" text-anchor="end" stroke="#000" stroke-width="0.22">0.0</text>
<text x="845" y="640.1" font-size="12" fill="#ff8c00" stroke="#ff8c00" stroke-width="0.22">0</text>
<rect x="348.5" y="645.5" width="493.0" height="19.5" fill="#88d7ff" class="c"/>
<rect x="362.2" y="645.5" width="97.7" height="19.5" fill="#80c3ee" class="c"/>
<rect x="515.8" y="645.5" width="97.7" height="19.5" fill="#80c3ee" class="c"/>
<rect x="669.4" y="645.5" width="97.7" height="19.5" fill="#80c3ee" class="c"/>
<rect x="823.0" y="645.5" width="18.5" height="19.5" fill="#80c3ee" class="c"/>
<clipPath id="rc7"><rect x="348.5" y="645.5" width="493" height="20"/></clipPath><g clip-path="url(#rc7)">
<polygon points="348.5,648.0 352.0,646.2 355.6,647.5 360.0,646.0 376.0,646.0 382.0,648.2 388.0,646.0 565.5,646.0 572.4,649.0 584.3,650.3 591.0,654.7 599.6,652.0 606.4,657.0 613.3,659.0 618.4,662.0 618.0,670.0 348.5,670.0" fill="#555" />
<polygon points="664.0,670.0 666.0,660.0 671.2,648.0 683.0,646.2 725.7,646.2 732.5,660.0 736.0,670.0" fill="#555" />
</g>
<line x1="349.5" y1="645.5" x2="349.5" y2="660" stroke="#000" stroke-width="1" class="g"/>
<line x1="361.5" y1="645.5" x2="361.5" y2="660" stroke="#000" stroke-width="1" class="g"/>
<line x1="380.5" y1="645.5" x2="380.5" y2="660" stroke="#000" stroke-width="1" class="g"/>
<line x1="400.5" y1="645.5" x2="400.5" y2="660" stroke="#000" stroke-width="1" class="g"/>
<line x1="419.5" y1="645.5" x2="419.5" y2="660" stroke="#000" stroke-width="1" class="g"/>
<line x1="438.5" y1="645.5" x2="438.5" y2="660" stroke="#000" stroke-width="1" class="g"/>
<line x1="457.5" y1="645.5" x2="457.5" y2="660" stroke="#000" stroke-width="1" class="g"/>
<line x1="476.5" y1="645.5" x2="476.5" y2="660" stroke="#000" stroke-width="1" class="g"/>
<line x1="495.5" y1="645.5" x2="495.5" y2="660" stroke="#000" stroke-width="1" class="g"/>
<line x1="515.5" y1="645.5" x2="515.5" y2="660" stroke="#000" stroke-width="1" class="g"/>
<line x1="534.5" y1="645.5" x2="534.5" y2="660" stroke="#000" stroke-width="1" class="g"/>
<line x1="553.5" y1="645.5" x2="553.5" y2="660" stroke="#000" stroke-width="1" class="g"/>
<line x1="572.5" y1="645.5" x2="572.5" y2="660" stroke="#000" stroke-width="1" class="g"/>
<line x1="591.5" y1="645.5" x2="591.5" y2="660" stroke="#000" stroke-width="1" class="g"/>
<line x1="610.5" y1="645.5" x2="610.5" y2="660" stroke="#000" stroke-width="1" class="g"/>
<line x1="630.5" y1="645.5" x2="630.5" y2="660" stroke="#000" stroke-width="1" class="g"/>
<line x1="649.5" y1="645.5" x2="649.5" y2="660" stroke="#000" stroke-width="1" class="g"/>
<line x1="668.5" y1="645.5" x2="668.5" y2="660" stroke="#000" stroke-width="1" class="g"/>
<line x1="687.5" y1="645.5" x2="687.5" y2="660" stroke="#000" stroke-width="1" class="g"/>
<line x1="706.5" y1="645.5" x2="706.5" y2="660" stroke="#000" stroke-width="1" class="g"/>
<line x1="725.5" y1="645.5" x2="725.5" y2="660" stroke="#000" stroke-width="1" class="g"/>
<line x1="745.5" y1="645.5" x2="745.5" y2="660" stroke="#000" stroke-width="1" class="g"/>
<line x1="764.5" y1="645.5" x2="764.5" y2="660" stroke="#000" stroke-width="1" class="g"/>
<line x1="783.5" y1="645.5" x2="783.5" y2="660" stroke="#000" stroke-width="1" class="g"/>
<line x1="802.5" y1="645.5" x2="802.5" y2="660" stroke="#000" stroke-width="1" class="g"/>
<line x1="821.5" y1="645.5" x2="821.5" y2="660" stroke="#000" stroke-width="1" class="g"/>
<rect x="348.5" y="645.5" width="493.0" height="19.5" class="f"/>
<text x="344" y="650.5" font-size="12" fill="#000" text-anchor="end" stroke="#000" stroke-width="0.22">8</text>
<text x="846" y="650.3" font-size="12" fill="#ff8c00" stroke="#ff8c00" stroke-width="0.22">1</text>
<text transform="translate(293,216.5) rotate(-90)" font-size="12" fill="#00008b" stroke="#00008b" stroke-width="0.22" text-anchor="middle" textLength="67.5" lengthAdjust="spacingAndGlyphs">temperatura</text>
<text transform="translate(306,216.5) rotate(-90)" font-size="12" fill="#00008b" stroke="#00008b" stroke-width="0.22" text-anchor="middle">(°C)</text>
<text transform="translate(891.5,216.5) rotate(-90)" font-size="12" fill="#00008b" stroke="#00008b" stroke-width="0.22" text-anchor="middle">(°C)</text>
<text transform="translate(905,216.8) rotate(-90)" font-size="12" fill="#00008b" stroke="#00008b" stroke-width="0.22" text-anchor="middle" textLength="67" lengthAdjust="spacingAndGlyphs">temperatura</text>
<text transform="translate(293,304.8) rotate(-90)" font-size="12" fill="#00008b" stroke="#00008b" stroke-width="0.22" text-anchor="middle">opad</text>
<text transform="translate(306,305.4) rotate(-90)" font-size="12" fill="#00008b" stroke="#00008b" stroke-width="0.22" text-anchor="middle" textLength="85.6" lengthAdjust="spacingAndGlyphs">(mm/h, kg/m²/h)</text>
<text transform="translate(891.5,306.6) rotate(-90)" font-size="12" fill="#00008b" stroke="#00008b" stroke-width="0.22" text-anchor="middle">(%)</text>
<text transform="translate(905,306) rotate(-90)" font-size="12" fill="#00008b" stroke="#00008b" stroke-width="0.22" text-anchor="middle" textLength="90" lengthAdjust="spacingAndGlyphs">wilgotność wzgl.</text>
<text transform="translate(293,393) rotate(-90)" font-size="12" fill="#00008b" stroke="#00008b" stroke-width="0.22" text-anchor="middle" textLength="48" lengthAdjust="spacingAndGlyphs">ciśnienie</text>
<text transform="translate(306,393) rotate(-90)" font-size="12" fill="#00008b" stroke="#00008b" stroke-width="0.22" text-anchor="middle">(hPa)</text>
<text transform="translate(891.5,394.5) rotate(-90)" font-size="12" fill="#00008b" stroke="#00008b" stroke-width="0.22" text-anchor="middle" textLength="47" lengthAdjust="spacingAndGlyphs">(mm Hg)</text>
<text transform="translate(905,393.6) rotate(-90)" font-size="12" fill="#00008b" stroke="#00008b" stroke-width="0.22" text-anchor="middle" textLength="48" lengthAdjust="spacingAndGlyphs">ciśnienie</text>
<text transform="translate(293,481.3) rotate(-90)" font-size="12" fill="#00008b" stroke="#00008b" stroke-width="0.22" text-anchor="middle">wiatr</text>
<text transform="translate(306,481) rotate(-90)" font-size="12" fill="#00008b" stroke="#00008b" stroke-width="0.22" text-anchor="middle">(m/s)</text>
<text transform="translate(891.5,481.5) rotate(-90)" font-size="12" fill="#00008b" stroke="#00008b" stroke-width="0.22" text-anchor="middle">(km/h)</text>
<text transform="translate(905,482) rotate(-90)" font-size="12" fill="#00008b" stroke="#00008b" stroke-width="0.22" text-anchor="middle">wiatr</text>
<text transform="translate(293,594.9) rotate(-90)" font-size="12" fill="#00008b" stroke="#00008b" stroke-width="0.22" text-anchor="middle" textLength="103.6" lengthAdjust="spacingAndGlyphs">pion. rozciągł. chm.</text>
<text transform="translate(306,594.5) rotate(-90)" font-size="12" fill="#00008b" stroke="#00008b" stroke-width="0.22" text-anchor="middle">(km)</text>
<text transform="translate(891.5,594.5) rotate(-90)" font-size="12" fill="#00008b" stroke="#00008b" stroke-width="0.22" text-anchor="middle">(km)</text>
<text transform="translate(905,594.9) rotate(-90)" font-size="12" fill="#00008b" stroke="#00008b" stroke-width="0.22" text-anchor="middle" textLength="64" lengthAdjust="spacingAndGlyphs">widzialność</text>
<text transform="translate(293,652.3) rotate(-90)" font-size="12" fill="#00008b" text-anchor="end">zachmurzenie</text>
</g>
<g id="banner">
<defs>
<linearGradient id="bg1" x1="0" y1="0" x2="1" y2="0">
<stop offset="0" stop-color="#0f4fa4"/><stop offset="0.36" stop-color="#1152a8"/><stop offset="0.56" stop-color="#2765b8"/><stop offset="0.72" stop-color="#2665b8"/><stop offset="0.88" stop-color="#1d5bb0"/><stop offset="1" stop-color="#1a57ac"/>
</linearGradient>
<radialGradient id="bg2" cx="0.5" cy="0.5" r="0.5"><stop offset="0" stop-color="#4c88d0" stop-opacity="0.5"/><stop offset="1" stop-color="#4c88d0" stop-opacity="0"/></radialGradient>
<radialGradient id="bg3" cx="0.5" cy="0.5" r="0.5"><stop offset="0" stop-color="#0c4496" stop-opacity="0.45"/><stop offset="1" stop-color="#0c4496" stop-opacity="0"/></radialGradient>
<linearGradient id="scr1" x1="0" y1="0" x2="0" y2="1"><stop offset="0" stop-color="#0c2246"/><stop offset="0.42" stop-color="#0e2750"/><stop offset="0.44" stop-color="#0a0e15"/><stop offset="1" stop-color="#0a0e15"/></linearGradient>
<linearGradient id="pg" x1="0" y1="0" x2="1" y2="0"><stop offset="0" stop-color="#d8e820"/><stop offset="0.45" stop-color="#70d030"/><stop offset="0.75" stop-color="#c8e820"/><stop offset="1" stop-color="#ffd000"/></linearGradient>
<clipPath id="bclip"><rect x="280" y="0" width="630" height="120"/></clipPath>
</defs>
<rect x="280" y="0" width="630" height="120" fill="url(#bg1)" />
<g clip-path="url(#bclip)">
<ellipse cx="745" cy="25" rx="140" ry="85" fill="url(#bg2)"/>
<ellipse cx="640" cy="10" rx="80" ry="60" fill="url(#bg2)" opacity="0.6"/>
<ellipse cx="880" cy="130" rx="140" ry="70" fill="url(#bg3)"/>
<ellipse cx="420" cy="130" rx="200" ry="60" fill="url(#bg3)" opacity="0.5"/>
<text x="311.5" y="39.5" font-size="19.5" fill="#ffffff" textLength="157.5" lengthAdjust="spacingAndGlyphs">Oficjalna aplikacja</text>
<text x="311.5" y="67.6" font-size="19.5" fill="#ffffff" textLength="210.5" lengthAdjust="spacingAndGlyphs"><tspan font-weight="bold">Meteo ICM</tspan> do pobrania</text>
<text x="311.5" y="95.8" font-size="19.5" fill="#ffffff" textLength="225.5" lengthAdjust="spacingAndGlyphs">w Google Play i App Store</text>
<rect x="649.3" y="21.3" width="50.7" height="112" rx="7.5" fill="#16171a"/>
<rect x="650" y="22" width="49.3" height="112" rx="7" fill="none" stroke="#6a6c70" stroke-width="0.9"/>
<rect x="697.3" y="30" width="1.8" height="100" fill="#55575c"/>
<rect x="651.8" y="24.2" width="44.4" height="108" rx="5" fill="#30342d"/>
<filter id="mot" x="0" y="0" width="1" height="1"><feTurbulence type="fractalNoise" baseFrequency="0.09" numOctaves="3" seed="4"/><feColorMatrix type="matrix" values="0 0 0 0 0.62  0 0 0 0 0.6  0 0 0 0 0.5  0 0 0 2.2 -1.0"/></filter>
<clipPath id="p3c"><rect x="651.8" y="24.2" width="44.4" height="108" rx="5"/></clipPath><g clip-path="url(#p3c)">
<rect x="651.8" y="24.2" width="44.4" height="108" filter="url(#mot)" opacity="0.5"/>
<path d="M676 58 q8 -3 13 4 l4 10 v18 q-6 0 -9 6 t-5 18 q-6 4 -5 14 h-9 q1 -14 4 -22 t-1 -18 q1 -8 4 -13 t4 -17z" fill="#9a957d" opacity="0.45"/>
<path d="M655 60 q6 8 4 20 t6 24" stroke="#5f7896" stroke-width="0.7" fill="none"/>
<rect x="654.5" y="36.5" width="31.5" height="7" rx="2" fill="#c2c3bd" opacity="0.85"/>
<circle cx="690.5" cy="38.5" r="3" fill="#e6e6e6"/><circle cx="690.5" cy="38.2" r="1.2" fill="#3f443b"/>
<rect x="688.5" y="98" width="5" height="18" fill="#cfcfc6" opacity="0.7"/>
</g>
<rect x="665" y="27" width="16" height="5" rx="2.5" fill="#08090b"/>
<rect x="592" y="6.5" width="52.3" height="128" rx="8.5" fill="#1d1e21"/>
<rect x="592.7" y="7.2" width="50.9" height="127" rx="8" fill="none" stroke="#5a5c61" stroke-width="0.9"/>
<rect x="593.6" y="14" width="2.2" height="120" fill="#4b4d52"/>
<rect x="592.6" y="40" width="0.9" height="9" fill="#6a6c70"/><rect x="592.6" y="52" width="0.9" height="9" fill="#6a6c70"/>
<rect x="597.5" y="9.5" width="45" height="124" rx="6" fill="url(#scr1)"/>
<rect x="614" y="12.2" width="17" height="5" rx="2.5" fill="#04060b"/>
<rect x="600.5" y="21" width="33" height="8" rx="1.5" fill="#050b16"/>
<circle cx="638.5" cy="27.3" r="2.3" fill="#c9d0dc"/>
<path d="M598 34 q12 -5 22 2 t22 -2 M598 41 q12 -5 22 2 t22 -2 M598 48 q12 -5 22 2 t22 -2" stroke="#17386a" stroke-width="0.7" fill="none"/>
<circle cx="613.5" cy="39" r="2.8" fill="none" stroke="#b9c9e6" stroke-width="0.9"/><path d="M611.5 43.5 h6" stroke="#b9c9e6" stroke-width="0.9"/>
<text x="620.5" y="44.5" font-size="9" fill="#fff" textLength="14" lengthAdjust="spacingAndGlyphs">2.5°</text>
<rect x="609" y="49.5" width="8.5" height="4" rx="1" fill="none" stroke="#2d5290" stroke-width="0.6"/>
<rect x="619" y="49.5" width="8.5" height="4" rx="1" fill="none" stroke="#2d5290" stroke-width="0.6"/>
<rect x="601" y="60.5" width="8" height="21" fill="#121a28" rx="1.2"/>
<circle cx="605" cy="70.5" r="1.6" fill="none" stroke="#2a58a8" stroke-width="0.8"/>
<rect x="602.5" y="63" width="4" height="1.2" fill="#8f98a8" />
<rect x="602.5" y="76.5" width="3.5" height="1.2" fill="#8f98a8" />
<rect x="611" y="60.5" width="8" height="21" fill="#121a28" rx="1.2"/>
<circle cx="615" cy="70.5" r="1.6" fill="none" stroke="#2a58a8" stroke-width="0.8"/>
<rect x="612.5" y="63" width="4" height="1.2" fill="#8f98a8" />
<rect x="612.5" y="76.5" width="3.5" height="1.2" fill="#8f98a8" />
<rect x="600.5" y="85" width="21" height="7.5" fill="#111826" rx="1.2"/>
<rect x="602.5" y="88" width="16" height="1.3" fill="#aab2c0" />
<rect x="600.5" y="96" width="21" height="7.5" fill="#111826" rx="1.2"/>
<rect x="602.5" y="99" width="6" height="1.3" fill="#aab2c0" />
<rect x="600.5" y="107" width="21" height="7.5" fill="#111826" rx="1.2"/>
<rect x="602.5" y="110" width="6" height="1.3" fill="#aab2c0" />
<rect x="622" y="45.3" width="52" height="92" rx="8" fill="#111214"/>
<rect x="622.7" y="46" width="50.6" height="92" rx="7.5" fill="none" stroke="#606267" stroke-width="0.9"/>
<rect x="670.6" y="54" width="1.8" height="80" fill="#3e4045"/>
<rect x="625" y="48" width="42.8" height="88" rx="5.5" fill="#fbfbfb"/>
<rect x="639" y="50.3" width="13.5" height="5" rx="2.5" fill="#07080a"/>
<rect x="626.5" y="58.3" width="32.5" height="6.5" rx="1.2" fill="#1f2024"/><circle cx="663.5" cy="60.5" r="2.7" fill="#1f2024"/><circle cx="663.5" cy="60.5" r="1.1" fill="#d0d0d0"/>
<rect x="628" y="73" width="10" height="0.8" fill="#6070e0" />
<rect x="628" y="75" width="9" height="0.8" fill="#6070e0" />
<rect x="657" y="72.5" width="8" height="0.8" fill="#6070e0" />
<rect x="628.5" y="78" width="37" height="1" fill="#777" />
<path d="M629 88.5 v-4.5 q5 -2.5 9 -1 t9 -2 t9 -1.5 t9 -2 v11z" fill="#8fcdf0"/>
<path d="M629 84 q5 -2.5 9 -1 t9 -2 t9 -1.5 t9 -2" stroke="#e03030" stroke-width="0.8" fill="none"/><path d="M629 86 q5 -2 9 -0.5 t9 -1.5 t9 -1 t9 -1.5" stroke="#2838c8" stroke-width="0.8" fill="none"/>
<path d="M629 92 q3 8 6 6 t6 -6 t7 -2 t5 8 t6 -7 t6 0" stroke="#e0603a" stroke-width="0.7" fill="none"/>
<rect x="628.5" y="89.5" width="37" height="0.4" fill="#aaa" />
<rect x="628.5" y="101" width="37" height="0.4" fill="#aaa" />
<rect x="628.5" y="113" width="37" height="0.4" fill="#aaa" />
<path d="M648 113 q2 -8 3.5 -8 t3 8" stroke="#30a848" stroke-width="0.8" fill="#9fdca8"/>
<path d="M629 108 h36" stroke="#e0603a" stroke-width="0.4" stroke-dasharray="1 1"/>
<rect x="628.5" y="114.5" width="37" height="6" fill="url(#pg)" />
<path d="M772.9 77.2C772.8 76.1 773.0 72.2 772.2 70.5C771.4 68.9 769.7 67.8 768.1 67.4C766.6 66.9 764.6 66.9 762.9 67.9C761.1 68.9 759.2 70.7 757.6 73.2C756.0 75.7 754.3 79.6 753.2 82.9C752.1 86.1 750.9 89.9 750.9 92.5C750.9 95.1 752.1 97.1 753.2 98.3C754.3 99.5 755.7 100.2 757.6 99.7C759.5 99.3 763.4 96.4 764.6 95.7L764.6 95.7C763.6 96.0 760.0 97.4 758.5 97.3C756.9 97.2 756.1 96.4 755.5 95.2C754.8 93.9 754.2 92.2 754.4 89.9C754.6 87.5 755.7 83.7 756.7 81.1C757.7 78.5 758.9 75.9 760.2 74.1C761.5 72.2 763.2 70.8 764.6 70.2C766.1 69.6 767.9 69.7 769.0 70.2C770.1 70.7 770.9 72.0 771.3 73.2C771.7 74.4 771.6 76.6 771.6 77.2Z" fill="#fff"/>
<text x="763.9" y="90.3" font-size="21" font-weight="bold" fill="#fff" stroke="#fff" stroke-width="0.35" textLength="91.3" lengthAdjust="spacingAndGlyphs">icmmeteo</text>
<rect x="860.4" y="72.7" width="25.5" height="25.2" rx="2.3" fill="#fff"/>
<text x="864.3" y="90.3" font-size="14.5" font-weight="bold" fill="#1a55a8" textLength="12.2" lengthAdjust="spacingAndGlyphs">M</text>
<circle cx="880.7" cy="80.8" r="1.7" fill="none" stroke="#1a55a8" stroke-width="1.1"/>
</g>
</g>
</svg>
</body></html>
